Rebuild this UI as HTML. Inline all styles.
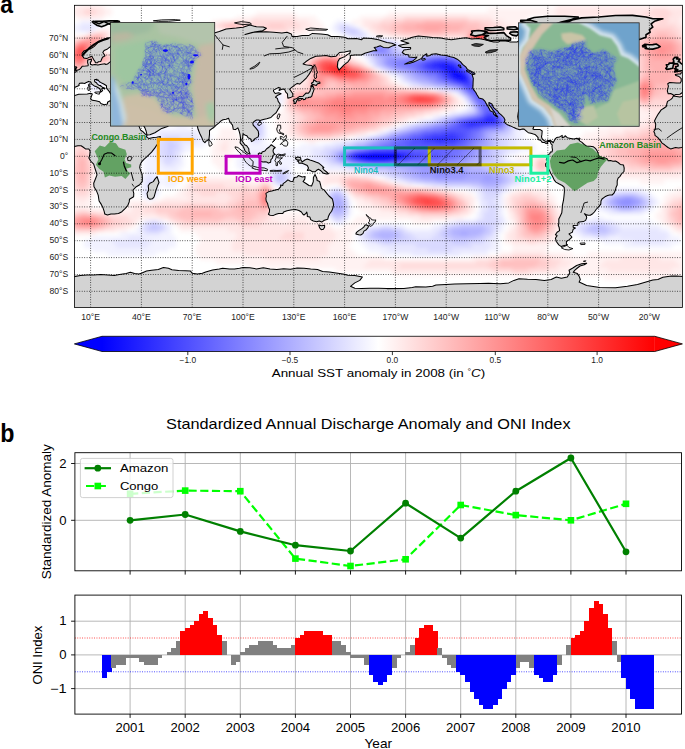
<!DOCTYPE html>
<html><head><meta charset="utf-8"><title>Figure</title>
<style>html,body{margin:0;padding:0;background:#fff;}svg{display:block;font-family:"Liberation Sans",sans-serif;}</style></head><body>
<svg width="685" height="749" viewBox="0 0 685 749">
<defs>
<clipPath id="mc"><rect x="74.4" y="5.3" width="608.0" height="302.3"/></clipPath>
<filter id="bl" x="-5%" y="-5%" width="110%" height="110%"><feGaussianBlur stdDeviation="6"/></filter>
<filter id="bl2" x="-5%" y="-5%" width="110%" height="110%"><feGaussianBlur stdDeviation="2.2"/></filter>
<linearGradient id="cb" x1="0" x2="1" y1="0" y2="0"><stop offset="0" stop-color="#0000ff"/><stop offset="0.5" stop-color="#ffffff"/><stop offset="1" stop-color="#ff0000"/></linearGradient>
<filter id="bl1" x="-5%" y="-5%" width="110%" height="110%"><feGaussianBlur stdDeviation="1"/></filter>
</defs>
<rect width="685" height="749" fill="#fff"/>
<g clip-path="url(#mc)">
<rect x="74.4" y="5.3" width="608.0" height="302.3" fill="#fff"/>
<g filter="url(#bl2)">
<path d="M360 152h36v4h-36zM356 156h40v4h-40z" fill="#0000ff"/>
<path d="M452 72h12v4h-12zM456 76h8v4h-8zM396 156h4v4h-4z" fill="#0d0dff"/>
<path d="M440 64h12v4h-12zM448 68h8v4h-8zM452 76h4v4h-4zM464 76h4v4h-4zM356 152h4v4h-4zM396 152h4v4h-4zM400 156h4v4h-4z" fill="#1919ff"/>
<path d="M432 64h8v4h-8zM452 64h4v4h-4zM444 68h4v4h-4zM456 68h4v4h-4zM448 72h4v4h-4zM460 80h8v4h-8zM488 116h4v4h-4zM484 120h12v4h-12zM400 152h4v4h-4zM352 156h4v4h-4z" fill="#2626ff"/>
<path d="M436 60h12v4h-12zM428 64h4v4h-4zM440 68h4v4h-4zM464 72h4v4h-4zM448 76h4v4h-4zM456 80h4v4h-4zM484 116h4v4h-4zM492 116h4v4h-4zM468 120h16v4h-16zM468 124h8v4h-8zM432 136h24v4h-24zM436 140h8v4h-8zM352 152h4v4h-4zM404 152h4v4h-4zM404 156h4v4h-4zM368 160h20v4h-20z" fill="#3333ff"/>
<path d="M432 60h4v4h-4zM448 60h4v4h-4zM424 64h4v4h-4zM456 64h4v4h-4zM432 68h8v4h-8zM460 68h4v4h-4zM444 72h4v4h-4zM468 80h4v4h-4zM464 120h4v4h-4zM496 120h4v4h-4zM464 124h4v4h-4zM476 124h8v4h-8zM444 132h12v4h-12zM424 136h8v4h-8zM456 136h4v4h-4zM424 140h12v4h-12zM444 140h12v4h-12zM408 152h4v4h-4zM348 156h4v4h-4zM408 156h4v4h-4zM364 160h4v4h-4zM388 160h4v4h-4z" fill="#4040ff"/>
<path d="M428 60h4v4h-4zM452 60h4v4h-4zM428 68h4v4h-4zM440 72h4v4h-4zM444 76h4v4h-4zM468 76h4v4h-4zM452 80h4v4h-4zM464 84h8v4h-8zM488 112h4v4h-4zM480 116h4v4h-4zM496 116h4v4h-4zM460 120h4v4h-4zM460 124h4v4h-4zM484 124h4v4h-4zM432 132h12v4h-12zM456 132h8v4h-8zM420 136h4v4h-4zM460 136h4v4h-4zM412 140h12v4h-12zM456 140h4v4h-4zM372 148h24v4h-24zM412 152h12v4h-12zM412 156h8v4h-8zM360 160h4v4h-4zM392 160h4v4h-4z" fill="#4d4dff"/>
<path d="M424 60h4v4h-4zM420 64h4v4h-4zM424 68h4v4h-4zM464 68h4v4h-4zM472 84h4v4h-4zM468 88h8v4h-8zM484 112h4v4h-4zM492 112h4v4h-4zM476 116h4v4h-4zM456 124h4v4h-4zM488 124h8v4h-8zM448 128h24v4h-24zM424 132h8v4h-8zM464 132h4v4h-4zM412 136h8v4h-8zM464 136h4v4h-4zM404 140h8v4h-8zM460 140h4v4h-4zM408 144h48v4h-48zM368 148h4v4h-4zM396 148h16v4h-16zM348 152h4v4h-4zM424 152h16v4h-16zM420 156h20v4h-20zM396 160h4v4h-4z" fill="#5959ff"/>
<path d="M440 56h4v4h-4zM420 60h4v4h-4zM456 60h4v4h-4zM416 64h4v4h-4zM460 64h4v4h-4zM420 68h4v4h-4zM436 72h4v4h-4zM468 72h4v4h-4zM440 76h4v4h-4zM448 80h4v4h-4zM472 80h4v4h-4zM460 84h4v4h-4zM476 88h4v4h-4zM472 92h8v4h-8zM476 96h8v4h-8zM480 100h4v4h-4zM484 104h4v4h-4zM484 108h8v4h-8zM472 116h4v4h-4zM456 120h4v4h-4zM500 120h4v4h-4zM452 124h4v4h-4zM496 124h4v4h-4zM440 128h8v4h-8zM472 128h8v4h-8zM420 132h4v4h-4zM468 132h4v4h-4zM408 136h4v4h-4zM468 136h4v4h-4zM396 140h8v4h-8zM464 140h4v4h-4zM392 144h16v4h-16zM456 144h8v4h-8zM364 148h4v4h-4zM412 148h36v4h-36zM440 152h12v4h-12zM344 156h4v4h-4zM440 156h8v4h-8zM356 160h4v4h-4zM400 160h8v4h-8z" fill="#6666ff"/>
<path d="M432 56h8v4h-8zM444 56h8v4h-8zM404 60h16v4h-16zM404 64h12v4h-12zM416 68h4v4h-4zM428 72h8v4h-8zM436 76h4v4h-4zM444 80h4v4h-4zM464 88h4v4h-4zM480 92h4v4h-4zM476 100h4v4h-4zM484 100h4v4h-4zM480 104h4v4h-4zM488 104h4v4h-4zM468 116h4v4h-4zM448 124h4v4h-4zM432 128h8v4h-8zM412 132h8v4h-8zM472 132h4v4h-4zM400 136h8v4h-8zM472 136h4v4h-4zM392 140h4v4h-4zM468 140h4v4h-4zM384 144h8v4h-8zM464 144h4v4h-4zM360 148h4v4h-4zM448 148h12v4h-12zM344 152h4v4h-4zM452 152h8v4h-8zM448 156h8v4h-8zM352 160h4v4h-4zM408 160h20v4h-20z" fill="#7373ff"/>
<path d="M376 48h8v4h-8zM428 56h4v4h-4zM452 56h4v4h-4zM396 60h8v4h-8zM460 60h4v4h-4zM396 64h8v4h-8zM412 68h4v4h-4zM468 68h4v4h-4zM424 72h4v4h-4zM472 76h4v4h-4zM440 80h4v4h-4zM456 84h4v4h-4zM476 84h4v4h-4zM468 92h4v4h-4zM472 96h4v4h-4zM484 96h4v4h-4zM480 108h4v4h-4zM492 108h4v4h-4zM480 112h4v4h-4zM496 112h4v4h-4zM464 116h4v4h-4zM500 116h4v4h-4zM452 120h4v4h-4zM444 124h4v4h-4zM500 124h4v4h-4zM424 128h8v4h-8zM480 128h4v4h-4zM408 132h4v4h-4zM476 132h4v4h-4zM396 136h4v4h-4zM476 136h4v4h-4zM388 140h4v4h-4zM472 140h4v4h-4zM380 144h4v4h-4zM468 144h4v4h-4zM356 148h4v4h-4zM460 148h8v4h-8zM460 152h4v4h-4zM456 156h8v4h-8zM428 160h16v4h-16z" fill="#8080ff"/>
<path d="M376 44h8v4h-8zM372 48h4v4h-4zM384 48h4v4h-4zM424 56h4v4h-4zM388 60h8v4h-8zM392 64h4v4h-4zM464 64h4v4h-4zM408 68h4v4h-4zM420 72h4v4h-4zM472 72h4v4h-4zM428 76h8v4h-8zM436 80h4v4h-4zM452 84h4v4h-4zM480 88h4v4h-4zM488 100h4v4h-4zM476 104h4v4h-4zM460 116h4v4h-4zM448 120h4v4h-4zM436 124h8v4h-8zM420 128h4v4h-4zM484 128h4v4h-4zM404 132h4v4h-4zM480 132h4v4h-4zM392 136h4v4h-4zM480 136h4v4h-4zM380 140h8v4h-8zM476 140h4v4h-4zM372 144h8v4h-8zM472 144h4v4h-4zM352 148h4v4h-4zM468 148h4v4h-4zM340 152h4v4h-4zM464 152h8v4h-8zM340 156h4v4h-4zM464 156h4v4h-4zM348 160h4v4h-4zM444 160h12v4h-12zM436 172h12v4h-12zM620 200h12v4h-12z" fill="#8c8cff"/>
<path d="M384 44h4v4h-4zM376 52h12v4h-12zM388 56h36v4h-36zM456 56h4v4h-4zM384 60h4v4h-4zM388 64h4v4h-4zM400 68h8v4h-8zM416 72h4v4h-4zM424 76h4v4h-4zM432 80h4v4h-4zM476 80h4v4h-4zM448 84h4v4h-4zM460 88h4v4h-4zM472 100h4v4h-4zM492 104h4v4h-4zM476 112h4v4h-4zM456 116h4v4h-4zM504 120h4v4h-4zM432 124h4v4h-4zM416 128h4v4h-4zM488 128h8v4h-8zM400 132h4v4h-4zM388 136h4v4h-4zM376 140h4v4h-4zM480 140h4v4h-4zM368 144h4v4h-4zM476 144h4v4h-4zM472 148h4v4h-4zM472 152h4v4h-4zM468 156h4v4h-4zM456 160h8v4h-8zM412 164h36v4h-36zM420 168h36v4h-36zM420 172h16v4h-16zM448 172h20v4h-20zM432 176h32v4h-32zM484 176h8v4h-8zM624 196h8v4h-8zM616 200h4v4h-4zM632 200h8v4h-8zM620 204h12v4h-12z" fill="#9999ff"/>
<path d="M372 44h4v4h-4zM368 48h4v4h-4zM388 48h4v4h-4zM388 52h4v4h-4zM384 56h4v4h-4zM460 56h4v4h-4zM464 60h4v4h-4zM384 64h4v4h-4zM468 64h4v4h-4zM396 68h4v4h-4zM472 68h4v4h-4zM412 72h4v4h-4zM416 76h8v4h-8zM476 76h4v4h-4zM428 80h4v4h-4zM444 84h4v4h-4zM464 92h4v4h-4zM484 92h4v4h-4zM468 96h4v4h-4zM476 108h4v4h-4zM496 108h4v4h-4zM500 112h4v4h-4zM504 116h4v4h-4zM444 120h4v4h-4zM428 124h4v4h-4zM504 124h4v4h-4zM412 128h4v4h-4zM496 128h8v4h-8zM396 132h4v4h-4zM484 132h4v4h-4zM384 136h4v4h-4zM484 136h4v4h-4zM372 140h4v4h-4zM484 140h4v4h-4zM364 144h4v4h-4zM480 144h8v4h-8zM348 148h4v4h-4zM476 148h8v4h-8zM336 152h4v4h-4zM476 152h4v4h-4zM336 156h4v4h-4zM472 156h8v4h-8zM344 160h4v4h-4zM464 160h4v4h-4zM372 164h40v4h-40zM448 164h12v4h-12zM408 168h12v4h-12zM456 168h12v4h-12zM412 172h8v4h-8zM468 172h24v4h-24zM420 176h12v4h-12zM464 176h20v4h-20zM492 176h8v4h-8zM480 180h20v4h-20zM616 196h8v4h-8zM632 196h4v4h-4zM336 200h4v4h-4zM612 200h4v4h-4zM336 204h4v4h-4zM616 204h4v4h-4zM632 204h4v4h-4zM460 232h8v4h-8z" fill="#a6a6ff"/>
<path d="M388 44h4v4h-4zM372 52h4v4h-4zM392 52h4v4h-4zM432 52h20v4h-20zM380 56h4v4h-4zM380 60h4v4h-4zM468 60h4v4h-4zM472 64h4v4h-4zM392 68h4v4h-4zM408 72h4v4h-4zM476 72h4v4h-4zM412 76h4v4h-4zM420 80h8v4h-8zM436 84h8v4h-8zM480 84h4v4h-4zM488 96h4v4h-4zM472 112h4v4h-4zM452 116h4v4h-4zM440 120h4v4h-4zM424 124h4v4h-4zM408 128h4v4h-4zM392 132h4v4h-4zM488 132h4v4h-4zM380 136h4v4h-4zM488 136h4v4h-4zM368 140h4v4h-4zM488 140h4v4h-4zM356 144h8v4h-8zM488 144h4v4h-4zM344 148h4v4h-4zM484 148h4v4h-4zM480 152h8v4h-8zM480 156h4v4h-4zM340 160h4v4h-4zM468 160h8v4h-8zM364 164h8v4h-8zM460 164h12v4h-12zM400 168h8v4h-8zM468 168h16v4h-16zM404 172h8v4h-8zM492 172h8v4h-8zM412 176h8v4h-8zM500 176h4v4h-4zM436 180h44v4h-44zM500 180h4v4h-4zM484 184h12v4h-12zM332 196h8v4h-8zM612 196h4v4h-4zM636 196h4v4h-4zM332 200h4v4h-4zM340 200h4v4h-4zM608 200h4v4h-4zM640 200h4v4h-4zM332 204h4v4h-4zM340 204h4v4h-4zM612 204h4v4h-4zM636 204h4v4h-4zM332 208h12v4h-12zM452 228h32v4h-32zM376 232h20v4h-20zM452 232h8v4h-8zM468 232h12v4h-12zM380 236h12v4h-12z" fill="#b2b2ff"/>
<path d="M368 44h4v4h-4zM392 44h4v4h-4zM392 48h4v4h-4zM368 52h4v4h-4zM396 52h8v4h-8zM424 52h8v4h-8zM452 52h8v4h-8zM376 56h4v4h-4zM464 56h4v4h-4zM376 60h4v4h-4zM380 64h4v4h-4zM388 68h4v4h-4zM476 68h4v4h-4zM404 72h4v4h-4zM408 76h4v4h-4zM416 80h4v4h-4zM480 80h4v4h-4zM432 84h4v4h-4zM456 88h4v4h-4zM484 88h4v4h-4zM492 100h4v4h-4zM472 104h4v4h-4zM468 112h4v4h-4zM448 116h4v4h-4zM436 120h4v4h-4zM508 120h4v4h-4zM416 124h8v4h-8zM508 124h4v4h-4zM404 128h4v4h-4zM504 128h4v4h-4zM388 132h4v4h-4zM492 132h8v4h-8zM376 136h4v4h-4zM492 136h4v4h-4zM364 140h4v4h-4zM492 140h4v4h-4zM352 144h4v4h-4zM492 144h4v4h-4zM340 148h4v4h-4zM488 148h4v4h-4zM332 152h4v4h-4zM488 152h4v4h-4zM332 156h4v4h-4zM484 156h8v4h-8zM336 160h4v4h-4zM476 160h8v4h-8zM356 164h8v4h-8zM472 164h12v4h-12zM388 168h12v4h-12zM484 168h12v4h-12zM396 172h8v4h-8zM500 172h4v4h-4zM276 176h8v4h-8zM404 176h8v4h-8zM504 176h4v4h-4zM424 180h12v4h-12zM504 180h4v4h-4zM480 184h4v4h-4zM496 184h4v4h-4zM332 192h8v4h-8zM340 196h4v4h-4zM640 196h4v4h-4zM644 200h4v4h-4zM608 204h4v4h-4zM640 204h4v4h-4zM620 208h12v4h-12zM332 212h12v4h-12zM152 224h4v4h-4zM460 224h24v4h-24zM592 224h12v4h-12zM380 228h12v4h-12zM448 228h4v4h-4zM484 228h4v4h-4zM588 228h20v4h-20zM372 232h4v4h-4zM396 232h4v4h-4zM444 232h8v4h-8zM480 232h4v4h-4zM372 236h8v4h-8zM392 236h8v4h-8zM452 236h24v4h-24z" fill="#bfbfff"/>
<path d="M344 28h12v4h-12zM352 32h4v4h-4zM376 40h12v4h-12zM364 48h4v4h-4zM396 48h4v4h-4zM404 52h20v4h-20zM460 52h4v4h-4zM372 56h4v4h-4zM468 56h4v4h-4zM472 60h4v4h-4zM376 64h4v4h-4zM476 64h4v4h-4zM480 68h4v4h-4zM400 72h4v4h-4zM480 72h4v4h-4zM404 76h4v4h-4zM480 76h4v4h-4zM412 80h4v4h-4zM424 84h8v4h-8zM452 88h4v4h-4zM460 92h4v4h-4zM488 92h4v4h-4zM468 100h4v4h-4zM496 104h4v4h-4zM500 108h4v4h-4zM464 112h4v4h-4zM504 112h4v4h-4zM444 116h4v4h-4zM508 116h4v4h-4zM432 120h4v4h-4zM252 124h8v4h-8zM412 124h4v4h-4zM252 128h8v4h-8zM400 128h4v4h-4zM508 128h4v4h-4zM252 132h8v4h-8zM500 132h8v4h-8zM372 136h4v4h-4zM496 136h4v4h-4zM168 140h4v4h-4zM356 140h8v4h-8zM496 140h4v4h-4zM168 144h8v4h-8zM344 144h8v4h-8zM496 144h4v4h-4zM168 148h4v4h-4zM332 148h8v4h-8zM492 148h8v4h-8zM168 152h4v4h-4zM328 152h4v4h-4zM492 152h8v4h-8zM328 156h4v4h-4zM492 156h4v4h-4zM332 160h4v4h-4zM484 160h12v4h-12zM348 164h8v4h-8zM484 164h12v4h-12zM376 168h12v4h-12zM496 168h4v4h-4zM276 172h8v4h-8zM388 172h8v4h-8zM504 172h4v4h-4zM284 176h4v4h-4zM400 176h4v4h-4zM508 176h4v4h-4zM276 180h8v4h-8zM416 180h8v4h-8zM508 180h4v4h-4zM472 184h8v4h-8zM500 184h4v4h-4zM484 188h16v4h-16zM340 192h4v4h-4zM620 192h16v4h-16zM328 196h4v4h-4zM608 196h4v4h-4zM328 200h4v4h-4zM344 200h4v4h-4zM604 200h4v4h-4zM328 204h4v4h-4zM344 204h4v4h-4zM644 204h4v4h-4zM328 208h4v4h-4zM344 208h4v4h-4zM616 208h4v4h-4zM632 208h8v4h-8zM336 216h4v4h-4zM148 224h4v4h-4zM156 224h8v4h-8zM452 224h8v4h-8zM484 224h8v4h-8zM588 224h4v4h-4zM604 224h4v4h-4zM148 228h12v4h-12zM372 228h8v4h-8zM392 228h8v4h-8zM444 228h4v4h-4zM488 228h4v4h-4zM584 228h4v4h-4zM608 228h4v4h-4zM368 232h4v4h-4zM400 232h4v4h-4zM440 232h4v4h-4zM484 232h8v4h-8zM592 232h16v4h-16zM368 236h4v4h-4zM400 236h8v4h-8zM444 236h8v4h-8zM476 236h8v4h-8zM384 240h8v4h-8zM452 240h16v4h-16z" fill="#ccccff"/>
<path d="M340 24h8v4h-8zM340 28h4v4h-4zM356 28h4v4h-4zM348 32h4v4h-4zM356 32h8v4h-8zM372 40h4v4h-4zM388 40h4v4h-4zM364 44h4v4h-4zM396 44h4v4h-4zM400 48h4v4h-4zM424 48h32v4h-32zM364 52h4v4h-4zM464 52h8v4h-8zM472 56h8v4h-8zM372 60h4v4h-4zM476 60h8v4h-8zM480 64h8v4h-8zM384 68h4v4h-4zM484 68h4v4h-4zM396 72h4v4h-4zM484 72h4v4h-4zM484 76h4v4h-4zM92 80h8v4h-8zM408 80h4v4h-4zM484 80h4v4h-4zM92 84h8v4h-8zM420 84h4v4h-4zM484 84h4v4h-4zM448 88h4v4h-4zM464 96h4v4h-4zM492 96h4v4h-4zM472 108h4v4h-4zM460 112h4v4h-4zM440 116h4v4h-4zM512 116h4v4h-4zM252 120h8v4h-8zM424 120h8v4h-8zM512 120h4v4h-4zM260 124h4v4h-4zM408 124h4v4h-4zM512 124h4v4h-4zM260 128h4v4h-4zM396 128h4v4h-4zM260 132h4v4h-4zM384 132h4v4h-4zM508 132h4v4h-4zM164 136h16v4h-16zM252 136h8v4h-8zM368 136h4v4h-4zM500 136h8v4h-8zM160 140h8v4h-8zM172 140h8v4h-8zM352 140h4v4h-4zM500 140h8v4h-8zM160 144h8v4h-8zM176 144h4v4h-4zM336 144h8v4h-8zM500 144h8v4h-8zM160 148h8v4h-8zM172 148h8v4h-8zM324 148h8v4h-8zM500 148h8v4h-8zM160 152h8v4h-8zM172 152h4v4h-4zM320 152h8v4h-8zM500 152h4v4h-4zM164 156h12v4h-12zM324 156h4v4h-4zM496 156h4v4h-4zM164 160h8v4h-8zM328 160h4v4h-4zM496 160h8v4h-8zM340 164h8v4h-8zM496 164h8v4h-8zM364 168h12v4h-12zM500 168h8v4h-8zM272 172h4v4h-4zM284 172h4v4h-4zM380 172h8v4h-8zM508 172h8v4h-8zM272 176h4v4h-4zM392 176h8v4h-8zM512 176h8v4h-8zM148 180h4v4h-4zM284 180h4v4h-4zM408 180h8v4h-8zM512 180h4v4h-4zM148 184h4v4h-4zM444 184h28v4h-28zM504 184h4v4h-4zM148 188h4v4h-4zM336 188h4v4h-4zM480 188h4v4h-4zM500 188h4v4h-4zM148 192h4v4h-4zM328 192h4v4h-4zM484 192h16v4h-16zM612 192h8v4h-8zM636 192h4v4h-4zM344 196h4v4h-4zM484 196h12v4h-12zM604 196h4v4h-4zM644 196h4v4h-4zM488 200h4v4h-4zM600 200h4v4h-4zM648 200h4v4h-4zM488 204h8v4h-8zM604 204h4v4h-4zM488 208h8v4h-8zM612 208h4v4h-4zM640 208h4v4h-4zM328 212h4v4h-4zM344 212h4v4h-4zM484 212h12v4h-12zM332 216h4v4h-4zM340 216h4v4h-4zM484 216h12v4h-12zM152 220h4v4h-4zM476 220h24v4h-24zM144 224h4v4h-4zM444 224h8v4h-8zM492 224h4v4h-4zM580 224h8v4h-8zM608 224h8v4h-8zM144 228h4v4h-4zM160 228h4v4h-4zM368 228h4v4h-4zM400 228h4v4h-4zM440 228h4v4h-4zM492 228h4v4h-4zM580 228h4v4h-4zM612 228h8v4h-8zM364 232h4v4h-4zM404 232h8v4h-8zM436 232h4v4h-4zM584 232h8v4h-8zM608 232h8v4h-8zM364 236h4v4h-4zM408 236h8v4h-8zM432 236h12v4h-12zM484 236h4v4h-4zM376 240h8v4h-8zM392 240h60v4h-60zM468 240h16v4h-16zM416 244h56v4h-56zM428 248h24v4h-24z" fill="#d9d9ff"/>
<path d="M80 24h20v4h-20zM336 24h4v4h-4zM348 24h4v4h-4zM80 28h12v4h-12zM336 28h4v4h-4zM344 32h4v4h-4zM364 32h4v4h-4zM356 36h8v4h-8zM368 40h4v4h-4zM392 40h4v4h-4zM400 44h4v4h-4zM360 48h4v4h-4zM404 48h20v4h-20zM456 48h12v4h-12zM472 52h8v4h-8zM368 56h4v4h-4zM480 56h8v4h-8zM368 60h4v4h-4zM484 60h8v4h-8zM372 64h4v4h-4zM488 64h8v4h-8zM380 68h4v4h-4zM488 68h8v4h-8zM392 72h4v4h-4zM488 72h8v4h-8zM400 76h4v4h-4zM488 76h8v4h-8zM404 80h4v4h-4zM488 80h4v4h-4zM412 84h8v4h-8zM488 84h4v4h-4zM440 88h8v4h-8zM488 88h4v4h-4zM276 96h4v4h-4zM496 100h4v4h-4zM468 104h4v4h-4zM500 104h4v4h-4zM468 108h4v4h-4zM504 108h4v4h-4zM452 112h8v4h-8zM508 112h8v4h-8zM436 116h4v4h-4zM516 116h8v4h-8zM260 120h4v4h-4zM420 120h4v4h-4zM516 120h8v4h-8zM248 124h4v4h-4zM404 124h4v4h-4zM516 124h4v4h-4zM248 128h4v4h-4zM392 128h4v4h-4zM512 128h4v4h-4zM160 132h36v4h-36zM248 132h4v4h-4zM380 132h4v4h-4zM512 132h4v4h-4zM156 136h8v4h-8zM180 136h20v4h-20zM260 136h4v4h-4zM364 136h4v4h-4zM508 136h8v4h-8zM152 140h8v4h-8zM180 140h16v4h-16zM252 140h8v4h-8zM344 140h8v4h-8zM508 140h8v4h-8zM152 144h8v4h-8zM180 144h4v4h-4zM324 144h12v4h-12zM508 144h8v4h-8zM152 148h8v4h-8zM180 148h4v4h-4zM312 148h12v4h-12zM508 148h12v4h-12zM156 152h4v4h-4zM176 152h4v4h-4zM248 152h20v4h-20zM312 152h8v4h-8zM504 152h4v4h-4zM156 156h8v4h-8zM176 156h4v4h-4zM244 156h28v4h-28zM312 156h12v4h-12zM500 156h4v4h-4zM160 160h4v4h-4zM172 160h8v4h-8zM244 160h28v4h-28zM316 160h12v4h-12zM504 160h8v4h-8zM164 164h12v4h-12zM248 164h20v4h-20zM328 164h12v4h-12zM504 164h8v4h-8zM272 168h16v4h-16zM348 168h16v4h-16zM508 168h12v4h-12zM148 172h4v4h-4zM288 172h4v4h-4zM372 172h8v4h-8zM516 172h8v4h-8zM144 176h12v4h-12zM288 176h4v4h-4zM388 176h4v4h-4zM520 176h8v4h-8zM144 180h4v4h-4zM152 180h4v4h-4zM272 180h4v4h-4zM404 180h4v4h-4zM516 180h8v4h-8zM144 184h4v4h-4zM152 184h4v4h-4zM280 184h4v4h-4zM432 184h12v4h-12zM508 184h4v4h-4zM144 188h4v4h-4zM152 188h4v4h-4zM332 188h4v4h-4zM476 188h4v4h-4zM504 188h4v4h-4zM144 192h4v4h-4zM152 192h4v4h-4zM480 192h4v4h-4zM608 192h4v4h-4zM640 192h8v4h-8zM148 196h4v4h-4zM480 196h4v4h-4zM496 196h4v4h-4zM600 196h4v4h-4zM648 196h4v4h-4zM324 200h4v4h-4zM480 200h8v4h-8zM492 200h8v4h-8zM652 200h4v4h-4zM324 204h4v4h-4zM480 204h8v4h-8zM496 204h4v4h-4zM600 204h4v4h-4zM648 204h4v4h-4zM480 208h8v4h-8zM496 208h4v4h-4zM604 208h8v4h-8zM644 208h4v4h-4zM480 212h4v4h-4zM496 212h4v4h-4zM344 216h4v4h-4zM480 216h4v4h-4zM496 216h8v4h-8zM144 220h8v4h-8zM156 220h4v4h-4zM336 220h8v4h-8zM456 220h20v4h-20zM500 220h4v4h-4zM584 220h28v4h-28zM140 224h4v4h-4zM164 224h4v4h-4zM380 224h12v4h-12zM440 224h4v4h-4zM496 224h4v4h-4zM576 224h4v4h-4zM616 224h4v4h-4zM140 228h4v4h-4zM164 228h4v4h-4zM364 228h4v4h-4zM404 228h4v4h-4zM432 228h8v4h-8zM496 228h4v4h-4zM576 228h4v4h-4zM620 228h40v4h-40zM144 232h16v4h-16zM360 232h4v4h-4zM412 232h24v4h-24zM492 232h4v4h-4zM580 232h4v4h-4zM616 232h52v4h-52zM128 236h16v4h-16zM360 236h4v4h-4zM416 236h16v4h-16zM488 236h8v4h-8zM596 236h12v4h-12zM620 236h48v4h-48zM112 240h40v4h-40zM368 240h8v4h-8zM484 240h8v4h-8zM632 240h32v4h-32zM116 244h32v4h-32zM380 244h36v4h-36zM472 244h20v4h-20zM388 248h40v4h-40zM452 248h36v4h-36zM412 252h48v4h-48z" fill="#e6e6ff"/>
<path d="M80 20h20v4h-20zM336 20h8v4h-8zM72 24h8v4h-8zM100 24h4v4h-4zM332 24h4v4h-4zM352 24h4v4h-4zM72 28h8v4h-8zM92 28h4v4h-4zM332 28h4v4h-4zM360 28h4v4h-4zM340 32h4v4h-4zM348 36h8v4h-8zM364 36h12v4h-12zM360 40h8v4h-8zM396 40h4v4h-4zM360 44h4v4h-4zM404 44h72v4h-72zM356 48h4v4h-4zM468 48h20v4h-20zM360 52h4v4h-4zM480 52h16v4h-16zM364 56h4v4h-4zM488 56h12v4h-12zM492 60h12v4h-12zM496 64h8v4h-8zM496 68h12v4h-12zM388 72h4v4h-4zM496 72h12v4h-12zM92 76h8v4h-8zM396 76h4v4h-4zM496 76h12v4h-12zM88 80h4v4h-4zM100 80h4v4h-4zM400 80h4v4h-4zM492 80h12v4h-12zM88 84h4v4h-4zM100 84h4v4h-4zM408 84h4v4h-4zM492 84h8v4h-8zM92 88h8v4h-8zM436 88h4v4h-4zM492 88h8v4h-8zM276 92h8v4h-8zM456 92h4v4h-4zM492 92h4v4h-4zM272 96h4v4h-4zM280 96h4v4h-4zM496 96h4v4h-4zM276 100h8v4h-8zM464 100h4v4h-4zM500 100h4v4h-4zM276 104h4v4h-4zM504 104h4v4h-4zM464 108h4v4h-4zM508 108h20v4h-20zM448 112h4v4h-4zM516 112h20v4h-20zM252 116h12v4h-12zM432 116h4v4h-4zM524 116h16v4h-16zM248 120h4v4h-4zM416 120h4v4h-4zM524 120h12v4h-12zM176 124h12v4h-12zM264 124h4v4h-4zM400 124h4v4h-4zM520 124h12v4h-12zM152 128h56v4h-56zM264 128h4v4h-4zM388 128h4v4h-4zM516 128h12v4h-12zM148 132h12v4h-12zM196 132h12v4h-12zM264 132h4v4h-4zM376 132h4v4h-4zM516 132h8v4h-8zM144 136h12v4h-12zM200 136h12v4h-12zM248 136h4v4h-4zM264 136h4v4h-4zM356 136h8v4h-8zM516 136h8v4h-8zM144 140h8v4h-8zM196 140h12v4h-12zM248 140h4v4h-4zM260 140h4v4h-4zM332 140h12v4h-12zM516 140h16v4h-16zM144 144h8v4h-8zM184 144h20v4h-20zM248 144h24v4h-24zM300 144h24v4h-24zM516 144h20v4h-20zM144 148h8v4h-8zM184 148h8v4h-8zM244 148h68v4h-68zM520 148h16v4h-16zM144 152h12v4h-12zM180 152h4v4h-4zM240 152h8v4h-8zM268 152h44v4h-44zM508 152h8v4h-8zM144 156h12v4h-12zM180 156h4v4h-4zM236 156h8v4h-8zM272 156h40v4h-40zM504 156h4v4h-4zM144 160h16v4h-16zM180 160h4v4h-4zM236 160h8v4h-8zM272 160h44v4h-44zM512 160h16v4h-16zM144 164h20v4h-20zM176 164h8v4h-8zM236 164h12v4h-12zM268 164h24v4h-24zM300 164h28v4h-28zM512 164h16v4h-16zM144 168h36v4h-36zM240 168h32v4h-32zM288 168h4v4h-4zM320 168h28v4h-28zM520 168h8v4h-8zM144 172h4v4h-4zM152 172h8v4h-8zM164 172h16v4h-16zM256 172h4v4h-4zM268 172h4v4h-4zM364 172h8v4h-8zM524 172h8v4h-8zM140 176h4v4h-4zM156 176h4v4h-4zM164 176h20v4h-20zM268 176h4v4h-4zM292 176h4v4h-4zM384 176h4v4h-4zM528 176h8v4h-8zM140 180h4v4h-4zM156 180h24v4h-24zM288 180h4v4h-4zM396 180h8v4h-8zM524 180h8v4h-8zM140 184h4v4h-4zM156 184h4v4h-4zM164 184h12v4h-12zM276 184h4v4h-4zM284 184h4v4h-4zM424 184h8v4h-8zM512 184h8v4h-8zM140 188h4v4h-4zM156 188h4v4h-4zM328 188h4v4h-4zM340 188h4v4h-4zM468 188h8v4h-8zM508 188h4v4h-4zM612 188h32v4h-32zM140 192h4v4h-4zM156 192h4v4h-4zM324 192h4v4h-4zM344 192h4v4h-4zM476 192h4v4h-4zM500 192h4v4h-4zM600 192h8v4h-8zM648 192h4v4h-4zM144 196h4v4h-4zM152 196h4v4h-4zM324 196h4v4h-4zM476 196h4v4h-4zM500 196h4v4h-4zM596 196h4v4h-4zM652 196h4v4h-4zM348 200h4v4h-4zM500 200h4v4h-4zM592 200h8v4h-8zM656 200h4v4h-4zM348 204h4v4h-4zM500 204h4v4h-4zM592 204h8v4h-8zM652 204h4v4h-4zM324 208h4v4h-4zM348 208h4v4h-4zM500 208h4v4h-4zM596 208h8v4h-8zM648 208h4v4h-4zM324 212h4v4h-4zM348 212h4v4h-4zM476 212h4v4h-4zM500 212h4v4h-4zM608 212h36v4h-36zM328 216h4v4h-4zM476 216h4v4h-4zM592 216h12v4h-12zM160 220h4v4h-4zM332 220h4v4h-4zM448 220h8v4h-8zM504 220h4v4h-4zM576 220h8v4h-8zM612 220h40v4h-40zM168 224h4v4h-4zM368 224h12v4h-12zM392 224h12v4h-12zM432 224h8v4h-8zM500 224h4v4h-4zM572 224h4v4h-4zM620 224h40v4h-40zM136 228h4v4h-4zM168 228h4v4h-4zM360 228h4v4h-4zM408 228h24v4h-24zM500 228h4v4h-4zM568 228h8v4h-8zM660 228h8v4h-8zM120 232h24v4h-24zM160 232h12v4h-12zM356 232h4v4h-4zM496 232h4v4h-4zM572 232h8v4h-8zM668 232h4v4h-4zM92 236h36v4h-36zM144 236h32v4h-32zM356 236h4v4h-4zM496 236h4v4h-4zM580 236h16v4h-16zM608 236h12v4h-12zM668 236h12v4h-12zM84 240h28v4h-28zM152 240h24v4h-24zM360 240h8v4h-8zM492 240h8v4h-8zM604 240h28v4h-28zM664 240h16v4h-16zM84 244h32v4h-32zM148 244h28v4h-28zM364 244h16v4h-16zM492 244h8v4h-8zM624 244h48v4h-48zM92 248h76v4h-76zM368 248h20v4h-20zM488 248h12v4h-12zM108 252h48v4h-48zM380 252h32v4h-32zM460 252h28v4h-28z" fill="#f2f2ff"/>
<path d="M660 0h4v4h-4zM76 4h28v4h-28zM556 4h132v4h-132zM68 8h8v4h-8zM104 8h8v4h-8zM488 8h68v4h-68zM684 8h4v4h-4zM68 12h8v4h-8zM104 12h8v4h-8zM256 12h40v4h-40zM388 12h168v4h-168zM76 16h28v4h-28zM236 16h16v4h-16zM296 16h20v4h-20zM360 16h24v4h-24zM492 16h36v4h-36zM552 16h88v4h-88zM680 16h8v4h-8zM212 20h8v4h-8zM308 20h12v4h-12zM352 20h12v4h-12zM504 20h20v4h-20zM632 20h12v4h-12zM680 20h8v4h-8zM208 24h4v4h-4zM312 24h12v4h-12zM360 24h4v4h-4zM512 24h16v4h-16zM632 24h8v4h-8zM684 24h4v4h-4zM100 28h12v4h-12zM212 28h12v4h-12zM304 28h20v4h-20zM508 28h20v4h-20zM632 28h8v4h-8zM684 28h4v4h-4zM108 32h4v4h-4zM244 32h64v4h-64zM372 32h4v4h-4zM500 32h20v4h-20zM628 32h8v4h-8zM72 36h4v4h-4zM108 36h4v4h-4zM392 36h12v4h-12zM496 36h8v4h-8zM628 36h8v4h-8zM68 40h4v4h-4zM468 40h4v4h-4zM488 40h4v4h-4zM624 40h8v4h-8zM104 44h4v4h-4zM624 44h8v4h-8zM96 48h8v4h-8zM624 48h8v4h-8zM108 52h8v4h-8zM312 52h8v4h-8zM340 52h12v4h-12zM624 52h8v4h-8zM304 56h4v4h-4zM352 56h4v4h-4zM624 56h8v4h-8zM112 60h4v4h-4zM300 60h4v4h-4zM360 60h4v4h-4zM624 60h8v4h-8zM88 64h4v4h-4zM296 64h8v4h-8zM624 64h8v4h-8zM68 68h4v4h-4zM292 68h12v4h-12zM624 68h8v4h-8zM72 72h16v4h-16zM288 72h16v4h-16zM384 72h4v4h-4zM624 72h8v4h-8zM284 76h20v4h-20zM388 76h4v4h-4zM624 76h8v4h-8zM280 80h20v4h-20zM392 80h4v4h-4zM628 80h4v4h-4zM284 84h8v4h-8zM400 84h4v4h-4zM628 84h4v4h-4zM284 88h4v4h-4zM428 88h4v4h-4zM628 88h4v4h-4zM284 92h4v4h-4zM628 92h4v4h-4zM284 96h4v4h-4zM456 96h4v4h-4zM628 96h4v4h-4zM684 96h4v4h-4zM268 100h4v4h-4zM460 100h4v4h-4zM632 100h4v4h-4zM684 100h4v4h-4zM268 104h4v4h-4zM456 104h8v4h-8zM632 104h8v4h-8zM680 104h8v4h-8zM268 108h4v4h-4zM448 108h8v4h-8zM636 108h8v4h-8zM676 108h12v4h-12zM272 112h16v4h-16zM432 112h8v4h-8zM636 112h16v4h-16zM676 112h12v4h-12zM276 116h12v4h-12zM416 116h8v4h-8zM636 116h12v4h-12zM684 116h4v4h-4zM276 120h12v4h-12zM404 120h4v4h-4zM628 120h16v4h-16zM276 124h12v4h-12zM392 124h4v4h-4zM608 124h28v4h-28zM76 128h12v4h-12zM220 128h16v4h-16zM276 128h12v4h-12zM380 128h4v4h-4zM596 128h28v4h-28zM76 132h12v4h-12zM220 132h16v4h-16zM280 132h8v4h-8zM364 132h4v4h-4zM584 132h24v4h-24zM72 136h8v4h-8zM84 136h8v4h-8zM216 136h24v4h-24zM288 136h8v4h-8zM340 136h8v4h-8zM580 136h20v4h-20zM72 140h4v4h-4zM88 140h4v4h-4zM216 140h8v4h-8zM228 140h12v4h-12zM308 140h8v4h-8zM576 140h16v4h-16zM68 144h4v4h-4zM92 144h4v4h-4zM212 144h8v4h-8zM228 144h12v4h-12zM572 144h16v4h-16zM68 148h4v4h-4zM92 148h4v4h-4zM212 148h8v4h-8zM228 148h8v4h-8zM572 148h16v4h-16zM68 152h4v4h-4zM92 152h4v4h-4zM212 152h20v4h-20zM540 152h4v4h-4zM572 152h16v4h-16zM68 156h4v4h-4zM92 156h4v4h-4zM212 156h20v4h-20zM516 156h20v4h-20zM548 156h4v4h-4zM572 156h16v4h-16zM68 160h4v4h-4zM92 160h4v4h-4zM212 160h16v4h-16zM532 160h4v4h-4zM576 160h16v4h-16zM68 164h4v4h-4zM92 164h4v4h-4zM216 164h12v4h-12zM580 164h20v4h-20zM220 168h8v4h-8zM532 168h4v4h-4zM548 168h4v4h-4zM584 168h24v4h-24zM68 172h4v4h-4zM92 172h4v4h-4zM324 172h32v4h-32zM536 172h4v4h-4zM544 172h4v4h-4zM596 172h28v4h-28zM680 172h8v4h-8zM68 176h4v4h-4zM92 176h4v4h-4zM192 176h48v4h-48zM316 176h8v4h-8zM372 176h4v4h-4zM608 176h80v4h-80zM68 180h4v4h-4zM92 180h4v4h-4zM188 180h4v4h-4zM236 180h24v4h-24zM268 180h4v4h-4zM316 180h8v4h-8zM388 180h4v4h-4zM640 180h24v4h-24zM68 184h4v4h-4zM92 184h4v4h-4zM184 184h4v4h-4zM320 184h8v4h-8zM404 184h8v4h-8zM68 188h4v4h-4zM92 188h4v4h-4zM180 188h8v4h-8zM272 188h4v4h-4zM344 188h4v4h-4zM444 188h8v4h-8zM516 188h12v4h-12zM532 188h16v4h-16zM676 188h12v4h-12zM68 192h4v4h-4zM92 192h4v4h-4zM176 192h8v4h-8zM348 192h4v4h-4zM464 192h8v4h-8zM508 192h4v4h-4zM544 192h8v4h-8zM668 192h16v4h-16zM72 196h4v4h-4zM88 196h4v4h-4zM164 196h24v4h-24zM352 196h4v4h-4zM472 196h4v4h-4zM504 196h4v4h-4zM548 196h8v4h-8zM664 196h8v4h-8zM72 200h8v4h-8zM84 200h8v4h-8zM128 200h20v4h-20zM152 200h8v4h-8zM356 200h8v4h-8zM472 200h4v4h-4zM504 200h4v4h-4zM552 200h4v4h-4zM664 200h4v4h-4zM72 204h20v4h-20zM124 204h8v4h-8zM356 204h16v4h-16zM472 204h4v4h-4zM504 204h4v4h-4zM556 204h4v4h-4zM660 204h4v4h-4zM68 208h8v4h-8zM88 208h44v4h-44zM272 208h4v4h-4zM360 208h20v4h-20zM472 208h4v4h-4zM556 208h8v4h-8zM660 208h4v4h-4zM272 212h40v4h-40zM368 212h28v4h-28zM468 212h4v4h-4zM508 212h4v4h-4zM560 212h4v4h-4zM656 212h8v4h-8zM140 216h20v4h-20zM272 216h52v4h-52zM356 216h64v4h-64zM448 216h16v4h-16zM508 216h4v4h-4zM560 216h4v4h-4zM656 216h8v4h-8zM136 220h4v4h-4zM168 220h4v4h-4zM280 220h8v4h-8zM308 220h20v4h-20zM352 220h16v4h-16zM412 220h20v4h-20zM512 220h4v4h-4zM560 220h4v4h-4zM660 220h4v4h-4zM132 224h4v4h-4zM176 224h4v4h-4zM324 224h8v4h-8zM344 224h16v4h-16zM508 224h8v4h-8zM560 224h4v4h-4zM668 224h4v4h-4zM116 228h12v4h-12zM180 228h48v4h-48zM332 228h24v4h-24zM508 228h4v4h-4zM556 228h4v4h-4zM672 228h4v4h-4zM72 232h24v4h-24zM196 232h40v4h-40zM336 232h16v4h-16zM504 232h4v4h-4zM556 232h4v4h-4zM680 232h8v4h-8zM200 236h36v4h-36zM336 236h16v4h-16zM504 236h4v4h-4zM552 236h8v4h-8zM200 240h32v4h-32zM332 240h20v4h-20zM504 240h8v4h-8zM548 240h8v4h-8zM196 244h36v4h-36zM328 244h20v4h-20zM512 244h36v4h-36zM196 248h36v4h-36zM328 248h24v4h-24zM512 248h36v4h-36zM196 252h48v4h-48zM328 252h28v4h-28zM500 252h12v4h-12zM544 252h28v4h-28zM588 252h100v4h-100zM200 256h64v4h-64zM320 256h64v4h-64zM472 256h16v4h-16zM564 256h56v4h-56zM660 256h28v4h-28zM216 260h152v4h-152zM572 260h32v4h-32zM676 260h12v4h-12zM248 264h116v4h-116zM568 264h32v4h-32zM680 264h8v4h-8zM336 268h56v4h-56zM560 268h48v4h-48zM672 268h16v4h-16zM392 272h120v4h-120zM532 272h156v4h-156zM604 276h72v4h-72z" fill="#fff2f2"/>
<path d="M76 8h8v4h-8zM96 8h8v4h-8zM556 8h96v4h-96zM668 8h16v4h-16zM76 12h8v4h-8zM96 12h8v4h-8zM556 12h88v4h-88zM672 12h16v4h-16zM252 16h44v4h-44zM384 16h20v4h-20zM468 16h24v4h-24zM640 16h16v4h-16zM668 16h12v4h-12zM220 20h12v4h-12zM236 20h16v4h-16zM296 20h12v4h-12zM364 20h16v4h-16zM492 20h12v4h-12zM644 20h12v4h-12zM668 20h12v4h-12zM212 24h4v4h-4zM300 24h12v4h-12zM364 24h8v4h-8zM500 24h12v4h-12zM640 24h8v4h-8zM676 24h8v4h-8zM224 28h36v4h-36zM288 28h16v4h-16zM368 28h8v4h-8zM496 28h12v4h-12zM640 28h4v4h-4zM680 28h4v4h-4zM88 32h4v4h-4zM376 32h12v4h-12zM492 32h8v4h-8zM636 32h8v4h-8zM680 32h8v4h-8zM76 36h4v4h-4zM404 36h60v4h-60zM636 36h4v4h-4zM684 36h4v4h-4zM104 40h4v4h-4zM632 40h4v4h-4zM68 44h4v4h-4zM100 44h4v4h-4zM632 44h4v4h-4zM632 48h4v4h-4zM92 52h4v4h-4zM320 52h20v4h-20zM632 52h4v4h-4zM112 56h4v4h-4zM308 56h4v4h-4zM348 56h4v4h-4zM632 56h4v4h-4zM108 60h4v4h-4zM304 60h4v4h-4zM356 60h4v4h-4zM632 60h4v4h-4zM68 64h4v4h-4zM364 64h4v4h-4zM632 64h4v4h-4zM84 68h4v4h-4zM304 68h4v4h-4zM372 68h4v4h-4zM632 68h4v4h-4zM304 72h4v4h-4zM380 72h4v4h-4zM632 72h4v4h-4zM304 76h4v4h-4zM632 76h4v4h-4zM300 80h8v4h-8zM388 80h4v4h-4zM632 80h4v4h-4zM292 84h12v4h-12zM396 84h4v4h-4zM632 84h4v4h-4zM684 84h4v4h-4zM288 88h8v4h-8zM420 88h8v4h-8zM632 88h4v4h-4zM684 88h4v4h-4zM448 92h4v4h-4zM632 92h4v4h-4zM680 92h8v4h-8zM632 96h4v4h-4zM680 96h4v4h-4zM284 100h4v4h-4zM456 100h4v4h-4zM676 100h8v4h-8zM284 104h4v4h-4zM452 104h4v4h-4zM668 104h12v4h-12zM284 108h4v4h-4zM440 108h8v4h-8zM644 108h32v4h-32zM288 112h4v4h-4zM424 112h8v4h-8zM652 112h24v4h-24zM288 116h8v4h-8zM408 116h8v4h-8zM648 116h16v4h-16zM668 116h16v4h-16zM288 120h8v4h-8zM396 120h8v4h-8zM644 120h8v4h-8zM684 120h4v4h-4zM288 124h4v4h-4zM388 124h4v4h-4zM636 124h12v4h-12zM288 128h4v4h-4zM376 128h4v4h-4zM624 128h16v4h-16zM288 132h8v4h-8zM356 132h8v4h-8zM608 132h16v4h-16zM80 136h4v4h-4zM296 136h8v4h-8zM332 136h8v4h-8zM600 136h12v4h-12zM76 140h12v4h-12zM224 140h4v4h-4zM592 140h12v4h-12zM72 144h4v4h-4zM88 144h4v4h-4zM220 144h8v4h-8zM588 144h12v4h-12zM72 148h4v4h-4zM88 148h4v4h-4zM220 148h8v4h-8zM588 148h8v4h-8zM588 152h8v4h-8zM536 156h4v4h-4zM544 156h4v4h-4zM588 156h12v4h-12zM548 160h4v4h-4zM592 160h12v4h-12zM532 164h4v4h-4zM548 164h4v4h-4zM600 164h12v4h-12zM68 168h4v4h-4zM92 168h4v4h-4zM608 168h20v4h-20zM684 168h4v4h-4zM540 172h4v4h-4zM624 172h56v4h-56zM324 176h16v4h-16zM368 176h4v4h-4zM192 180h44v4h-44zM260 180h8v4h-8zM324 180h16v4h-16zM384 180h4v4h-4zM188 184h8v4h-8zM224 184h16v4h-16zM248 184h12v4h-12zM340 184h4v4h-4zM400 184h4v4h-4zM72 188h4v4h-4zM88 188h4v4h-4zM188 188h4v4h-4zM436 188h8v4h-8zM528 188h4v4h-4zM72 192h4v4h-4zM88 192h4v4h-4zM184 192h16v4h-16zM216 192h12v4h-12zM272 192h4v4h-4zM456 192h8v4h-8zM512 192h8v4h-8zM532 192h12v4h-12zM684 192h4v4h-4zM76 196h12v4h-12zM188 196h44v4h-44zM272 196h4v4h-4zM356 196h8v4h-8zM464 196h8v4h-8zM508 196h4v4h-4zM540 196h8v4h-8zM672 196h8v4h-8zM80 200h4v4h-4zM160 200h68v4h-68zM272 200h4v4h-4zM364 200h8v4h-8zM468 200h4v4h-4zM508 200h4v4h-4zM548 200h4v4h-4zM668 200h4v4h-4zM132 204h20v4h-20zM272 204h4v4h-4zM372 204h8v4h-8zM468 204h4v4h-4zM508 204h4v4h-4zM552 204h4v4h-4zM664 204h4v4h-4zM76 208h12v4h-12zM132 208h12v4h-12zM380 208h12v4h-12zM468 208h4v4h-4zM508 208h4v4h-4zM664 208h4v4h-4zM68 212h4v4h-4zM104 212h52v4h-52zM268 212h4v4h-4zM396 212h12v4h-12zM460 212h8v4h-8zM512 212h4v4h-4zM556 212h4v4h-4zM664 212h4v4h-4zM128 216h12v4h-12zM160 216h8v4h-8zM268 216h4v4h-4zM420 216h28v4h-28zM512 216h4v4h-4zM556 216h4v4h-4zM664 216h4v4h-4zM132 220h4v4h-4zM172 220h4v4h-4zM264 220h16v4h-16zM288 220h20v4h-20zM556 220h4v4h-4zM664 220h4v4h-4zM124 224h8v4h-8zM180 224h60v4h-60zM260 224h64v4h-64zM556 224h4v4h-4zM672 224h4v4h-4zM68 228h4v4h-4zM104 228h12v4h-12zM228 228h104v4h-104zM512 228h4v4h-4zM676 228h12v4h-12zM236 232h48v4h-48zM304 232h32v4h-32zM508 232h8v4h-8zM552 232h4v4h-4zM236 236h44v4h-44zM304 236h32v4h-32zM508 236h8v4h-8zM548 236h4v4h-4zM232 240h100v4h-100zM512 240h16v4h-16zM536 240h12v4h-12zM232 244h96v4h-96zM232 248h96v4h-96zM244 252h84v4h-84zM512 252h32v4h-32zM264 256h56v4h-56zM488 256h12v4h-12zM552 256h12v4h-12zM620 256h40v4h-40zM368 260h108v4h-108zM560 260h12v4h-12zM604 260h72v4h-72zM364 264h36v4h-36zM556 264h12v4h-12zM600 264h80v4h-80zM392 268h100v4h-100zM548 268h12v4h-12zM608 268h64v4h-64zM512 272h20v4h-20z" fill="#ffe6e6"/>
<path d="M84 8h12v4h-12zM652 8h16v4h-16zM84 12h12v4h-12zM644 12h28v4h-28zM404 16h64v4h-64zM656 16h12v4h-12zM232 20h4v4h-4zM252 20h44v4h-44zM380 20h12v4h-12zM480 20h12v4h-12zM656 20h12v4h-12zM216 24h4v4h-4zM248 24h20v4h-20zM284 24h16v4h-16zM372 24h8v4h-8zM488 24h12v4h-12zM648 24h28v4h-28zM260 28h28v4h-28zM376 28h8v4h-8zM488 28h8v4h-8zM644 28h8v4h-8zM672 28h8v4h-8zM92 32h4v4h-4zM104 32h4v4h-4zM388 32h12v4h-12zM644 32h4v4h-4zM676 32h4v4h-4zM80 36h4v4h-4zM104 36h4v4h-4zM640 36h4v4h-4zM680 36h4v4h-4zM72 40h4v4h-4zM472 40h4v4h-4zM484 40h4v4h-4zM636 40h4v4h-4zM684 40h4v4h-4zM636 44h4v4h-4zM684 44h4v4h-4zM92 48h4v4h-4zM96 52h12v4h-12zM344 56h4v4h-4zM636 56h4v4h-4zM684 56h4v4h-4zM88 60h8v4h-8zM352 60h4v4h-4zM636 60h4v4h-4zM684 60h4v4h-4zM304 64h4v4h-4zM636 64h4v4h-4zM684 64h4v4h-4zM72 68h4v4h-4zM80 68h4v4h-4zM636 68h4v4h-4zM684 68h4v4h-4zM308 72h4v4h-4zM636 72h4v4h-4zM684 72h4v4h-4zM384 76h4v4h-4zM636 76h4v4h-4zM684 76h4v4h-4zM384 80h4v4h-4zM680 80h8v4h-8zM304 84h4v4h-4zM388 84h8v4h-8zM680 84h4v4h-4zM296 88h12v4h-12zM408 88h12v4h-12zM680 88h4v4h-4zM288 92h4v4h-4zM444 92h4v4h-4zM676 92h4v4h-4zM452 96h4v4h-4zM672 96h8v4h-8zM452 100h4v4h-4zM636 100h4v4h-4zM652 100h24v4h-24zM448 104h4v4h-4zM640 104h28v4h-28zM288 108h4v4h-4zM432 108h8v4h-8zM292 112h8v4h-8zM416 112h8v4h-8zM296 116h8v4h-8zM400 116h8v4h-8zM664 116h4v4h-4zM296 120h4v4h-4zM392 120h4v4h-4zM652 120h32v4h-32zM292 124h4v4h-4zM380 124h8v4h-8zM648 124h8v4h-8zM680 124h8v4h-8zM292 128h4v4h-4zM368 128h8v4h-8zM640 128h8v4h-8zM296 132h4v4h-4zM348 132h8v4h-8zM624 132h16v4h-16zM304 136h28v4h-28zM612 136h16v4h-16zM604 140h12v4h-12zM76 144h12v4h-12zM600 144h8v4h-8zM76 148h4v4h-4zM84 148h4v4h-4zM596 148h12v4h-12zM72 152h4v4h-4zM88 152h4v4h-4zM596 152h12v4h-12zM72 156h4v4h-4zM88 156h4v4h-4zM540 156h4v4h-4zM600 156h8v4h-8zM72 160h4v4h-4zM88 160h4v4h-4zM604 160h12v4h-12zM612 164h16v4h-16zM536 168h4v4h-4zM544 168h4v4h-4zM628 168h20v4h-20zM672 168h12v4h-12zM72 176h4v4h-4zM88 176h4v4h-4zM340 176h8v4h-8zM360 176h8v4h-8zM72 180h4v4h-4zM88 180h4v4h-4zM340 180h4v4h-4zM380 180h4v4h-4zM72 184h4v4h-4zM88 184h4v4h-4zM196 184h28v4h-28zM240 184h8v4h-8zM268 184h4v4h-4zM396 184h4v4h-4zM76 188h4v4h-4zM84 188h4v4h-4zM192 188h52v4h-52zM248 188h8v4h-8zM428 188h8v4h-8zM76 192h12v4h-12zM200 192h16v4h-16zM228 192h12v4h-12zM352 192h4v4h-4zM452 192h4v4h-4zM520 192h12v4h-12zM232 196h8v4h-8zM364 196h8v4h-8zM460 196h4v4h-4zM512 196h8v4h-8zM536 196h4v4h-4zM680 196h8v4h-8zM228 200h8v4h-8zM372 200h8v4h-8zM464 200h4v4h-4zM512 200h4v4h-4zM544 200h4v4h-4zM672 200h8v4h-8zM152 204h32v4h-32zM216 204h12v4h-12zM380 204h8v4h-8zM512 204h4v4h-4zM548 204h4v4h-4zM668 204h4v4h-4zM144 208h12v4h-12zM268 208h4v4h-4zM392 208h8v4h-8zM464 208h4v4h-4zM512 208h4v4h-4zM552 208h4v4h-4zM668 208h4v4h-4zM72 212h4v4h-4zM96 212h8v4h-8zM156 212h12v4h-12zM408 212h12v4h-12zM452 212h8v4h-8zM552 212h4v4h-4zM112 216h16v4h-16zM168 216h4v4h-4zM260 216h8v4h-8zM516 216h4v4h-4zM668 216h4v4h-4zM120 220h12v4h-12zM176 220h8v4h-8zM220 220h20v4h-20zM252 220h12v4h-12zM516 220h4v4h-4zM668 220h4v4h-4zM112 224h12v4h-12zM240 224h20v4h-20zM516 224h4v4h-4zM552 224h4v4h-4zM676 224h4v4h-4zM72 228h4v4h-4zM96 228h8v4h-8zM516 228h4v4h-4zM552 228h4v4h-4zM284 232h20v4h-20zM516 232h4v4h-4zM548 232h4v4h-4zM280 236h24v4h-24zM516 236h8v4h-8zM544 236h4v4h-4zM528 240h8v4h-8zM500 256h12v4h-12zM540 256h12v4h-12zM476 260h16v4h-16zM548 260h12v4h-12zM400 264h88v4h-88zM548 264h8v4h-8zM492 268h20v4h-20zM528 268h20v4h-20z" fill="#ffd9d9"/>
<path d="M392 20h12v4h-12zM468 20h12v4h-12zM220 24h4v4h-4zM244 24h4v4h-4zM268 24h16v4h-16zM380 24h12v4h-12zM480 24h8v4h-8zM384 28h8v4h-8zM476 28h12v4h-12zM652 28h20v4h-20zM96 32h8v4h-8zM400 32h20v4h-20zM444 32h24v4h-24zM648 32h8v4h-8zM668 32h8v4h-8zM464 36h4v4h-4zM492 36h4v4h-4zM644 36h4v4h-4zM676 36h4v4h-4zM100 40h4v4h-4zM640 40h4v4h-4zM680 40h4v4h-4zM96 44h4v4h-4zM68 48h4v4h-4zM636 48h4v4h-4zM684 48h4v4h-4zM88 52h4v4h-4zM636 52h4v4h-4zM684 52h4v4h-4zM312 56h4v4h-4zM340 56h4v4h-4zM640 56h4v4h-4zM680 56h4v4h-4zM68 60h4v4h-4zM96 60h4v4h-4zM104 60h4v4h-4zM308 60h4v4h-4zM348 60h4v4h-4zM640 60h4v4h-4zM680 60h4v4h-4zM84 64h4v4h-4zM360 64h4v4h-4zM640 64h4v4h-4zM680 64h4v4h-4zM76 68h4v4h-4zM640 68h4v4h-4zM680 68h4v4h-4zM376 72h4v4h-4zM640 72h4v4h-4zM680 72h4v4h-4zM308 76h4v4h-4zM380 76h4v4h-4zM680 76h4v4h-4zM308 80h4v4h-4zM380 80h4v4h-4zM636 80h4v4h-4zM676 80h4v4h-4zM308 84h4v4h-4zM328 84h8v4h-8zM380 84h8v4h-8zM676 84h4v4h-4zM308 88h8v4h-8zM396 88h12v4h-12zM672 88h8v4h-8zM292 92h4v4h-4zM660 92h16v4h-16zM288 96h4v4h-4zM652 96h20v4h-20zM648 100h4v4h-4zM288 104h4v4h-4zM444 104h4v4h-4zM292 108h4v4h-4zM424 108h8v4h-8zM300 112h4v4h-4zM404 112h12v4h-12zM304 116h4v4h-4zM392 116h8v4h-8zM300 120h4v4h-4zM384 120h8v4h-8zM296 124h4v4h-4zM376 124h4v4h-4zM656 124h24v4h-24zM296 128h4v4h-4zM360 128h8v4h-8zM648 128h8v4h-8zM676 128h12v4h-12zM300 132h4v4h-4zM340 132h8v4h-8zM640 132h8v4h-8zM684 132h4v4h-4zM628 136h12v4h-12zM684 136h4v4h-4zM616 140h12v4h-12zM684 140h4v4h-4zM608 144h12v4h-12zM80 148h4v4h-4zM608 148h8v4h-8zM76 152h4v4h-4zM84 152h4v4h-4zM608 152h8v4h-8zM608 156h12v4h-12zM536 160h4v4h-4zM544 160h4v4h-4zM616 160h12v4h-12zM72 164h4v4h-4zM88 164h4v4h-4zM536 164h4v4h-4zM544 164h4v4h-4zM628 164h12v4h-12zM680 164h8v4h-8zM72 168h4v4h-4zM88 168h4v4h-4zM540 168h4v4h-4zM648 168h24v4h-24zM72 172h4v4h-4zM88 172h4v4h-4zM348 176h12v4h-12zM376 180h4v4h-4zM76 184h4v4h-4zM84 184h4v4h-4zM260 184h4v4h-4zM344 184h4v4h-4zM392 184h4v4h-4zM80 188h4v4h-4zM244 188h4v4h-4zM256 188h4v4h-4zM348 188h4v4h-4zM420 188h8v4h-8zM240 192h16v4h-16zM356 192h8v4h-8zM448 192h4v4h-4zM240 196h16v4h-16zM372 196h8v4h-8zM456 196h4v4h-4zM520 196h16v4h-16zM236 200h8v4h-8zM380 200h8v4h-8zM516 200h8v4h-8zM536 200h8v4h-8zM680 200h8v4h-8zM184 204h32v4h-32zM228 204h8v4h-8zM388 204h8v4h-8zM464 204h4v4h-4zM516 204h4v4h-4zM544 204h4v4h-4zM672 204h8v4h-8zM156 208h24v4h-24zM220 208h12v4h-12zM400 208h8v4h-8zM460 208h4v4h-4zM516 208h4v4h-4zM548 208h4v4h-4zM672 208h4v4h-4zM76 212h4v4h-4zM88 212h8v4h-8zM168 212h8v4h-8zM256 212h12v4h-12zM420 212h32v4h-32zM516 212h4v4h-4zM668 212h4v4h-4zM68 216h4v4h-4zM108 216h4v4h-4zM172 216h8v4h-8zM224 216h12v4h-12zM252 216h8v4h-8zM552 216h4v4h-4zM672 216h4v4h-4zM112 220h8v4h-8zM184 220h36v4h-36zM240 220h12v4h-12zM552 220h4v4h-4zM672 220h4v4h-4zM68 224h4v4h-4zM108 224h4v4h-4zM520 224h4v4h-4zM680 224h8v4h-8zM76 228h20v4h-20zM520 228h4v4h-4zM548 228h4v4h-4zM520 232h4v4h-4zM544 232h4v4h-4zM524 236h20v4h-20zM512 256h28v4h-28zM492 260h8v4h-8zM540 260h8v4h-8zM488 264h12v4h-12zM536 264h12v4h-12zM512 268h16v4h-16z" fill="#ffcccc"/>
<path d="M404 20h20v4h-20zM444 20h24v4h-24zM224 24h4v4h-4zM236 24h8v4h-8zM392 24h8v4h-8zM464 24h16v4h-16zM392 28h12v4h-12zM460 28h16v4h-16zM420 32h24v4h-24zM488 32h4v4h-4zM656 32h12v4h-12zM84 36h4v4h-4zM100 36h4v4h-4zM648 36h8v4h-8zM668 36h8v4h-8zM476 40h8v4h-8zM644 40h4v4h-4zM676 40h4v4h-4zM640 44h4v4h-4zM680 44h4v4h-4zM640 48h4v4h-4zM680 48h4v4h-4zM68 52h4v4h-4zM640 52h4v4h-4zM680 52h4v4h-4zM68 56h4v4h-4zM88 56h8v4h-8zM108 56h4v4h-4zM316 56h4v4h-4zM644 56h4v4h-4zM676 56h4v4h-4zM100 60h4v4h-4zM644 60h4v4h-4zM676 60h4v4h-4zM72 64h4v4h-4zM644 64h4v4h-4zM676 64h4v4h-4zM308 68h4v4h-4zM368 68h4v4h-4zM644 68h8v4h-8zM672 68h8v4h-8zM312 72h4v4h-4zM644 72h4v4h-4zM672 72h8v4h-8zM376 76h4v4h-4zM640 76h4v4h-4zM672 76h8v4h-8zM328 80h8v4h-8zM372 80h8v4h-8zM668 80h8v4h-8zM324 84h4v4h-4zM336 84h16v4h-16zM368 84h12v4h-12zM656 84h20v4h-20zM316 88h28v4h-28zM388 88h8v4h-8zM656 88h16v4h-16zM296 92h4v4h-4zM308 92h16v4h-16zM440 92h4v4h-4zM652 92h8v4h-8zM448 96h4v4h-4zM636 96h4v4h-4zM288 100h4v4h-4zM448 100h4v4h-4zM640 100h4v4h-4zM440 104h4v4h-4zM296 108h4v4h-4zM412 108h12v4h-12zM304 112h8v4h-8zM392 112h12v4h-12zM308 116h8v4h-8zM380 116h12v4h-12zM304 120h8v4h-8zM376 120h8v4h-8zM300 124h4v4h-4zM368 124h8v4h-8zM300 128h4v4h-4zM352 128h8v4h-8zM656 128h20v4h-20zM304 132h4v4h-4zM332 132h8v4h-8zM648 132h12v4h-12zM672 132h12v4h-12zM640 136h12v4h-12zM676 136h8v4h-8zM628 140h16v4h-16zM676 140h8v4h-8zM620 144h16v4h-16zM680 144h8v4h-8zM616 148h12v4h-12zM684 148h4v4h-4zM80 152h4v4h-4zM616 152h12v4h-12zM76 156h12v4h-12zM620 156h12v4h-12zM76 160h4v4h-4zM84 160h4v4h-4zM540 160h4v4h-4zM628 160h8v4h-8zM684 160h4v4h-4zM76 164h4v4h-4zM84 164h4v4h-4zM540 164h4v4h-4zM640 164h12v4h-12zM672 164h8v4h-8zM76 168h4v4h-4zM84 168h4v4h-4zM76 172h4v4h-4zM84 172h4v4h-4zM76 176h4v4h-4zM84 176h4v4h-4zM76 180h12v4h-12zM344 180h4v4h-4zM372 180h4v4h-4zM80 184h4v4h-4zM264 184h4v4h-4zM388 184h4v4h-4zM268 188h4v4h-4zM352 188h4v4h-4zM404 188h16v4h-16zM256 192h4v4h-4zM364 192h4v4h-4zM444 192h4v4h-4zM256 196h4v4h-4zM380 196h8v4h-8zM244 200h16v4h-16zM388 200h4v4h-4zM460 200h4v4h-4zM524 200h12v4h-12zM236 204h24v4h-24zM268 204h4v4h-4zM396 204h4v4h-4zM460 204h4v4h-4zM520 204h4v4h-4zM540 204h4v4h-4zM680 204h8v4h-8zM180 208h40v4h-40zM232 208h8v4h-8zM248 208h20v4h-20zM408 208h4v4h-4zM456 208h4v4h-4zM520 208h4v4h-4zM676 208h4v4h-4zM80 212h8v4h-8zM176 212h16v4h-16zM212 212h44v4h-44zM520 212h4v4h-4zM548 212h4v4h-4zM672 212h8v4h-8zM104 216h4v4h-4zM180 216h44v4h-44zM236 216h16v4h-16zM520 216h4v4h-4zM676 216h4v4h-4zM68 220h4v4h-4zM108 220h4v4h-4zM520 220h4v4h-4zM676 220h12v4h-12zM104 224h4v4h-4zM548 224h4v4h-4zM524 228h4v4h-4zM524 232h8v4h-8zM540 232h4v4h-4zM500 260h40v4h-40zM500 264h36v4h-36z" fill="#ffbfbf"/>
<path d="M424 20h20v4h-20zM228 24h8v4h-8zM400 24h16v4h-16zM448 24h16v4h-16zM404 28h20v4h-20zM440 28h20v4h-20zM468 32h4v4h-4zM88 36h4v4h-4zM656 36h12v4h-12zM76 40h4v4h-4zM648 40h4v4h-4zM672 40h4v4h-4zM72 44h4v4h-4zM92 44h4v4h-4zM644 44h4v4h-4zM676 44h4v4h-4zM88 48h4v4h-4zM644 48h4v4h-4zM676 48h4v4h-4zM644 52h4v4h-4zM676 52h4v4h-4zM336 56h4v4h-4zM648 56h4v4h-4zM672 56h4v4h-4zM84 60h4v4h-4zM648 60h28v4h-28zM80 64h4v4h-4zM308 64h4v4h-4zM356 64h4v4h-4zM648 64h28v4h-28zM652 68h20v4h-20zM372 72h4v4h-4zM648 72h24v4h-24zM312 76h4v4h-4zM372 76h4v4h-4zM644 76h28v4h-28zM324 80h4v4h-4zM336 80h4v4h-4zM368 80h4v4h-4zM652 80h16v4h-16zM312 84h4v4h-4zM352 84h16v4h-16zM636 84h4v4h-4zM652 84h4v4h-4zM344 88h44v4h-44zM636 88h4v4h-4zM652 88h4v4h-4zM300 92h8v4h-8zM324 92h12v4h-12zM636 92h4v4h-4zM292 96h4v4h-4zM648 96h4v4h-4zM644 100h4v4h-4zM292 104h4v4h-4zM300 108h12v4h-12zM396 108h16v4h-16zM312 112h8v4h-8zM380 112h12v4h-12zM316 116h8v4h-8zM372 116h8v4h-8zM312 120h4v4h-4zM368 120h8v4h-8zM304 124h4v4h-4zM356 124h12v4h-12zM304 128h4v4h-4zM340 128h12v4h-12zM308 132h24v4h-24zM660 132h12v4h-12zM652 136h24v4h-24zM644 140h32v4h-32zM636 144h20v4h-20zM668 144h12v4h-12zM628 148h16v4h-16zM676 148h8v4h-8zM628 152h12v4h-12zM684 152h4v4h-4zM632 156h8v4h-8zM684 156h4v4h-4zM80 160h4v4h-4zM636 160h8v4h-8zM680 160h4v4h-4zM80 164h4v4h-4zM652 164h20v4h-20zM80 168h4v4h-4zM80 172h4v4h-4zM80 176h4v4h-4zM348 180h24v4h-24zM348 184h4v4h-4zM380 184h8v4h-8zM260 188h4v4h-4zM356 188h4v4h-4zM392 188h12v4h-12zM368 192h12v4h-12zM440 192h4v4h-4zM388 196h4v4h-4zM452 196h4v4h-4zM268 200h4v4h-4zM392 200h4v4h-4zM456 200h4v4h-4zM400 204h4v4h-4zM456 204h4v4h-4zM524 204h8v4h-8zM536 204h4v4h-4zM240 208h8v4h-8zM412 208h4v4h-4zM452 208h4v4h-4zM544 208h4v4h-4zM680 208h8v4h-8zM192 212h20v4h-20zM680 212h8v4h-8zM72 216h4v4h-4zM100 216h4v4h-4zM548 216h4v4h-4zM680 216h8v4h-8zM104 220h4v4h-4zM548 220h4v4h-4zM72 224h4v4h-4zM100 224h4v4h-4zM524 224h4v4h-4zM544 228h4v4h-4zM532 232h8v4h-8z" fill="#ffb2b2"/>
<path d="M416 24h32v4h-32zM424 28h16v4h-16zM92 36h8v4h-8zM96 40h4v4h-4zM652 40h20v4h-20zM648 44h4v4h-4zM672 44h4v4h-4zM648 48h4v4h-4zM672 48h4v4h-4zM648 52h8v4h-8zM668 52h8v4h-8zM96 56h4v4h-4zM104 56h4v4h-4zM320 56h4v4h-4zM332 56h4v4h-4zM652 56h20v4h-20zM312 60h4v4h-4zM344 60h4v4h-4zM76 64h4v4h-4zM352 64h4v4h-4zM312 68h4v4h-4zM364 68h4v4h-4zM324 76h8v4h-8zM368 76h4v4h-4zM340 80h8v4h-8zM356 80h12v4h-12zM640 80h4v4h-4zM648 80h4v4h-4zM320 84h4v4h-4zM336 92h16v4h-16zM384 92h16v4h-16zM436 92h4v4h-4zM296 96h4v4h-4zM308 96h20v4h-20zM444 96h4v4h-4zM292 100h4v4h-4zM444 100h4v4h-4zM296 104h4v4h-4zM436 104h4v4h-4zM312 108h8v4h-8zM380 108h16v4h-16zM320 112h4v4h-4zM368 112h12v4h-12zM324 116h12v4h-12zM356 116h16v4h-16zM316 120h52v4h-52zM308 124h8v4h-8zM336 124h20v4h-20zM308 128h4v4h-4zM332 128h8v4h-8zM656 144h12v4h-12zM644 148h32v4h-32zM640 152h8v4h-8zM676 152h8v4h-8zM640 156h8v4h-8zM676 156h8v4h-8zM644 160h12v4h-12zM668 160h12v4h-12zM352 184h12v4h-12zM372 184h8v4h-8zM360 188h8v4h-8zM384 188h8v4h-8zM268 192h4v4h-4zM380 192h16v4h-16zM436 192h4v4h-4zM268 196h4v4h-4zM392 196h4v4h-4zM448 196h4v4h-4zM396 200h4v4h-4zM260 204h4v4h-4zM404 204h4v4h-4zM532 204h4v4h-4zM416 208h4v4h-4zM448 208h4v4h-4zM524 208h4v4h-4zM540 208h4v4h-4zM524 212h4v4h-4zM544 212h4v4h-4zM76 216h4v4h-4zM96 216h4v4h-4zM524 216h4v4h-4zM72 220h4v4h-4zM100 220h4v4h-4zM524 220h4v4h-4zM76 224h4v4h-4zM96 224h4v4h-4zM544 224h4v4h-4zM528 228h4v4h-4zM540 228h4v4h-4z" fill="#ffa6a6"/>
<path d="M80 40h16v4h-16zM88 44h4v4h-4zM652 44h20v4h-20zM652 48h8v4h-8zM664 48h8v4h-8zM656 52h12v4h-12zM84 56h4v4h-4zM100 56h4v4h-4zM324 56h8v4h-8zM72 60h4v4h-4zM316 72h4v4h-4zM368 72h4v4h-4zM316 76h8v4h-8zM332 76h4v4h-4zM312 80h4v4h-4zM348 80h8v4h-8zM644 80h4v4h-4zM316 84h4v4h-4zM648 84h4v4h-4zM648 88h4v4h-4zM352 92h32v4h-32zM400 92h8v4h-8zM432 92h4v4h-4zM648 92h4v4h-4zM300 96h8v4h-8zM328 96h8v4h-8zM384 96h4v4h-4zM640 96h8v4h-8zM296 100h4v4h-4zM308 100h16v4h-16zM300 104h24v4h-24zM384 104h24v4h-24zM432 104h4v4h-4zM320 108h8v4h-8zM368 108h12v4h-12zM324 112h16v4h-16zM352 112h16v4h-16zM336 116h20v4h-20zM316 124h20v4h-20zM312 128h20v4h-20zM648 152h28v4h-28zM648 156h28v4h-28zM656 160h12v4h-12zM364 184h8v4h-8zM264 188h4v4h-4zM368 188h16v4h-16zM260 192h4v4h-4zM396 192h12v4h-12zM432 192h4v4h-4zM396 196h4v4h-4zM260 200h4v4h-4zM400 200h4v4h-4zM452 200h4v4h-4zM264 204h4v4h-4zM452 204h4v4h-4zM420 208h8v4h-8zM440 208h8v4h-8zM528 208h12v4h-12zM80 216h16v4h-16zM544 216h4v4h-4zM76 220h4v4h-4zM96 220h4v4h-4zM528 220h4v4h-4zM544 220h4v4h-4zM80 224h16v4h-16zM528 224h4v4h-4zM540 224h4v4h-4zM532 228h8v4h-8z" fill="#ff9999"/>
<path d="M484 32h4v4h-4zM72 48h4v4h-4zM660 48h4v4h-4zM84 52h4v4h-4zM340 60h4v4h-4zM312 64h4v4h-4zM348 64h4v4h-4zM360 68h4v4h-4zM364 72h4v4h-4zM364 76h4v4h-4zM316 80h8v4h-8zM640 84h4v4h-4zM408 92h4v4h-4zM428 92h4v4h-4zM640 92h4v4h-4zM336 96h48v4h-48zM388 96h12v4h-12zM440 96h4v4h-4zM300 100h8v4h-8zM324 100h8v4h-8zM372 100h28v4h-28zM440 100h4v4h-4zM324 104h8v4h-8zM368 104h16v4h-16zM408 104h24v4h-24zM328 108h12v4h-12zM352 108h16v4h-16zM340 112h12v4h-12zM264 192h4v4h-4zM408 192h8v4h-8zM424 192h8v4h-8zM260 196h4v4h-4zM400 196h4v4h-4zM444 196h4v4h-4zM408 204h4v4h-4zM428 208h12v4h-12zM528 212h16v4h-16zM528 216h4v4h-4zM540 216h4v4h-4zM80 220h4v4h-4zM92 220h4v4h-4zM532 220h12v4h-12zM532 224h8v4h-8z" fill="#ff8c8c"/>
<path d="M472 32h4v4h-4zM76 44h4v4h-4zM72 52h4v4h-4zM72 56h4v4h-4zM76 60h8v4h-8zM316 60h4v4h-4zM316 68h4v4h-4zM320 72h4v4h-4zM336 76h4v4h-4zM360 76h4v4h-4zM644 84h4v4h-4zM640 88h8v4h-8zM412 92h16v4h-16zM644 92h4v4h-4zM400 96h4v4h-4zM332 100h40v4h-40zM400 100h4v4h-4zM332 104h36v4h-36zM340 108h12v4h-12zM416 192h8v4h-8zM264 196h4v4h-4zM404 196h4v4h-4zM440 196h4v4h-4zM264 200h4v4h-4zM404 200h4v4h-4zM448 200h4v4h-4zM412 204h4v4h-4zM448 204h4v4h-4zM532 216h8v4h-8zM84 220h8v4h-8z" fill="#ff8080"/>
<path d="M468 36h4v4h-4zM488 36h4v4h-4zM84 44h4v4h-4zM84 48h4v4h-4zM336 60h4v4h-4zM316 64h4v4h-4zM356 68h4v4h-4zM324 72h4v4h-4zM360 72h4v4h-4zM340 76h8v4h-8zM356 76h4v4h-4zM404 96h4v4h-4zM436 96h4v4h-4zM404 100h4v4h-4zM436 100h4v4h-4zM408 196h4v4h-4zM408 200h4v4h-4zM444 200h4v4h-4zM416 204h4v4h-4zM444 204h4v4h-4z" fill="#ff7373"/>
<path d="M80 44h4v4h-4zM76 56h8v4h-8zM320 60h4v4h-4zM332 60h4v4h-4zM344 64h4v4h-4zM352 68h4v4h-4zM328 72h4v4h-4zM348 76h8v4h-8zM408 100h4v4h-4zM432 100h4v4h-4zM412 196h4v4h-4zM436 196h4v4h-4zM420 204h4v4h-4zM440 204h4v4h-4z" fill="#ff6666"/>
<path d="M476 32h8v4h-8zM76 48h4v4h-4zM76 52h8v4h-8zM324 60h8v4h-8zM320 64h4v4h-4zM320 68h4v4h-4zM348 68h4v4h-4zM356 72h4v4h-4zM408 96h4v4h-4zM432 96h4v4h-4zM412 100h4v4h-4zM416 196h4v4h-4zM428 196h8v4h-8zM412 200h4v4h-4zM440 200h4v4h-4zM424 204h16v4h-16z" fill="#ff5959"/>
<path d="M80 48h4v4h-4zM324 64h4v4h-4zM340 64h4v4h-4zM332 72h4v4h-4zM348 72h8v4h-8zM412 96h4v4h-4zM424 96h8v4h-8zM416 100h16v4h-16zM420 196h8v4h-8zM416 200h8v4h-8zM432 200h8v4h-8z" fill="#ff4d4d"/>
<path d="M328 64h12v4h-12zM324 68h4v4h-4zM344 68h4v4h-4zM336 72h12v4h-12zM416 96h8v4h-8zM424 200h8v4h-8z" fill="#ff4040"/>
<path d="M328 68h4v4h-4z" fill="#ff3333"/>
<path d="M332 68h12v4h-12z" fill="#ff2626"/>
<path d="M472 36h4v4h-4zM484 36h4v4h-4z" fill="#ff1919"/>
<path d="M476 36h8v4h-8z" fill="#ff0000"/>
</g>
<path d="M128.4 103.6 L126.2 103.1 L122.8 104 L119.4 103.3 L116 103 L112.6 101.3 L110.1 100.8 L107.5 102.3 L107.5 104.1 L104.1 104.8 L100.8 103.5 L99.6 101.8 L95.7 100.8 L92.3 100.3 L90.6 98.9 L91.4 96.4 L92.3 94 L90.6 93.3 L87.2 94 L78.7 94.2 L73.7 95.9 L70.3 97.1 L63.7 95.9 L62.7 98.1 L61 99.6 L57.9 101.4 L57.2 104 L56.7 106.5 L54.2 108.2 L51.7 109.9 L48.6 114.1 L46.2 118.3 L44.9 121 L46.1 124.2 L45.7 129.3 L44.2 131.5 L45.2 133.5 L45.4 135.4 L48.3 137.7 L49.1 138.6 L51.1 141.1 L52.5 143.1 L55 144.8 L58.4 147.5 L61 148.9 L66.1 147.5 L68.9 147.9 L72 147.5 L75.4 146.3 L77.9 145.7 L81.1 145.7 L83 147 L85.5 148.9 L88.9 149 L90.1 151.2 L89.8 154.6 L88.9 158 L90.6 161 L93.7 164.1 L94.5 166.8 L96 171.5 L97 174.9 L95.7 178.2 L93.7 183.3 L94 186.7 L96.5 190.9 L98.2 195.1 L99.1 201 L101.3 204.4 L103 207.8 L104.1 211.2 L104.8 214 L107.5 215 L110.9 214 L114.3 213.9 L118.5 213.5 L121.9 211.7 L125.3 208.3 L127.9 205.3 L129.2 201.9 L129.5 199.3 L133.6 196.8 L133.8 193.4 L132.9 190.1 L136.3 186.7 L139.7 184.7 L142.2 181.6 L142.4 178.2 L142.1 174 L140.6 170.6 L139.7 167.3 L140.2 164.7 L141.4 162.2 L143.9 159.3 L147.3 156.3 L151.6 152.1 L154.9 147.9 L158.3 142.8 L160 138.7 L160.4 136.4 L156.6 137.2 L153.3 137.4 L149 138.6 L146.5 136.9 L147 135.2 L145.6 134.4 L143.1 131.8 L140.6 130.1 L138.9 125.9 L136.8 124.2 L136.3 120.9 L133.8 115.8 L131.9 110.7 L130.4 109 L128.7 105.7 L130.4 108.7 L131.6 109.5 L132.8 106.5 L132.9 109 L135.5 112.4 L137.2 115.8 L139.7 120 L142.2 123.4 L144.8 127.6 L146.1 131 L147 134.9 L149.9 134.7 L154.9 132.7 L161.7 128.4 L166.8 126.8 L171 124.2 L172.7 121.7 L174.9 118.3 L172.7 116.5 L169.3 114.9 L169 112.1 L166.8 113.3 L165.1 115.5 L161.4 115.8 L160.9 113.3 L159.7 112.7 L158.7 111.6 L156.6 109.4 L154.9 106.5 L156.3 105.2 L158.3 105.7 L160 109 L163.4 111.2 L166.8 111.1 L169.3 110.6 L171 112.9 L175.3 113.6 L178.7 113.9 L182.9 113.8 L186.3 113.6 L188 115.8 L189.7 117 L190.5 118.7 L192.2 120.9 L194.7 121.2 L196.4 120 L196.9 124.2 L198.1 129.3 L199.8 133.5 L201.5 136.9 L203.2 141.1 L204.9 142.6 L206.1 141.1 L207.8 140.6 L209 138.9 L209.5 134.4 L209.5 130.5 L211.7 128.8 L213.4 127.8 L215.9 125.4 L219.3 122.7 L221 120.9 L223 119.7 L226.1 119.2 L228.6 118.3 L229.5 120.9 L230.3 122.5 L232.5 125.1 L233.3 129.3 L235.4 129.6 L237.9 127.9 L239.1 131 L240 134.4 L240.6 138.6 L240.1 142.8 L242.2 145.3 L243.5 147 L245.2 151.2 L247.2 152.9 L248.9 153.9 L250.1 153.9 L248.9 151.2 L248.8 148.7 L246.7 145.8 L244.7 144.7 L243.5 142.8 L241.8 140.6 L242.7 137.7 L243 133.8 L244.7 134.9 L246.9 135.7 L248.1 137.7 L250.6 138.9 L251.5 141.6 L254 140.3 L254.9 138.6 L258.2 136.9 L258.7 134.4 L258.2 131 L255.7 127.9 L253.2 125.1 L252.8 122.9 L254.5 121.2 L256.5 120 L259.1 120 L259.9 121.7 L260.8 120.3 L263.3 119.5 L266.7 118.7 L270.9 117.5 L273.5 114.9 L276 112.9 L277.7 109.9 L279.9 106.5 L280.1 104 L278.2 101.4 L277.4 98.4 L275.5 97.2 L277.7 95.2 L281.1 93.8 L278.6 92.8 L275.2 93.5 L273.5 91.3 L273.5 90.1 L276 88.9 L278.6 87.4 L280.3 87.9 L279.1 90.5 L281.9 89.3 L284.5 89.1 L285.8 92.2 L287.5 93.8 L287.7 97.2 L287.9 98.2 L290.4 97.6 L292.8 96.4 L292.8 93.8 L290.9 91 L289.6 89.1 L293.3 86.2 L295 84.9 L297.2 83.4 L299.7 84.1 L303.1 81.2 L306.5 77.8 L309 74.4 L311.6 70.2 L312.9 66.8 L311.6 65.5 L307.3 65.1 L305.7 64.8 L303.1 64 L305.7 61.8 L310.7 58.4 L315.8 56.2 L320.9 55.9 L326 55.5 L331.1 56.7 L336.1 56.2 L339.5 52.5 L344.6 52 L350.5 50.8 L349.7 53.3 L344.6 56.7 L339.5 58.7 L337.8 61.8 L337.3 66.8 L339 70.2 L342.1 66.8 L344.6 64.3 L348 61.8 L350.2 58.7 L350.5 55.4 L354.8 55 L361.5 55 L364.9 53.3 L369.2 52 L373.4 50.8 L376.8 50.8 L374.2 47.4 L376.8 46.9 L380.2 45.7 L383.5 47.4 L388.6 47.8 L392 46.1 L395.9 44.9 L392 43.2 L386.9 42.4 L378.5 39.8 L371.7 38.5 L363.2 38.1 L361.5 39.8 L356.5 38.6 L348 38.8 L344.6 37.3 L337.8 36.5 L331.1 36.5 L327.7 34.8 L320.9 33.9 L312.4 33.4 L309 35.4 L302.3 35.4 L297.2 36.5 L292.1 36.5 L291.3 33.9 L287 32.2 L281.9 33.1 L273.5 32.2 L265.9 31.7 L253.8 32.2 L245 34.6 L252 32.4 L262.6 30.7 L266.4 28.3 L263.3 27 L256.5 26.8 L249.8 25.1 L243 27.2 L236.2 28 L226.1 28.9 L219.3 31.4 L214.2 33.1 L210.8 32.2 L209.1 34.8 L205.7 34.3 L200.7 33.4 L197.3 35.6 L192.2 34.8 L188.8 39.8 L175.3 39.8 L166.8 40.7 L149.9 41.5 L141.4 43.2 L132.9 39 L126.2 37.6 L117.2 36.3 L105.8 38.6 L100.8 40.7 L97.4 43.2 L94 46.6 L91.4 48.3 L88.1 49.6 L83.8 51.1 L82.1 53.3 L82.5 55.9 L83.8 57.9 L86.4 58.4 L88.1 57.9 L91.1 56.4 L92.3 56.7 L92.8 57.9 L94 60.1 L95.2 61.8 L95.3 62.8 L97.7 62.8 L98.2 61.8 L100.8 61.4 L101.6 59.2 L102.5 57.2 L105 55.9 L104.1 54.2 L102.8 52.5 L104.1 50.5 L107.5 48.9 L110.1 46.9 L111.3 45.6 L116 45.7 L116 53.3 L112.6 55 L112.6 60.1 L109.2 62.6 L107.5 64.1 L105.8 64.5 L105 63.8 L101.6 64.3 L97.9 65.1 L94.8 64.6 L92.3 65.1 L90.6 64.3 L90.3 62.6 L91.4 60.9 L91.4 59.1 L87.7 60.1 L87.6 62.6 L88.2 64.6 L88.1 65.7 L85.5 66 L82.1 66.3 L81.3 67.7 L79.6 69.4 L77.9 70 L76.5 70.5 L76.2 71.7 L74 72.7 L71.6 72.7 L71 74.1 L68.6 73.9 L65.7 74.6 L66.4 75.6 L69.4 76.5 L71.6 78.7 L71.6 81.2 L70.6 83 L66.9 82.9 L63.5 82.7 L60.1 82.5 L58.1 83.7 L58.8 86.2 L57.8 90.8 L58.6 93.8 L61.1 93.5 L63 94.5 L64.5 95.4 L66.2 94.4 L70.3 94.2 L72.5 92.8 L73.7 91 L73.2 89.6 L75 87.3 L79.1 85.6 L78.9 84.6 L79.6 83.2 L82.1 83 L84.7 83.5 L86.4 82.4 L88.6 81.4 L90.9 82.2 L91.4 83.9 L94.3 85.9 L96.5 86.8 L99.9 88.8 L100.8 91.3 L100.3 92.2 L101.6 91.6 L102.6 90.5 L101.8 89.3 L102.5 87.9 L104.8 88.9 L105 88.3 L102.5 87.1 L100.8 86.2 L100.8 85.6 L99.1 85.4 L97.4 84.1 L96.5 82.7 L94.7 81.7 L94.5 79.8 L96.9 79.2 L96.7 80.3 L98.2 80 L99.4 81.7 L101.6 82.9 L103.3 83.7 L105 84.7 L106.5 85.7 L106.5 87.9 L107.5 89.3 L109.2 91.3 L110.1 93 L111.4 94.7 L114.3 92.2 L117.7 88.8 L119.4 93.8 L124.5 94.7 L129.5 95.2 L134.6 94.7 L133.8 99.8 L132.1 103.1Z M738 103.6 L735.8 103.1 L732.4 104 L729 103.3 L725.6 103 L722.2 101.3 L719.7 100.8 L717.1 102.3 L717.1 104.1 L713.7 104.8 L710.4 103.5 L709.2 101.8 L705.3 100.8 L701.9 100.3 L700.2 98.9 L701 96.4 L701.9 94 L700.2 93.3 L696.8 94 L688.3 94.2 L683.3 95.9 L679.9 97.1 L673.3 95.9 L672.3 98.1 L670.6 99.6 L667.5 101.4 L666.8 104 L666.3 106.5 L663.8 108.2 L661.2 109.9 L658.2 114.1 L655.8 118.3 L654.5 121 L655.7 124.2 L655.3 129.3 L653.8 131.5 L654.8 133.5 L655 135.4 L657.9 137.7 L658.7 138.6 L660.7 141.1 L662.1 143.1 L664.6 144.8 L668 147.5 L670.6 148.9 L675.6 147.5 L678.5 147.9 L681.6 147.5 L685 146.3 L687.5 145.7 L690.7 145.7 L692.6 147 L695.1 148.9 L698.5 149 L699.7 151.2 L699.3 154.6 L698.5 158 L700.2 161 L703.2 164.1 L704.1 166.8 L705.6 171.5 L706.6 174.9 L705.3 178.2 L703.2 183.3 L703.6 186.7 L706.1 190.9 L707.8 195.1 L708.7 201 L710.9 204.4 L712.6 207.8 L713.7 211.2 L714.4 214 L717.1 215 L720.5 214 L723.9 213.9 L728.1 213.5 L731.5 211.7 L734.9 208.3 L737.4 205.3 L738.8 201.9 L739.1 199.3 L743.2 196.8 L743.4 193.4 L742.5 190.1 L745.9 186.7 L749.3 184.7 L751.8 181.6 L752 178.2 L751.7 174 L750.1 170.6 L749.3 167.3 L749.8 164.7 L751 162.2 L753.5 159.3 L756.9 156.3 L761.1 152.1 L764.5 147.9 L767.9 142.8 L769.6 138.7 L770 136.4 L766.2 137.2 L762.8 137.4 L758.6 138.6 L756.1 136.9 L756.6 135.2 L755.2 134.4 L752.7 131.8 L750.1 130.1 L748.5 125.9 L746.4 124.2 L745.9 120.9 L743.4 115.8 L741.5 110.7 L740 109 L738.3 105.7 L740 108.7 L741.2 109.5 L742.4 106.5 L742.5 109 L745.1 112.4 L746.8 115.8 L749.3 120 L751.8 123.4 L754.4 127.6 L755.7 131 L756.6 134.9 L759.5 134.7 L764.5 132.7 L771.3 128.4 L776.4 126.8 L780.6 124.2 L782.3 121.7 L784.5 118.3 L782.3 116.5 L778.9 114.9 L778.6 112.1 L776.4 113.3 L774.7 115.5 L771 115.8 L770.5 113.3 L769.3 112.7 L768.3 111.6 L766.2 109.4 L764.5 106.5 L765.9 105.2 L767.9 105.7 L769.6 109 L773 111.2 L776.4 111.1 L778.9 110.6 L780.6 112.9 L784.9 113.6 L788.2 113.9 L792.5 113.8 L795.9 113.6 L797.6 115.8 L799.2 117 L800.1 118.7 L801.8 120.9 L804.3 121.2 L806 120 L806.5 124.2 L807.7 129.3 L809.4 133.5 L811.1 136.9 L812.8 141.1 L814.5 142.6 L815.7 141.1 L817.4 140.6 L818.6 138.9 L819.1 134.4 L819.1 130.5 L821.3 128.8 L823 127.8 L825.5 125.4 L828.9 122.7 L830.6 120.9 L832.6 119.7 L835.7 119.2 L838.2 118.3 L839 120.9 L839.9 122.5 L842.1 125.1 L842.9 129.3 L845 129.6 L847.5 127.9 L848.7 131 L849.5 134.4 L850.2 138.6 L849.7 142.8 L851.7 145.3 L853.1 147 L854.8 151.2 L856.8 152.9 L858.5 153.9 L859.7 153.9 L858.5 151.2 L858.3 148.7 L856.3 145.8 L854.3 144.7 L853.1 142.8 L851.4 140.6 L852.2 137.7 L852.6 133.8 L854.3 134.9 L856.5 135.7 L857.7 137.7 L860.2 138.9 L861.1 141.6 L863.6 140.3 L864.4 138.6 L867.8 136.9 L868.3 134.4 L867.8 131 L865.3 127.9 L862.7 125.1 L862.4 122.9 L864.1 121.2 L866.1 120 L868.7 120 L869.5 121.7 L870.4 120.3 L872.9 119.5 L876.3 118.7 L880.5 117.5 L883.1 114.9 L885.6 112.9 L887.3 109.9 L889.5 106.5 L889.7 104 L887.8 101.4 L887 98.4 L885.1 97.2 L887.3 95.2 L890.7 93.8 L888.1 92.8 L884.8 93.5 L883.1 91.3 L883.1 90.1 L885.6 88.9 L888.1 87.4 L889.8 87.9 L888.7 90.5 L891.5 89.3 L894.1 89.1 L895.4 92.2 L897.1 93.8 L897.3 97.2 L897.5 98.2 L900 97.6 L902.4 96.4 L902.4 93.8 L900.5 91 L899.2 89.1 L902.9 86.2 L904.6 84.9 L906.8 83.4 L909.3 84.1 L912.7 81.2 L916.1 77.8 L918.6 74.4 L921.2 70.2 L922.5 66.8 L921.2 65.5 L916.9 65.1 L915.2 64.8 L912.7 64 L915.2 61.8 L920.3 58.4 L925.4 56.2 L930.5 55.9 L935.6 55.5 L940.6 56.7 L945.7 56.2 L949.1 52.5 L954.2 52 L960.1 50.8 L959.3 53.3 L954.2 56.7 L949.1 58.7 L947.4 61.8 L946.9 66.8 L948.6 70.2 L951.6 66.8 L954.2 64.3 L957.6 61.8 L959.8 58.7 L960.1 55.4 L964.3 55 L971.1 55 L974.5 53.3 L978.7 52 L983 50.8 L986.4 50.8 L983.8 47.4 L986.4 46.9 L989.7 45.7 L993.1 47.4 L998.2 47.8 L1001.6 46.1 L1005.5 44.9 L1001.6 43.2 L996.5 42.4 L988.1 39.8 L981.3 38.5 L972.8 38.1 L971.1 39.8 L966 38.6 L957.6 38.8 L954.2 37.3 L947.4 36.5 L940.6 36.5 L937.3 34.8 L930.5 33.9 L922 33.4 L918.6 35.4 L911.9 35.4 L906.8 36.5 L901.7 36.5 L900.8 33.9 L896.6 32.2 L891.5 33.1 L883.1 32.2 L875.4 31.7 L863.4 32.2 L854.6 34.6 L861.6 32.4 L872.2 30.7 L876 28.3 L872.9 27 L866.1 26.8 L859.4 25.1 L852.6 27.2 L845.8 28 L835.7 28.9 L828.9 31.4 L823.8 33.1 L820.4 32.2 L818.7 34.8 L815.3 34.3 L810.3 33.4 L806.9 35.6 L801.8 34.8 L798.4 39.8 L784.9 39.8 L776.4 40.7 L759.5 41.5 L751 43.2 L742.5 39 L735.8 37.6 L726.8 36.3 L715.4 38.6 L710.4 40.7 L707 43.2 L703.6 46.6 L701 48.3 L697.7 49.6 L693.4 51.1 L691.7 53.3 L692.1 55.9 L693.4 57.9 L696 58.4 L697.7 57.9 L700.7 56.4 L701.9 56.7 L702.4 57.9 L703.6 60.1 L704.8 61.8 L704.9 62.8 L707.3 62.8 L707.8 61.8 L710.4 61.4 L711.2 59.2 L712 57.2 L714.6 55.9 L713.7 54.2 L712.4 52.5 L713.7 50.5 L717.1 48.9 L719.7 46.9 L720.8 45.6 L725.6 45.7 L725.6 53.3 L722.2 55 L722.2 60.1 L718.8 62.6 L717.1 64.1 L715.4 64.5 L714.6 63.8 L711.2 64.3 L707.5 65.1 L704.4 64.6 L701.9 65.1 L700.2 64.3 L699.9 62.6 L701 60.9 L701 59.1 L697.3 60.1 L697.1 62.6 L697.8 64.6 L697.7 65.7 L695.1 66 L691.7 66.3 L690.9 67.7 L689.2 69.4 L687.5 70 L686.1 70.5 L685.8 71.7 L683.6 72.7 L681.2 72.7 L680.5 74.1 L678.2 73.9 L675.3 74.6 L676 75.6 L679 76.5 L681.2 78.7 L681.2 81.2 L680.2 83 L676.5 82.9 L673.1 82.7 L669.7 82.5 L667.7 83.7 L668.4 86.2 L667.3 90.8 L668.2 93.8 L670.7 93.5 L672.6 94.5 L674.1 95.4 L675.8 94.4 L679.9 94.2 L682.1 92.8 L683.3 91 L682.8 89.6 L684.6 87.3 L688.7 85.6 L688.5 84.6 L689.2 83.2 L691.7 83 L694.3 83.5 L696 82.4 L698.2 81.4 L700.5 82.2 L701 83.9 L703.9 85.9 L706.1 86.8 L709.5 88.8 L710.4 91.3 L709.8 92.2 L711.2 91.6 L712.2 90.5 L711.4 89.3 L712 87.9 L714.4 88.9 L714.6 88.3 L712 87.1 L710.4 86.2 L710.4 85.6 L708.7 85.4 L707 84.1 L706.1 82.7 L704.3 81.7 L704.1 79.8 L706.5 79.2 L706.3 80.3 L707.8 80 L709 81.7 L711.2 82.9 L712.9 83.7 L714.6 84.7 L716.1 85.7 L716.1 87.9 L717.1 89.3 L718.8 91.3 L719.7 93 L721 94.7 L723.9 92.2 L727.3 88.8 L729 93.8 L734.1 94.7 L739.1 95.2 L744.2 94.7 L743.4 99.8 L741.7 103.1Z M157.1 176.6 L159 182.5 L157.5 185.8 L155.8 190.9 L154.1 196.8 L152.4 198.8 L149.9 199.3 L147.8 197.7 L147 193.4 L148.7 190.1 L148.2 185.8 L149.9 183.3 L153.3 181.6 L154.9 179.1Z M265.9 193.4 L266.7 192.9 L269.2 191.4 L271.8 191.1 L275.2 190.1 L278.6 189.2 L280.8 186.7 L280.6 185 L282.8 185.5 L283.1 183.6 L285.3 182.1 L287.9 179.9 L290.4 181.3 L293 181.5 L293.5 179.1 L294.6 177.4 L297.2 176.9 L298.4 175.5 L302.3 176.9 L305.1 176.6 L304.8 179.1 L303.1 181.6 L305.7 183.3 L309 185.5 L311.6 186 L313.3 181.6 L313.4 177.4 L315 174.5 L316.7 177.9 L317.2 180.6 L319.7 181.6 L320.6 185 L321.4 188.4 L324.3 190.1 L326.8 193.4 L329 196 L332.4 199 L333.1 201.9 L333.6 204.9 L332.7 208.6 L331.6 211.2 L329.7 213.7 L328.5 216.2 L327.7 219.3 L324.3 220.3 L321.7 222.1 L319.2 221 L316.7 221.8 L313.3 221 L310.7 219.6 L309.9 217.1 L307.3 216.6 L307.3 214.5 L306.8 212 L305.7 213.7 L304 215 L303.1 214.5 L301.4 212 L298.9 210.5 L295.5 209.5 L292.1 209.8 L287 210.8 L283.6 212 L282.8 213.5 L278.6 213.4 L276 214.2 L273.5 215.4 L270.1 215.2 L268.4 214.2 L269.4 212 L269.6 209.5 L268.4 206.9 L267.6 203.6 L266.2 201 L265.9 198.5 L266.4 196Z M318.7 225 L321.7 225.7 L324.6 225.3 L324.6 227.2 L323.4 229.2 L321.2 229.7 L319.7 228Z M366.1 224.8 L368.6 226 L368 227.7 L366.3 229.7 L363.9 231.1 L362.9 233.6 L360.7 235 L358.7 234.8 L355.9 233.9 L356.5 232.3 L358.7 230.6 L361.5 228.9 L363.7 227.2 L364.9 225.2Z M295.5 157.7 L298 157 L300.6 157.8 L300.9 160.2 L302.3 161.9 L304.8 160 L307.3 159 L309.9 160 L312.4 160.7 L315.8 162 L318.4 162.9 L320.6 164.7 L322.6 166.4 L323.9 167.6 L322.6 167.9 L323.9 169.8 L326 171.5 L328.5 173.7 L326.8 173.9 L323.4 173.2 L320.9 170.8 L318.4 169.3 L316.7 170.3 L315 171.8 L312.4 171.7 L309.9 170.1 L307.3 170.5 L308.5 168.1 L307.3 165.6 L304 164.1 L301.4 163.1 L298.9 163.2 L298.5 161.4 L297.2 161 L299.7 160 L297.2 159.7 L295.5 158.7Z M258.2 153.8 L259.4 152.9 L261.6 153.6 L262.1 151.9 L265 150.9 L266.7 148.7 L269.2 147 L271.3 144.7 L272.6 145.7 L273.5 146.5 L275.2 147.5 L273.5 149 L273 150.9 L273.5 152.9 L275.2 154.6 L273.5 154.9 L272.6 156.3 L272.6 158 L270.9 159.7 L270.6 162.2 L268.4 163.1 L266.7 162 L265 161.7 L263 162 L260.4 161.2 L259.9 158.8 L258.6 157.1 L258.6 155.5Z M295.3 99.1 L297.2 98.1 L299.7 96.4 L303.1 96.2 L305.1 94 L306.2 93 L308.2 93.3 L309.9 91.3 L310.7 88.8 L311.2 86.8 L313.1 86.4 L314.1 89.1 L313.3 91.6 L312.4 93.8 L311.9 95.9 L310.7 97.2 L309 97.2 L308.2 97.7 L305.7 97.9 L305.3 99.2 L303.5 99.8 L302.6 98.4 L300.2 98.4 L297.7 99.1 L297 100.3 L295.5 103.5 L294.1 103.5 L294.1 101.4 L293.3 100.6 L294.1 99.6Z M310.7 86.2 L312.4 84.6 L311.4 83.2 L313.3 82 L313.8 79.7 L316.7 81.7 L319.7 82 L320 83.2 L317.5 83.7 L316.3 85.4 L313.3 84.6 L312.1 85.9Z M398.6 45.6 L405.6 44 L408.9 43.2 L405.6 42.2 L400.8 40.8 L407.3 39 L412.3 37.3 L418.3 35.9 L425.9 36.8 L432.6 37.6 L441.1 38 L444.5 38.8 L451.3 39.8 L456.4 39 L463.1 38 L466.5 37.8 L471.6 39 L478.4 38.5 L485.1 39.8 L488.5 40.7 L493.6 41.9 L498.7 41.9 L500.4 40.7 L505.5 41 L510.5 41.9 L517.3 41.9 L519 40.7 L520.7 38.1 L522.4 35.1 L525.8 35.6 L527.5 38.1 L529.2 39.8 L531.7 40.2 L534.2 41.5 L535.9 42.7 L538.5 40.7 L539.3 38.6 L544.4 38.6 L545.6 40.7 L544.4 42.4 L541.9 44.4 L537.6 44.4 L536.8 45.7 L535.1 47.4 L530.9 48.6 L526.6 50.8 L524.1 53.3 L522.9 57 L525.8 59.2 L526.6 60.1 L530.9 60.1 L535.9 61.8 L539.3 63 L543.9 63.3 L544.1 66.8 L545.8 68.5 L546.9 69.7 L548.6 69.9 L549.8 67.7 L549.5 64.3 L552.9 61.8 L553.4 59.2 L550.3 57 L552 55 L551.2 51.1 L556.3 51.3 L561.3 52.5 L564.7 53.3 L565.6 56.7 L569 57.9 L572.3 55.4 L574 54.5 L578.3 58.7 L579.1 60.9 L581.7 63 L585.9 64.3 L588.4 66.8 L588.8 68.9 L585.9 69.7 L581.7 71.6 L576.6 71.4 L570.7 71.6 L568.1 73.6 L564.7 77 L567.3 74.4 L574 73.9 L573.2 75.6 L573.7 78.1 L575.7 78.7 L580 79.8 L575.7 81 L572 82.9 L571.2 81.5 L574 79.8 L569.8 80.3 L567.3 81.5 L564.4 82.7 L563.5 84.6 L564.7 85.7 L562.2 86.4 L558.8 87.3 L558 87.9 L557.6 89.6 L556.3 91.1 L554.9 93 L554.6 94 L555.2 96.4 L553.2 97.9 L551.2 99.1 L548.6 100.6 L546.1 102.3 L545.4 104.8 L546.9 108.7 L547.8 111.6 L547.3 113.8 L545.8 113.6 L544.4 111.2 L543.1 109.4 L543.2 107.3 L541 105.7 L538.5 106 L535.9 105 L532.6 105.2 L532 107 L529.2 106.8 L524.9 106.2 L522.4 107 L519 109.4 L518.3 112.4 L517.7 116.6 L518.2 120 L520.2 123.4 L522.4 124.9 L524.1 125.6 L527.5 124.7 L529.2 123.9 L530 121.2 L531.7 120.3 L535.4 120 L536.3 121.7 L534.8 124.2 L533.9 126.3 L532.9 129 L534.2 129.6 L537.6 129.5 L540.2 129.6 L542.2 131 L541.9 134.4 L541.5 136.9 L542.2 138.9 L544.4 140.8 L546.1 141.4 L548.1 140.4 L550.3 140.4 L552.4 141.8 L553.2 142.8 L555.4 138.6 L556.6 137.6 L559.6 136.9 L562.2 135.4 L562.2 137.7 L564.7 136.7 L565.1 135.7 L567.3 137.7 L570.7 138.4 L574 139.1 L576.9 138.2 L578.6 139.4 L580 141.1 L581.7 142.1 L584.2 144.5 L586.7 146.2 L590.1 146.3 L593.5 146.8 L595.7 148.7 L596.9 150.4 L598.1 153.3 L598.6 155.5 L597.7 156.3 L600.3 156.6 L601.5 157.7 L603.7 157.5 L607.1 158.8 L608.2 160.7 L610.4 160.4 L613 161.2 L615.5 161 L618.1 162.5 L620.3 164.4 L623.5 165.1 L624.2 168.1 L624 171.5 L621.5 174 L619.8 176.6 L618.1 178.2 L617.2 180.8 L617.2 185 L616 187.5 L615.5 190.1 L613.8 193.4 L612.1 195 L609.6 195.1 L607.6 195.6 L604.9 196.8 L602 199 L601 201 L600.8 204.1 L598.6 206.9 L596.1 209.5 L594.4 212 L592.7 213.7 L590.3 215.2 L588.1 215.2 L585.9 214.5 L584.4 213.7 L586.4 216.2 L586.7 217.9 L585.6 220.4 L583.4 221.6 L579.1 222 L577.9 223 L577.8 225.2 L573.2 225.5 L573.2 227.2 L575.4 228 L573.2 229.2 L572.3 232.3 L569 233.9 L571.5 236.5 L571.8 237.3 L569 239.9 L566.4 241.5 L566.4 244.1 L567.4 244.8 L563.2 245.8 L561.3 246.6 L558.8 244.9 L556.3 241.5 L555.4 238.2 L557.1 235.6 L555.4 234.8 L557.1 232.3 L559.6 230.6 L559.1 227.2 L558.3 225.5 L558.8 223 L558.8 219.1 L560.2 216.2 L561.8 212.8 L562.2 208.6 L562.4 205.3 L563.5 200.2 L564 196 L564.4 191.7 L564.2 187.4 L562.2 185.5 L558.8 183.8 L555.9 182.1 L554.1 179.9 L552.7 176.7 L550.7 173.2 L549.1 169.8 L547.8 167.6 L545.8 166.4 L545.6 163.9 L547.3 162 L548.1 160.5 L546.3 160 L546.6 158 L547.6 156.3 L547.8 154.9 L549.8 153.8 L550.3 152.1 L552 151.9 L552.5 149.9 L552 147 L552.2 144.8 L551.3 144.1 L550.5 142.8 L550.8 142.1 L548.6 141.3 L547.1 142.3 L547.8 143.8 L546.1 143.5 L544.7 142.6 L542.9 142.5 L541.7 142 L541.5 141.1 L539.8 140.1 L538 139.4 L538.1 137.7 L536.3 135.7 L534.9 134.4 L533.4 134 L530.9 133.2 L528.3 132.7 L527 131.7 L524.1 129.1 L522.4 129.1 L519.9 129.8 L516.5 128.8 L513.9 127.6 L510.5 125.9 L508 125.1 L505.5 123.4 L504.4 121.7 L505 120 L503.8 117.5 L501.2 114.9 L498.7 112.9 L497.8 111.2 L496.1 109.9 L493.6 107.7 L491.9 104 L488.9 102.6 L489 104.8 L491.1 107.3 L492.8 109.9 L494.8 112.4 L496.1 114.9 L497.8 117.1 L496.5 116.6 L493.6 114.1 L493.1 112.1 L490.2 110.7 L489.4 109 L487.7 106 L485.6 102.6 L484.8 101.1 L482.6 98.9 L479 98.1 L476.8 94.5 L475.8 92.5 L473.6 89.6 L472.8 88.1 L473 85.4 L473.1 82 L473.3 78.3 L472.1 74.6 L475 73.9 L474.6 73.1 L471.6 71.4 L467.4 69.4 L465.7 66.8 L462.6 64.3 L460.6 61.8 L457.2 59.2 L453.8 57.6 L450.4 56.7 L446.2 55.4 L441.1 55 L436 53.7 L431.8 54.2 L430.1 55.4 L426.7 56.2 L426.7 53.7 L423.3 55.9 L421.6 58.4 L417.4 60.4 L413.2 62.3 L408.9 63.5 L404.7 64.1 L408.9 62.1 L412.3 61.3 L415.7 58.7 L416.9 57 L414 57.4 L408.9 57 L408.9 55 L404.7 54.2 L402.2 52.5 L403.9 50 L407.3 49.6 L410.6 49.1 L410.6 47.4 L407.3 47.4 L402.2 47.4Z M539.5 119.3 L542.7 117.5 L546.9 117.3 L552.9 119.7 L557.6 122.2 L552 122.7 L551.2 121.4 L547.8 119.5 L544.4 118.5 L541 119.5Z M557.3 125.2 L559.6 122.7 L564.7 122.9 L567.4 124.7 L564.7 125.4 L562.2 126.4 L559.6 125.6Z M535.9 46.1 L541 45.2 L546.1 47.9 L546.9 49.1 L541 49.6 L535.9 48.9 L538.5 47.4Z M582.8 75.6 L585.9 70.7 L588.9 69.4 L588.4 71.9 L592.7 73.1 L593.9 76 L592.3 77.5 L589.3 77 L587.6 76Z M70.3 276.7 L73.7 276.7 L80.4 275.5 L87.2 275 L94 275 L100.8 274.6 L107.5 275 L114.3 275.5 L119.4 274.6 L126.2 273.6 L130.4 272.3 L134.6 273.6 L138.9 274.1 L141.4 273.3 L146.5 271.1 L151.6 270.2 L158.3 269.4 L163.4 267.5 L168.5 268.2 L171.9 269.7 L178.7 270.4 L185.4 270.7 L190.5 271.1 L192.2 273.3 L197.3 274.1 L202.4 273.3 L205.7 271.9 L212.5 269.9 L219.3 269.1 L222.7 268.2 L229.5 268.9 L234.5 269.1 L239.6 268.2 L243 267.4 L249.8 267.7 L256.5 268.9 L263.3 267.7 L270.1 269.1 L276.9 269.4 L283.6 268.7 L290.4 269.2 L297.2 268 L304 268.2 L310.7 269.1 L317.5 269.4 L322.6 271.4 L329.4 272.1 L336.1 273.1 L342.9 274 L348 275.3 L354.8 275.6 L362.4 277 L359.8 280.4 L354.8 282.9 L350.5 286.3 L354.8 288.3 L361.5 288.6 L370 288.3 L378.5 288.3 L386.9 288.6 L403.9 288.5 L412.3 287.6 L415.7 286.8 L425.9 287.1 L432.6 286.3 L436 285.1 L446.2 284.6 L454.7 284.1 L466.5 283.7 L480.1 283.4 L488.5 283.2 L493.6 283.4 L500.4 283.7 L508.8 282.9 L513.9 280.4 L519 278.7 L527.5 279.2 L535.9 279.5 L544.4 280.4 L551.2 279.4 L556.3 277 L561.3 278.3 L567.3 277 L569.8 272.8 L569 270.2 L573.2 267.7 L576.6 265.5 L581.7 263.8 L586.7 263.2 L584.2 264.8 L580 266 L577.4 268 L574.9 270.2 L573.2 272.3 L577.4 273.6 L579.1 276.1 L580.3 279.5 L579.1 282.1 L586.7 285.4 L599.8 287.6 L615.5 287.8 L627.4 286.3 L637.5 284.6 L647.7 281.5 L652.8 280 L657.9 279.4 L662.9 277.3 L666.3 276.7 L671.4 276.1 L676.5 276.1 L686.6 276.7 L686.6 309.9 L70.3 309.9Z" fill="#d3d3d3" stroke="#000" stroke-width="1.05" stroke-linejoin="round"/>
<path d="M160.9 35.3 L163.4 33.1 L166.8 30.5 L171.9 28.3 L178.7 27.2 L185.4 26.3 L189.7 26.7 L185.4 28.3 L177 29.7 L171.9 31.4 L168.5 33.9 L170.2 36.5 L165.1 37Z M92.3 21.8 L95.7 21.3 L102.5 21.3 L109.2 20.9 L117.7 20.9 L119.4 21.6 L109.2 23.5 L105 25.5 L101.6 26.8 L97.4 25.5 L94 23.3Z M64.9 71.9 L67.7 71.4 L72 70.7 L75.9 70 L75.4 69 L76.5 67.3 L74.2 66.8 L73.8 65.8 L72.8 64.3 L71.1 63.1 L69.9 61.8 L68.6 61.8 L70.3 59.1 L66.9 58.9 L68.3 57.4 L65.2 57.4 L63.5 59.2 L64.4 61.3 L63.5 62.3 L65.2 63.5 L65.5 64 L67.7 63.6 L68.6 65.1 L68.3 66.3 L66.1 66.5 L66.6 68 L64.9 68.7 L65.5 69.2 L68.3 69.5 L67.7 69.9 L66.1 70.2Z M674.5 71.9 L677.3 71.4 L681.6 70.7 L685.5 70 L685 69 L686.1 67.3 L683.8 66.8 L683.4 65.8 L682.4 64.3 L680.7 63.1 L679.5 61.8 L678.2 61.8 L679.9 59.1 L676.5 58.9 L677.8 57.4 L674.8 57.4 L673.1 59.2 L673.9 61.3 L673.1 62.3 L674.8 63.5 L675.1 64 L677.3 63.6 L678.2 65.1 L677.8 66.3 L675.6 66.5 L676.1 68 L674.5 68.7 L675.1 69.2 L677.8 69.5 L677.3 69.9 L675.6 70.2Z M672.8 68.2 L673.1 66 L673.8 64.1 L672.3 63.1 L669.2 63.1 L668.7 64.5 L666.3 64.8 L667.2 66.5 L665.8 68.5 L666.8 69.4 L669.7 68.9Z M645.2 44.2 L649.4 44.7 L652.8 44.6 L656.2 44 L658.5 45.4 L660.2 46.6 L657.9 47.8 L652.8 49.1 L648.5 48.9 L645.2 48.4 L646.3 47.3 L642.6 46.7 L646 45.9 L642.6 45.6 L644.3 44.6Z M559.6 24.3 L568.1 22.1 L573.2 19.6 L581.7 17.9 L598.6 17 L615.5 15.5 L632.5 15.4 L646 17 L652.8 18.7 L662.9 18.7 L654.5 21.3 L651.1 23.8 L652.8 27.2 L649.4 29.7 L650.2 32.2 L646 34.8 L646 37.3 L640.9 39 L632.5 41.2 L624 44.9 L618.9 45.7 L615.5 47.4 L612.1 50.8 L610.4 54.7 L607.1 55 L602 53.3 L598.6 50 L595.2 45.7 L592.7 43.2 L593.5 39.8 L596.9 38.1 L591.8 36.8 L590.1 33.9 L586.7 30.5 L581.7 28 L573.2 27.7 L566.4 27.2 L563 25.8Z M530.9 27.2 L539.3 27.5 L547.8 27.7 L551.2 25.5 L556.3 23.8 L561.3 22.1 L571.5 19.6 L578.3 17 L564.7 16.2 L547.8 16.2 L534.2 17.5 L527.5 19.6 L534.2 21.3 L537.6 23.8 L532.6 25.5Z M530.9 32.2 L539.3 31.7 L547.8 31.9 L552.9 33.6 L559.6 35.6 L568.1 38.1 L569.8 40.7 L578.3 43.7 L575.7 46.6 L573.2 50 L569.8 50 L567.3 51.1 L561.3 49.1 L556.3 47.4 L551.2 47.4 L558 45.7 L558.8 43.2 L559.6 40.7 L552.9 38.5 L547.8 38.6 L541 38.1 L534.2 36.5 L531.7 34.8Z M485.1 32.7 L490.2 33.4 L497 33.1 L503.8 32.6 L506.3 35.6 L510.5 38.1 L510.5 40.2 L503.8 40.2 L497 40.3 L491.1 40.7 L486 39.5 L484.3 37.3 L488.5 35.6 L482.6 34.8Z M471.6 31.1 L478.4 30.5 L484.3 31.1 L487.7 32.2 L481.8 34.8 L475 36.1 L470.7 34.8 L472.4 32.6Z M485.1 27.7 L493.6 27.5 L500.4 27 L503.8 28.3 L503.8 29.7 L497 30.2 L490.2 30.5 L485.1 29.4Z M520.7 26.5 L530.9 27.2 L541 28.5 L547.8 29.2 L546.9 30.4 L537.6 30.5 L527.5 30.2 L521.5 28.9Z M510.5 32.1 L517.3 31.7 L519 33.9 L516.5 35.9 L512.2 35.1 L509.7 33.4Z M521.5 31.4 L527.5 31.4 L530 33.1 L525.8 34.8 L521.5 33.9Z M520.7 20.4 L530.9 20.4 L536.8 22.1 L534.2 23.8 L525.8 22.9 L520.7 21.8Z M507.2 27.2 L515.6 26.8 L518.2 28.9 L513.9 29.7 L507.2 28.9Z" fill="#d3d3d3" stroke="#000" stroke-width="1.6" stroke-linejoin="round"/>
<path d="M209.1 139.9 L211.2 142 L212.2 144.5 L210.8 146 L209.3 146.2 L208.8 143.6Z M366.1 214.5 L367.5 215.7 L369.5 217.6 L370.8 218.2 L371.7 219.8 L374.2 220.1 L375.8 219.9 L375.1 222.1 L373.4 223 L373 224.7 L370.5 226.5 L369.5 226 L370.3 224.2 L368.3 223 L369.5 221.3 L369.5 219.3 L368.3 217.6 L366.6 215.7Z M235 146.8 L237.9 147.5 L240 149.2 L243 151.6 L244.7 152.9 L248.1 155.3 L249.4 157.7 L250.6 159.3 L253.2 161.4 L252.8 166.1 L250.6 166.1 L248.1 164.4 L246.4 162.7 L244.7 160.5 L243.5 158 L241.3 155.5 L240.5 153.3 L238.8 152.1 L237.1 150.1 L235.4 148.2Z M251.8 167.8 L254 166.4 L257.4 167.4 L260.8 167.8 L264.2 167.9 L267.6 169.3 L267.2 170.8 L263.3 170.3 L259.9 170 L256.5 169.5 L254 168.8Z M276.5 154.9 L278.2 154.1 L281.9 154.8 L285.3 153.8 L284.5 155.6 L281.9 155.6 L278.6 155.6 L277.2 157.7 L279.4 158 L282.5 157.8 L280.3 159.3 L279.4 161 L281.1 162.2 L281.6 163.9 L280.3 164.4 L279.1 162.2 L278.4 161 L277.5 163.1 L277.5 165.6 L276 165.6 L276 162.2 L274.8 160.9 L276 158 L276.5 156.3Z M282.8 173.7 L285.3 171.8 L288.7 170.5 L287.9 171.5 L285.3 173 L283.6 173.7Z M270.1 170.5 L273.5 170.3 L276.9 170.5 L281.6 170.3 L281.6 171.2 L276.9 171.3 L273.5 171.3 L270.1 171.3Z M280.3 144.5 L282.8 141.8 L286.2 139.9 L287.9 142.8 L287.4 145.5 L286.2 146.2 L283.6 145.7 L281.9 143.6Z M277.7 125.1 L280.6 125.2 L280.8 128.4 L279.4 130.1 L280.3 132.7 L283.6 133.5 L283.6 135 L281.1 133.5 L278.6 133.2 L277.4 131.5 L276.7 129 L277.5 126.8Z M280.3 136.4 L282.5 136.9 L283.6 137.7 L286.2 135.2 L286.5 137.7 L285.3 139.4 L283.3 140.3 L281.9 139.4 L281.1 138.2 L280.3 138.6Z M272.3 142.1 L274.3 140.3 L276 137.7 L275.7 138.9 L274 141.1 L272.6 142.3Z M278.6 113.8 L280.1 114.4 L279.2 117.5 L278.2 119.2 L277.2 117.8 L277.4 115.8Z M257.7 123.7 L259.1 122.5 L261.3 122.5 L261.6 123.7 L259.9 125.4 L257.9 125.1Z M297.9 99.2 L300.6 98.4 L301.8 99.2 L300.9 100.1 L298.9 100.9 L298 100.6Z M314.1 64.6 L315.8 66.8 L316.3 69.4 L317.5 73.1 L316.2 73.6 L316.7 77 L316.3 78.1 L315 78.7 L314.1 76.1 L314.5 73.6 L314.1 70.2 L313.8 66.8Z M234.5 22.9 L241.3 21.6 L249.8 22.6 L251.5 24.1 L243 24.6 L237.9 23.8Z M153.3 20.8 L161.7 19.9 L175.3 19.6 L180.3 20.2 L168.5 21.3 L158.3 21.4Z M305.7 29.2 L310.7 28 L319.2 28.7 L327.7 29.4 L326 30.2 L315.8 30 L309 30.4Z M376.3 36.3 L378.5 35.6 L382.7 35.9 L381 36.8 L377.6 36.8Z M87.7 87.1 L89.8 86.8 L90.1 90 L88.1 90.5Z M88.4 84.4 L89.8 83.7 L89.8 86.2 L88.6 86.1Z M94.8 92.2 L99.9 91.8 L99.4 94.2 L97.4 93.8 L94.8 92.8Z M567.1 245.3 L563.9 246.6 L561.3 247.8 L564.7 249.5 L569 250 L572.9 248.6 L569 247.5 L567.8 246.1Z M580 243.2 L585 242.9 L585 244.4 L580.8 244.6Z M466 70.5 L469.9 71.4 L473.3 73.6 L474.1 74.6 L471.6 74.1 L468.2 72.2Z M458 65 L460.3 65.1 L461.1 68 L459.2 66.8Z M421.6 59.1 L425 58.4 L425.4 59.6 L422.5 60.4Z M550.7 125.2 L554.1 125.6 L552.9 126.3 L550.8 125.9Z M569.5 125.1 L572 125.2 L571.8 125.9 L569.5 125.9Z M578.6 138.2 L580 138.1 L580 139.3 L578.6 139.3Z M583.4 261.3 L585.9 260.8 L585.4 261.3Z" fill="#d3d3d3" fill-opacity="0.25" stroke="#000" stroke-width="0.9" stroke-linejoin="round"/>
<path d="M348.8 54.2 L345.4 56.7 L340.9 59.2 L339.2 61.8 L338.7 66 L339.5 68.5 L341.7 66 L344.1 63.5 L347.1 60.9 L349 58.4 L349.3 55.4Z" fill="#fbeaea" stroke="none"/>
<path d="M95.9 164.7 L98.4 159.3 L94.7 151.3 L99.8 145.4 L104.9 146.9 L110.0 141.8 L115.9 143.2 L118.8 147.6 L125.4 149.8 L126.8 154.2 L124.6 159.3 L126.1 163.0 L131.2 164.4 L131.2 167.3 L126.1 168.8 L128.3 171.7 L130.5 173.2 L125.4 179.0 L121.7 176.1 L115.1 176.8 L109.3 175.4 L104.9 177.6 L103.5 171.7 L99.1 168.8Z" fill="#2e8b2e" fill-opacity="0.68" stroke="none"/>
<path d="M551.6 155.7 L556.9 150.4 L564.8 149.5 L570.0 144.3 L577.9 142.5 L584.1 145.1 L592.8 148.7 L597.2 153.0 L600.7 156.2 L607.7 159.2 L604.2 162.7 L600.7 167.0 L598.1 172.3 L597.2 177.6 L593.7 181.1 L587.6 182.8 L582.3 186.3 L577.0 189.8 L574.4 191.2 L570.0 187.2 L564.8 182.8 L557.8 179.3 L553.4 174.1 L550.8 167.0 L549.9 160.9Z" fill="#2e8b2e" fill-opacity="0.68" stroke="none"/>
<path d="M99.5 163.7 L102.0 159.3 L104.2 154.2 L107.8 152.7 L111.5 153.0 L115.1 155.7" fill="none" stroke="#000" stroke-width="1.1" stroke-linejoin="round" stroke-linecap="round"/>
<path d="M127.6 157.8 L129.7 156.4 L132.2 157.4 L130.5 160.8 L127.8 160.5 L127.6 157.8" fill="none" stroke="#000" stroke-width="0.9" stroke-linejoin="round" stroke-linecap="round"/>
<path d="M123.5 162.2 L124.3 165.9 L126.4 171.0" fill="none" stroke="#000" stroke-width="1.3" stroke-linejoin="round" stroke-linecap="round"/>
<path d="M131.2 172.4 L132.2 176.1 L133.4 180.5" fill="none" stroke="#000" stroke-width="1.0" stroke-linejoin="round" stroke-linecap="round"/>
<path d="M132.2 184.1 L133.7 186.3" fill="none" stroke="#000" stroke-width="0.8" stroke-linejoin="round" stroke-linecap="round"/>
<path d="M559.5 162.3 L563.9 163.2 L568.3 160.9 L572.7 160.0 L577.0 162.7 L581.4 161.4 L585.8 160.0 L590.2 160.9 L594.6 159.2 L598.9 157.9 L604.2 159.2" fill="none" stroke="#000" stroke-width="1.2" stroke-linejoin="round" stroke-linecap="round"/>
<path d="M570.9 156.9 L576.2 157.4 L578.8 160.0 L580.9 161.4" fill="none" stroke="#000" stroke-width="0.9" stroke-linejoin="round" stroke-linecap="round"/>
<path d="M587.6 202.1 L584.1 203.0 L582.3 209.1 L580.9 212.6" fill="none" stroke="#000" stroke-width="0.9" stroke-linejoin="round" stroke-linecap="round"/>
<path d="M264.3 55.9 L269.6 53.8 L280.1 53.4 L288.8 52.0 L295.0 49.9 L292.3 47.7 L283.6 46.4 L282.2 42.4 L287.1 36.3" fill="none" stroke="#000" stroke-width="0.9" stroke-linejoin="round" stroke-linecap="round"/>
<path d="M295.0 49.9 L297.6 52.0 L302.9 53.8" fill="none" stroke="#000" stroke-width="0.9" stroke-linejoin="round" stroke-linecap="round"/>
<path d="M275.7 48.9 L281.8 48.2 L288.8 47.7" fill="none" stroke="#000" stroke-width="0.9" stroke-linejoin="round" stroke-linecap="round"/>
<path d="M215.3 35.4 L218.8 39.8 L223.1 45.0 L222.3 49.4" fill="none" stroke="#000" stroke-width="0.9" stroke-linejoin="round" stroke-linecap="round"/>
<path d="M223.1 45.0 L229.3 46.8" fill="none" stroke="#000" stroke-width="0.9" stroke-linejoin="round" stroke-linecap="round"/>
<path d="M294.1 77.4 L302.9 73.1 L310.7 68.7 L315.1 65.2" fill="none" stroke="#000" stroke-width="0.9" stroke-linejoin="round" stroke-linecap="round"/>
<path d="M82.5 55.5 L84 53.5 L87 50.5 L90 47.5 L94 44.5 L98 42 L103 40 L108 38.5" fill="none" stroke="#000" stroke-width="2.0" stroke-linejoin="round" stroke-linecap="round"/>
<path d="M93 21.2 L99 23.8 L104 21.6 L110 24.2 L115 22 L119 21.6" fill="none" stroke="#000" stroke-width="1.5" stroke-linejoin="round" stroke-linecap="round"/>
<path d="M667.1 138.0 L671.8 134.5 L677.0 131.0 L683.1 127.2" fill="none" stroke="#000" stroke-width="0.9" stroke-linejoin="round" stroke-linecap="round"/>
<path d="M654.1 129.3 L658.8 128.8 L661.4 131.0" fill="none" stroke="#000" stroke-width="0.9" stroke-linejoin="round" stroke-linecap="round"/>
<path d="M249.9 68.7 L254.7 66.1 L259.1 62.6 L259.9 62.2 L258.2 65.2 L253.8 68.3 L249.9 69.2Z" fill="#999" stroke="#000" stroke-width="0.8"/>
<path d="M471.5 44.8 L475.5 43.5 L483.4 44.4 L479.4 46.5 L474.2 46.1Z" fill="#444" stroke="#000" stroke-width="0.8"/>
<path d="M485.3 52.0 L489.9 50.1 L497.8 49.4 L496.5 51.0 L490.6 52.7 L486.0 53.1Z" fill="#444" stroke="#000" stroke-width="0.8"/>
<circle cx="99.5" cy="163.7" r="1.5" fill="#000"/>
<path d="M90.6 5.3 V307.6 M141.4 5.3 V307.6 M192.2 5.3 V307.6 M243 5.3 V307.6 M293.8 5.3 V307.6 M344.6 5.3 V307.6 M395.4 5.3 V307.6 M446.2 5.3 V307.6 M497 5.3 V307.6 M547.8 5.3 V307.6 M598.6 5.3 V307.6 M649.4 5.3 V307.6 M74.4 291.3 H682.4 M74.4 274.5 H682.4 M74.4 257.6 H682.4 M74.4 240.7 H682.4 M74.4 223.8 H682.4 M74.4 206.9 H682.4 M74.4 190.1 H682.4 M74.4 173.2 H682.4 M74.4 156.3 H682.4 M74.4 139.4 H682.4 M74.4 122.5 H682.4 M74.4 105.7 H682.4 M74.4 88.8 H682.4 M74.4 71.9 H682.4 M74.4 55 H682.4 M74.4 38.1 H682.4" fill="none" stroke="#000" stroke-width="0.8" stroke-dasharray="0.9 1.55" stroke-opacity="0.9"/>
</g>
<rect x="158.3" y="139.4" width="33.9" height="33.8" fill="none" stroke="#ffa500" stroke-width="3.0" />
<rect x="226.1" y="156.3" width="33.9" height="16.9" fill="none" stroke="#bf00bf" stroke-width="3.0" />
<rect x="344.6" y="147.9" width="84.7" height="16.9" fill="none" stroke="#1cbfbf" stroke-width="3.0" />
<rect x="429.3" y="147.9" width="101.6" height="16.9" fill="none" stroke="#c4bc00" stroke-width="3.0" />
<rect x="530.9" y="156.3" width="16.9" height="16.9" fill="none" stroke="#1cf0a0" stroke-width="3.0" />
<clipPath id="hc"><rect x="395.4" y="147.9" width="84.7" height="16.9"/></clipPath>
<path d="M356.4 167.1 L381.4 142.1 M376.1 167.1 L401.1 142.1 M395.8 167.1 L420.8 142.1 M415.5 167.1 L440.5 142.1 M435.2 167.1 L460.2 142.1 M454.9 167.1 L479.9 142.1 M474.6 167.1 L499.6 142.1" stroke="#000" stroke-width="0.8" stroke-opacity="0.55" fill="none" clip-path="url(#hc)"/>
<rect x="395.4" y="147.9" width="84.7" height="16.9" fill="none" stroke="#000" stroke-width="3.0" stroke-opacity="0.5"/>
<rect x="74.4" y="5.3" width="608.0" height="302.3" fill="none" stroke="#000" stroke-width="0.8"/>
<clipPath id="ci"><rect x="110.5" y="22.4" width="104.19999999999999" height="103.69999999999999"/></clipPath>
<g clip-path="url(#ci)">
<rect x="110.5" y="22.4" width="104.19999999999999" height="103.69999999999999" fill="#a9c3a2"/>
<g filter="url(#bl2)">
<path d="M110 22 L155.4 22 L148.6 32.1 L130.2 35.5 L110 43.9Z" fill="#9dbb9f"/>
<path d="M155.4 22 L215.8 22 L215.8 42.2 L199 43.9 L177.2 37.1 L160.4 33.8Z" fill="#b3c4ac"/>
<path d="M111.7 33.8 L126.8 32.1 L135.2 35.5 L125.1 40.5 L111.7 42.2Z" fill="#b9b7a0"/>
<path d="M115.1 47.2 L145.3 40.5 L175.5 42.2 L192.3 50.6 L188.9 84.1 L172.1 90.9 L147 90.9 L125.1 84.1 L115.1 72.4Z" fill="#9ec6a0"/>
<path d="M199 45.5 L215.8 42.2 L215.8 127.8 L199 127.8 L195.6 111 L192.3 87.5 L195.6 67.4Z" fill="#c6b9a6"/>
<path d="M123.5 95.9 L147 92.5 L160.4 104.3 L172.1 116 L199 117.7 L215.8 111 L215.8 127.8 L120.1 127.8Z" fill="#cbbfa6"/>
<path d="M128.5 104.3 L155.4 111 L175.5 127.8 L121.8 127.8Z" fill="#cdbfa8"/>
<path d="M205.7 104.3 L212.4 100.9 L215.8 111 L212.4 124.4 L207.4 117.7Z" fill="#a6c9a6"/>
<path d="M110 75.8 L113.4 77.4 L117.6 89.2 L121.8 104.3 L124.3 117.7 L121.8 127.8 L110 127.8Z" fill="#8fb6dc"/>
<path d="M114.2 79.1 L119.3 90.9 L123.5 106 L126 117.7 L123.8 127 L121.8 117.7 L119.3 104.3 L115.4 90.9Z" fill="#c9dfe6"/>
</g>
<path d="M145.3 42.2 L154.5 40.2 L163.8 44.7 L173.8 42.2 L183.9 44.7 L190.6 43.9 L196.5 48.1 L203.2 55.3 L196.5 59 L193.6 64.8 L190.9 74.1 L192.6 82.5 L188.9 87.5 L192.3 95.9 L194.3 104.3 L192.6 120.7 L183.9 116 L177.2 112.7 L170.5 114 L162.1 113 L158.7 104.3 L155.4 95.9 L150.3 97.9 L141.1 96.2 L138.6 89.5 L126.8 89.5 L119.8 87.5 L120.9 84.1 L131.9 81.6 L136.1 72.4 L141.1 65.7 L144.4 55.6Z" fill="#3040ff" fill-opacity="0.10" filter="url(#bl1)"/>
<path d="M188.8 50.1l.1 1.9 .5 1.9 .6 1.8 1 1.6 1 1.6 .9 1.7 -.4 1.8 -1.1 1.6 -1.7 1 -.6 1.8 -.3 1.8 1.1 1.6 1.5 1.2M179.2 85.6l-.7-1.7 -1.2-1.5 -1.7-.8 -1.9-.2 -1.3-1.4 -1.8-.6 -1.7-.9 -1.4-1.3 -1.9 .2 -1.9 .2 -1.5-1.2 -1.7 .9M180.6 63.4l1.8-.6 1.6-1.1 1.5-1.2 .4-1.8 1.8-.6 .1-1.9M126.2 85.1l1.5-1.1 1.2-1.6M161.2 104.4l1 1.6 1.3 1.4 1.5 1.2 1.6 1 1.8 .5 1.7-.8M143.5 71.3l0-1.9 -.5-1.9 -1.2-1.4M181.4 72.2l1.9 0 1.8 .6 1.3-1.4 .8-1.7 1.5-1.2 -.2-1.9 -.4-1.8 .7-1.8 -.7-1.8 1-1.6 1.4-1.3 1.2-1.4M139.2 79.2l-1.6-.9 -1.4-1.3 -1.8-.2M146.4 50.3l.3-1.9 -1-1.6M166.4 72.2l-1.7 .7 -1.7 .9 -1.5 1.2 -1.8 .5 -1.9 .3 -1.9-.2 -1.6-1 -1.7-1 -1.6-1 -1.4-1.2 -1.2-1.5 -1.3-1.4M148.8 69.5l1.2 1.5 .2 1.8 .2 1.9 .6 1.8 .6 1.8 -.1 1.9 -.7 1.8 -.6 1.8 -1.8 .5 -1.9 .4 -1.9 .1 -1.6-1M132 83.9l1.9 0 1.8-.5 1.7 .8 .4 1.9 -.7 1.8 1.3 1.3 1.6 1.1 1.8 .7 1.4 1.2 1.9 .1 1.9-.2 1.6-1.1 .7-1.7M185.5 101.3l0 1.9 1.3 1.3 1.3 1.5 0 1.9 .2 1.9 .1 1.9 -.8 1.7 -.9 1.6M141.4 96l1.9 .1 1.3-1.4 -.1-1.9 1.7-.8 1.9-.4 1.9-.2 1.5-1 1.7-.9 -.9-1.7 -.6-1.8 -.7-1.8 -.7-1.7M173.4 107.4l1.2 1.6 1.9 0 1.8-.5 1.8-.5 1.9-.3 1.5-1.1 1.9-.2 .1-1.9 -.8-1.8 -.1-1.9 1.3-1.4M187.1 51.9l.3-1.8 -.2-1.9 -.9-1.7 -1.3-1.3M174 82.6l1.9-.1 1.9-.2 1.9 0 1.9-.1 1.9 .1 1.4 1.2 1.4 1.3 1.9 .4 1.4-1.3 .9-1.6 1.9-.4M187.8 81.8l1.4-1.3 1.6-1M162.4 110.5l1.7-.8 1.8-.7 1.8-.2 1.8 .8 1.8 .6 1.7-.6 1.5-1.2 1.9-.1 1.1-1.6 .5-1.8 1.4-1.3 1.8-.6 1.8-.6 1.9 .3M184.2 81.1l-1.8 .6 -1.9 .1 -1.4 1.2 -1.4 1.3 -1.1 1.6 -.1 1.9M164.3 78.7l.1-1.9 -.1-1.9 1.6-1 1-1.6 1.3-1.4 1-1.6 .1-1.9 .3-1.8 -.3-1.9 .3-1.9 -.3-1.9 -1.2-1.5 -1-1.6 -.1-1.9 1-1.6 1.8-.6M150.3 60.6l.9 1.7 -1.5 1.2 -.7 1.7 -1.3 1.4 -1.9-.4 -1.8-.3 -1.7-.8M162.8 67.5l-.2 1.9 -.7 1.7 -.1 1.9 -1.1 1.6 -.8 1.8 .2 1.8 1 1.7 1.1 1.5 .6 1.8 .7 1.8M196.4 58.6l1.3-1.4 1.6-1.1 1.6-1M178.2 47.4l1.3 1.4 -.6 1.8 -.6 1.8 -.8 1.7 -1.4 1.4 -1.6 1 -1.2 1.4 -.8 1.7 -.9 1.7 -1.2 1.5 -1.2-1.5 -.9-1.7 -1.9 .1 -1.6-1 -1.7-.9 -1.8-.6M172.2 83l1.1 1.5 1.1 1.5 1.2 1.5 1.1 1.6 1.1 1.6 .9 1.6 1 1.6 1.8 .6 1.7 1 .8 1.7 .4 1.8 .6 1.8M188.1 75l-1.7-.8 -1.8-.6 -1.7-.8 -1.3-1.4 -.8-1.8 1.2-1.5 1.2-1.5 .6-1.8 1.8 .7 1.9 .4 1.8 .5M172 111.1l-1.7 .9 -1.8-.7 -1.1-1.6 -.1-1.9 -1.2-1.4M146.8 42.9l1.8-.6 1.7-.7 1.8-.6M161.7 56.4l-1.7-.9 -.5-1.8 .5-1.8 1.3-1.4 1.8-.5M152.6 64.3l-1.8-.4 -1.9 .2 -1.9 .2 -1.1 1.5 -.8 1.7 1.2 1.5M152.3 66.4l1.8-.4 1.7 .8 .8 1.8 -.6 1.7 -.5 1.9 .8 1.7 1.8 .7M182.6 86l1.3-1.4 1.7-.9 .8-1.7 1.7-.8 1.1-1.6M177.6 58.7l1.5-1.2 -.4-1.9 -1.1-1.5 -.4-1.9 -.2-1.9 -.2-1.9 -.8-1.7M141.8 77l1.8 .7 1.6 1 1.7 .7 1.7-.9 1.5-1.1 -.1-1.9 .2-1.9 .7-1.8 0-1.9 0-1.9 -.7-1.8 -1.3-1.4 -1.7-.6M173.4 46.4l1.7 .8 1.9-.5 1.7-.8 1.4-1.2M137.9 79.6l-.3-1.8 -1.4-1.4 -1.1-1.5M198.7 57.1l-.5-1.8 -.6-1.8 -1.2-1.5 -1.7-.7 -1.1-1.6 -1.5-1.1 -1.8-.7M157.4 64.5l1.2 1.5 1.4 1.2 1.2 1.5 1.5 1.2 .9 1.6 1.3 1.4 .6 1.8 0 1.9 .2 1.9 -1.4 1.3M182.8 109l-.5 1.8 -.9 1.7 -.1 1.9M141.9 81.3l1 1.7 .8 1.7 1.6 1.1 .1 1.9 -.2 1.8 1.4 1.4 .2 1.8 .9 1.7 1.1 1.6M154.1 89.7l.1 1.9 1.8 .5 1.8 .8 1.9 .1 1.9 0 1.7-.8 1.9-.4 1.8-.4 1.5 1.2M174.2 72.9l1.1 1.6 1.3 1.3 1.1 1.6 .7 1.8 0 1.9 -1.7 .8 -1.3 1.4 -1.3 1.4 -1.4-1.3 -1.8 .6 -1.6 1.1 -1.7 .9M148.3 47.5l-.1 1.9 .5 1.8 -1.4 1.3 -1.6 1.1 -.5 1.8M182.5 80.3l-1.1-1.5 -.4-1.9 -1.5-1.1 -1.9 .3 -1.9 .1 -1.7-.6 -1.8-.7 -1.2-1.5 -1.8 .7 -1.8-.2M160.6 46.1l1.7 .8 1.5-1.2 1.5-1.2M145.1 50.5l.7 1.7 1.8 .7 1.5 1.2 .9 1.6 .5 1.9 -.2 1.9 0 1.8 .2 1.9 -1.5 1.3 -1.9 0 -1.9 0 -1.7-.8M140 82.6l-.8-1.7 -1.2-1.6 -1.2-1.4 -1-1.6M154.8 60.9l-.9-1.7 -.9-1.6 -.7-1.8 -1.1-1.5 -.3-1.9 -.6-1.8 -1.1-1.5 -.7-1.8 -1.8-.6M188.2 58.8l.3 1.8 -.7 1.8 -1.5 1.2 0 1.9 1.3 1.3 1.8-.7 1.8-.5 1.8 .8M175.2 70.7l1.7 .8 1.9 .4 1.8 .6 1.7 .9 1.5 1.1 1.8-.8 1.8 .3 1.5-1.2 .9-1.7 -.3-1.8M136.1 83.8l-1.8-.6 -1.7 .9 -1.7-.8M187.5 101.9l1.8 .7 1.5-1.1 1.8-.7M146.2 62.4l1.4 1.2 1.8 .6 1.8 .8 1.7 .7 1.8 .8 .9 1.6 -1.4 1.3 -.8 1.8 -.2 1.8 -.8 1.8 .4 1.9 -.2 1.9 -.8 1.7 -.4 1.8M186.7 99.7l.2-1.9 -.5-1.9 -.8-1.7 0-1.9 .2-1.9 -.3-1.9 .2-1.8M179 76.2l1.8 .7 1.4-1.3 1.7-.8 1.7-.8 1.8 .5 1.8 .8 1.6-.9M143.1 61.7l.8 1.8 .5 1.8 -.2 1.9 -.2 1.9 -.8 1.7 -1.5 1.1 -.9 1.7 -.4 1.8 -1.3 1.4M188.1 107.9l1.9-.5 1.6-.9 1.9 .3M188.8 55.8l1.3 1.5 1.7 .7 1.8 .7 .5 1.9 0 1.9M169.5 90.1l.6 1.8 .2 1.9 0 1.9 0 1.9 .3 1.9 1.8 .4 1.6 1.1 1.8-.5 1.4-1.3 1.7-.9M171.6 46.4l1.9 .1 1.9-.1 1.7 .7 1.5 1.2 1.9 0 1.8-.5 1.9 0 1.9 .3 1.9 0 1.6-.9 1.5-1.2 1.9-.3M167 68.9l-1.2 1.5 -.5 1.8 1.4 1.3 .1 1.9 .7 1.8 .4 1.8 .1 1.9 -.2 1.9 .7 1.8 1.1 1.6M184.3 50.6l1.7-.8 .4-1.8 1.4-1.3 1.8-.6 1.4-1.3M160 44.5l1.9 .5 1.4 1.3 1.8 .5 1.4-1.3M171.6 89.7l1.7 .7 1.7 1 1.1 1.5 1.8 .7 1.4 1.3 1.6 1 1.4 1.3 1.4 1.3 -.1 1.9 -.4 1.9 -.2 1.8 1.3 1.4M129.6 88.5l-1.9 0 -1.9-.1M145.5 60.3l-.6 1.8 -.9 1.6 -1.8 .6M160.6 59.1l1.1-1.5 -.5-1.9 -.8-1.7 -.5-1.8 -1.1-1.6 -.5-1.8 0-1.9 -1.1-1.6 -1.3-1.4 -1.4-1.2 0-1.9M177.6 49l1.5 1.1 0 1.9 -.4 1.8 1 1.6 1.2 1.5 1.6 1 1.2 1.5 1.8 .5 1.8 .5 1.4 1.3 1.9-.3 1.1-1.6M157.9 60.6l1.8-.2 1.9 .6 1.8-.3 1.9-.4 1.9 .3 1.8 .4 1.2 1.5 -.8 1.7 .1 1.9 1.8 .8 1.1 1.5 -.3 1.9M163.3 95.7l1.3-1.4 1.9 0 1.9-.1 1.3-1.3 1.9-.4 1.8-.7 .5 1.8 1.2 1.4 1.6 1.1M183.6 75.8l0 1.9 .3 1.9 1 1.5 1.2 1.6 -.8 1.7 -.4 1.8 -1.8 .6 -1.3 1.4 -1.1 1.6 .5 1.8 .3 1.9 -.5 1.8 .3 1.9 1 1.6 1.1 1.5 1 1.7M160.5 89.5l1.3 1.4 1.4 1.4 .6 1.7 .1 1.9 -.2 1.9M168.9 56.6l-.1-1.9 -.1-1.9 .1-1.9 .7-1.8 -.9-1.6 -1.2-1.5 -1.1-1.6M188.3 112.1l-.7-1.8 -1.9 0 -1.7-.9 -1.7-.8 -1.9 0 -1.9-.3 -1.9-.1 -1.6 .9 -1.6 1.1 -1.6 1 -1.7 .8 -1.8 .7 -1.7 .8M170.5 81l-1.7-.9 -1.4-1.2 -.9-1.7 -.9-1.6 -.6-1.8 .7-1.8 -.4-1.8 -.5-1.9 -.5-1.8 .4-1.9 -1-1.6 -1.9-.3 -1.8-.6 -1.9 .1M182.3 96.2l1.3-1.5 1.8-.2 1.9 .3 1.9-.4 1-1.6M194.4 47l-1.5 1.2 -1.4 1.3 -1.9 .6 -1.7 .6 .2 1.9 .2 1.9 1.1 1.6M172.4 96l-1.9 0 -1.9-.4 -1.8 .3 -.8 1.7 .8 1.8 .1 1.9 1 1.6 1.2 1.5 .9 1.6 -.4 1.9 -1.8 .5 -1.8-.5 -1.8-.7M148.5 51.6l1.9 .5 1.3 1.4 .3 1.8 0 1.9 -.2 1.9M183.3 56.2l1.9-.2 1.9-.5 1.6 1 1.7-.6 1.9-.2 1.9-.3 1.9-.2 1.9 .3 .7 1.8M187.5 91.3l.1-1.9 -.7-1.8 .4-1.8 1.6-1.1 1.2-1.5 .6-1.8 .2-1.9M170 78.5l-1.4 1.4 -1.4 1.1 -.1 1.9 -.7 1.8 .1 1.9 -1.1 1.5 -.4 1.9 -.3 1.9 -.6 1.8 -.2 1.9 -.5 1.8 .1 1.9 -.6 1.8 -.7 1.8 -.8 1.7 1.7 .9M160.8 104.4l1.9 0 1.4-1.3 .2-1.9 0-1.9 1-1.6 1.9-.3 1.9 .5 1.9 .1 1.4 1.3 -.5 1.8 -.7 1.8 .5 1.8M155 92.2l-1.2 1.5 -1.8-.5 -1.8 .5 -1.9 .5 -1.9-.1 -1.8 .4 -1.2 1.5M182.7 100.8l-1.8-.6 -1.9 0 -1.7-.8 -1.9 .1 -1.7 .9 -1.5 1.1 -.2 1.9 -.6 1.8 -.5 1.8 -1.2 1.5M147.6 92l-.3-1.9 .5-1.9 -.1-1.9 -1.6-.9 -1.5-1.2 -1.1-1.6 -1-1.5 -.2-1.9 -.8-1.7 -.9-1.7 -1.2-1.5 -.6-1.8 1-1.7M181 75.2l.8 1.7 .2 1.9 .6 1.8 -.2 1.9 .5 1.8 -1.4 1.3 -1.4 1.2 -1 1.7 -1.2 1.5 -1.7 .8 -1.7 .9 -1.9 .1 -1.9 0 -1.9 0 -1.9 .2M178.3 87.5l-1.7-1 -1.8 .4 -1.8-.8 -1.9 .3 -1.6 .9 -1.5 1.2 -1.6 1 -1.8 .6M155.9 61.1l-.6-1.8 .5-1.9 .4-1.8 -.2-1.9 .5-1.8 -.5-1.9 1.4-1.3 1.5-1.1 .3-1.8 .1-1.9M189.2 113.3l1.9-.3 1.6-.8M136.9 78.5l1.7-.8 1.6-1 1.9-.3 1.8-.6 1.6-1 1-1.6 1.1-1.6 .5-1.8 1.4-1.3 1.3-1.4M153.1 41.2l-.9 1.7 .2 1.9 .7 1.8 .8 1.7 1.2 1.5 .2 1.9 -1.8 .5 -1.5 1.3 -1.4-1.2 -1.6-1.2 -1.8-.6M186.4 55.7l-1.1-1.5 -.7-1.8 1.6-1 1-1.6 1.7-.8 1.9 .1 1.2-1.5 .4-1.9M165.5 50.3l1.1-1.6 .4-1.9 0-1.9M160 105.1l.6-1.8 1.3-1.4 .4-1.8 .5-1.9 -.4-1.8 -1.4-1.3 -1.9 .2 -1.3-1.4 -1-1.6 -1.3-1.4M188.8 113.2l-.5-1.9 -.7-1.7 -1.7-.9 -1.9-.2 -1.8-.3 -1.8-.6 -1.9-.3M168 109l-.6 1.8 -.2 1.9M170.5 103.1l-.5-1.8 -1.8-.6 -1.6-1 -.4-1.8 -1.7-.9 -1.8-.5 -1.4 1.3 -1.8 .6 -1.4 1.2M160.9 44.9l-1.8 .6 -1.4 1.3 -1.8 .6 -1.8-.5 -1.8-.5 -1.9 .1 -1.8 .8M161.3 64.1l-1.6-1 -1.5 1.2 -1.9-.1 -1.5-1.2 -.9-1.7 -1-1.5 -1.2-1.5 -1.9-.5 -1.8 .6 -1.9-.3 -1.9 .1M171.9 67.5l.4-1.9 1.6-1.1 -.3-1.8 -1-1.7 -1.2-1.4 -.4-1.9 -.3-1.9 0-1.9 -.2-1.9 .7-1.7M161 67.1l1.8-.6 1.9 0 1.8-.5 1.8-.5 1.9 .1 1.3 1.4 -.6 1.8 -1.9 .4 -.3-1.9 1.3-1.3 .4-1.9 1.1-1.5 .1-1.9M153 48.9l1.5 1.2 1.9 .1 1.7-.8 1.9-.2 .4-1.9 -.6-1.8 -1.4-1.3 -1.8-.3 -1.7 .9 -.8 1.7 0 1.9 -.3 1.9M179 109.7l1.2 1.5 .2 1.9 1.5 1.1 1.8-.7 1.8 .6M174.8 52.7l.8-1.7 1.7-.9 1.9 0 1.9 .2 1.8 .7 1.7 .8 1.7 .8 1.8 .6 1.9 .1 1.8 .6 1.9 .5 1.7 .8 1.8 .5M184.4 97.7l1.2-1.5 .4-1.9 -.7-1.7 -1.1-1.6 -1.7-.8 -1.6 1.1 -1.7 .8 -1.6 1 -1.8 .7 -1.8 .5 -1.8-.5 -1.9 .4 -1.5 1.2 -1 1.6 -.5 1.8 -1.5 1.1M170.6 65.7l.9-1.7 1.3-1.4 1.9-.3 1.6 1.1 1.8 .1 1.5 1.2 1.8 .6 1.9-.3 1.3-1.4 1.8-.4 1.5 1.2 1.8 .7 1.9-.1 1.8-.5M178.4 106.8l-1.6 1 -1.7 .9 -1.5 1.1 -1.9 0 -1.3-1.4 -1.7 .8 -.6 1.8 -.7 1.8M139.3 76.5l-.8-1.7 .3-1.9 -1.3-1.4M189.3 105.6l1.9 .1 .6 1.8 .2 1.9 1.3 1.4M164.4 83.7l-1.4 1.2 -1.7 .9 -1.8-.8 -1.3-1.3 -1.6-1.1 -1.9 0 -1.6 1 -1.2 1.5 -1.2 1.4 -1.3 1.5 -1.9-.2M185.8 77.2l1.6 1.1 1.8 .4 1.3-1.4 .4-1.9M159.5 87.7l1.4 1.2 0 1.9 -1 1.7 -.7 1.7 -1.7 .9 -.8 1.7M191.3 60l1.5-1.2 1.6-.9 .8-1.7 -.5-1.8 .3-1.9 1.3-1.4 .7-1.7M160.3 85.9l1.8 .8 .9 1.7 .8 1.7 1.8 .3 1.6 1 1.7 .8 1.3 1.4 1.2 1.5 1 1.6M178.7 47.4l-.9 1.7 .6 1.7 1.9 .3 1.9-.2 1.6-1 1.1-1.5 1.4-1.4 1.2 1.5M141.1 68.5l1.1-1.5 1.2-1.5 1-1.6 1.2-1.5 -.2-1.8M176.2 64.2l-1-1.5 -.6-1.8 -.6-1.8 -.1-1.9 -.7-1.8 -.6-1.8 -.6-1.8 0-1.9 -.1-1.9 -.3-1.9 -.3-1.8M192.1 111.8l-1 1.6 -.3 1.9 -.2 1.9 -.4 1.9M146.7 59l.3 1.9 -.1 1.9 -.7 1.7 -1.8 .8 -1.9 .1M192.4 61.6l-1.5 1.2 -1.9-.1 -1.9-.3 -1.8 .2 -1.3-1.4 -1.3-1.4 -.9-1.6M157.8 79l-.9 1.7 -1.4 1.2 -1.3 1.4 -.7 1.8 .1 1.9 .1 1.9 0 1.9 -.6 1.8 1.3 1.4 -1 1.6 -1.8-.3 -1.9-.4 -1.6-.9M180.4 63.8l1.9 .3 1.6-.9 1.9-.5 1.2-1.4 1.3-1.5M138 86.2l1.7 .9 1.7 .7 1.4 1.3 .3 1.9 -.8 1.8 1.1 1.5 1.3 1.4M175.7 90.8l1.8 .5 1.8 .7 1.6 .9 1.7 .9 1.9-.1 1.9-.3 1.8-.5 1.9-.2M190 109.8l-1.3 1.4 -1.8 .6 -1.8-.4 -1.3-1.4 -1.3-1.4M178.4 86.5l1.8-.4 1.4-1.3 1.2-1.4 .9-1.7 .7-1.8 .4-1.8 -1.4-1.4 -.9-1.7 -1.4-1.2 -1.5-1.1M161.1 81.5l-1.7-.8 -1.4-1.3 -.3-1.9 .5-1.9 .9-1.6 1.5-1.2 -.7-1.8 -1.5-1.2 .7-1.8 1-1.6 1-1.7 .1-1.9 .9-1.6M158.5 59.4l-1 1.6 -1.8 .8 -.9 1.6 -1.3 1.4 -1.5 1.2 -.4 1.9 -.4 1.8 -.4 1.9 -.8 1.7 -.4 1.8M169.1 109.6l.9 1.6 1.6 1 1.5 1.2M172.8 96.1l-1.6-1.1 -1.9 0 -1.9 .1 -1.3-1.4 -1.7-.9 -1.8-.5 -1.6-1.1 -1.8-.6 -1.3-1.4 .5-1.8 .2-1.9 1.6-1.1 .8-1.7 1.1-1.6M155 91.1l-1 1.6 -1.3 1.4 -1.8 .7 -1.9 .2 -1.5-1.1 -1.4-1.3 -.5-1.9 -1.8 .4 -1.1-1.5 -1.4-1.4 -1.2-1.4 1.2-1.4 1-1.6M171.8 90.8l.1-1.9 -.5-1.9 -1.3-1.3 -1.5-1.1 -.9-1.7M145.3 92.3l1.5 1.1 -.5 1.9 .2 1.9M156.5 81.4l1.2-1.4 .6-1.8 .3-1.9 0-1.9 -1.4-1.3 -1.6-1 -.8-1.7 -.9-1.7 -1.5-1.1 -1.9-.3 -1.6-1M145.1 78.7l.8-1.7 1.5-1.3 .5-1.8 .5-1.9 .4-1.8M139.7 85l-1.9 .2 -1.9-.3 -1.9 .1 -1.9 0 -1.9-.1 -1.5 1.1 -1.2 1.5 -.4 1.8M162.9 107.4l1.6 1 1.8 .7 1.8-.4 .4-1.8 -.8-1.7 -.2-1.9M170.7 62.5l.9-1.7 -.7-1.7 -.7-1.8 -1.6-1.1 -1.4-1.3 -1.9 .2M190.7 62.7l-1.8-.6 -1.4-1.3 -1.9 .2 -1.9-.2 -1.9 0 -1.7-.9M166.1 71.1l-1.4 1.3 -.6 1.8 .1 1.9 -.2 1.9 0 1.9 -.5 1.9 .6 1.7 1.2 1.5 -.6 1.8 -1.6 1 -1 1.6 -1.9 .2 -1.5-1.2 -1.7 1 -1.7 .7 -1.9-.3M123.7 85.7l-1.9-.2 -1.5 1.1M162.9 95.4l-1.4 1.2 -1.9-.2 -1.8-.6 -1.9-.4 -1.8-.5 -1.6-1.1 -1.3-1.3 -1.9-.4 -1.6-1.1 -1.8 .3M154.9 72.5l-1.5-1.1 -1.8-.6 -1.2-1.4 -1.1-1.6 -1.5-1.2 -1.9-.1 -.2-1.9 .3-1.9 -.8-1.7 .9-1.7 1.8-.6 1.4-1.3 -.2-1.9 1.7-.9M154.9 52.8l-.4 1.8 -.8 1.7 -1.9-.1 -1.9 .3 -1.9 0 -1.9 .5 -1.7 .7 -.9 1.7 -.3 1.9 -.1 1.9 1.4 1.3 1.3 1.4 1.3 1.3M179.1 84.7l1.8-.2 1.5-1.3 1.1-1.5 .7-1.8 -.7-1.8 -.6-1.7 -.8-1.8 .6-1.7 -1.9-.2 -1.8 .5 -1.3 1.4M183.1 48.8l1.8 .7 1.1 1.5 1.3 1.4 1.9 .3 1.8 .6 1.6 1.1 1.9-.4M176.9 86.8l1.4 1.2 1.1 1.6 1.1 1.5 .7 1.8 -.4 1.9 .4 1.8 1 1.6 .1 1.9M151.9 44.6l1.5-1.2 1.3-1.4 1.7-.9M168.7 54.1l1.9-.3 1.7 .9 .8 1.7 1.1 1.5 .4 1.9 .7 1.8 1.6 1 .8 1.7 .7 1.7 -.1 1.9 -1 1.6 -.2 1.9M185.9 59.8l1 1.6 .9 1.7 .1 1.9 .8 1.7 1.3 1.4 .8 1.7 .1 1.9M166 71.4l-1.9 .3 -1.9 .1 -1.8 .6 -1.4 1.3 -1.8 .5 -1.7-.9 -1.3-1.3 -1-1.7 -.6-1.8 -1.1-1.5M186.9 53l0 1.9 -.8 1.7 -.1 1.9 .4 1.9 1 1.6 .9 1.7 0 1.9 1.1 1.5 -1.8 .7 -.9 1.7 0 1.9 .6 1.8 -.7 1.8 -.5 1.8 .4 1.8 -.3 1.9M176.3 47.5l1.3-1.4 .3-1.9M145.7 71.6l1.9-.1 1.9 0 1.8-.7 1.9 .1 .8 1.7 -1.2 1.5 -1.7 .7M186.9 101.3l1 1.6 .2 1.9 -.8 1.7 -1.7 .9 -1.6 1 -1.9 .1 -1.4-1.3 -1.8-.4 -1-1.7 -1.8-.6 -1.5-1.1 -1.1-1.5 .3-1.9 .7-1.8 .1-1.9 -.7-1.7M154.2 93.3l.4-1.9 .5-1.8 .8-1.7 .6-1.8 .3-1.9 1.1-1.6 .6-1.8 .2-1.9M176.3 72.8l-1.3-1.4 -.5-1.8 -.8-1.8 -.6-1.8 -1-1.6 .2-1.9 1-1.5 1.9-.1 1.3-1.4 .7-1.8 .7-1.8M176.9 68.3l1.5 1.1 1.7 1 1.4 1.2 .7 1.8 1.6 1 1.1 1.6 .9 1.6 -.5 1.9 -1.5 1.2 -1.8 .7 -1.3-1.4 -1.3-1.4 -1.6-1 -1.8-.7 -1.9 .2M182.1 106.9l1.1 1.6 -.9 1.7 -.1 1.9 -.4 1.8 1.1 1.6M189.8 90.6l-1.9 .3 -1.5 1.2 .7 1.7 .8 1.7 -.3 1.9 -1.4 1.2 -1.9-.2 -1.8-.6 -1.7-.9 -1.9-.1 -.5 1.8 .3 1.9 1.1 1.5 1.7 .9 1.7 .8M149.6 73.3l.2 1.9 -.8 1.7 -1.6 1 -.8 1.7 -.9 1.7 -.9 1.6 -.8 1.8 -.6 1.8 0 1.9M173.2 96.4l.6 1.8 -.5 1.9 .4 1.8 -1.1 1.5 .5 1.9 1 1.6 .2 1.9 -1 1.6 -.1 1.9M183.7 107.1l.4 1.9 .3 1.9 -1.5 1.1 -1.8 .5 -1.8 .7M167.3 63.5l.9-1.7 1.1-1.5 1.1-1.6 .7-1.7 .1-1.9M166.8 48.9l0 1.9 1.6 1.1 1.5 1.2 1.7 .8 1.1 1.5 .6 1.9 0 1.9 1.2 1.4 1.9 .5 1.9 .1 1.4-1.3M145.7 89.9l-1.7 .9 -1 1.6 -.3 1.9 -1.1 1.5M167.1 90.8l1.7-.7 1.7-.9 1.7-.8 1.8-.6 1.9 .5 1.9 .1 -.4-1.8 -1.3-1.4 -1.8-.6 -1.6-1 -1.3-1.4 -.4-1.9 .8-1.7 -1.4-1.3 0-1.9 .8-1.7M138 70.2l1.8-.6 1.8 .5 1.7-.8 1.2-1.5 1.5-1.2 1-1.6 0-1.9 -.8-1.7 -.5-1.8 -1.5-1.1M188.7 113l-.8 1.7 -.9 1.7M158.9 83.9l-1.7 1 -1.5-1.2 -1.7-.8 -.3-1.9 -1.8-.6 -.9-1.6 -1.2-1.5 -1.1-1.5 -1.4-1.3 -1.7-.8 -1.9 .4M144.6 86.2l1.7-.9 1.4-1.2 1.8-.5 1.4-1.3 .2-1.9 -1.3-1.5 -1-1.6 .7-1.8 .4-1.8 -.1-1.9 -1.2-1.5 -1.6-1M139.8 75.7l-1 1.6 -1.9 0 -1.8 .4M191.7 60.6l1.9 .3 1.6-1M164.9 96.3l1-1.7 -.9-1.6 -1.5-1.2 -1.8-.5 -1.6 1.2 -1.8 .4 -1.8-.5 -1.4 1.3 -1.3 1.4 -1.9 .2 -1.7 .7 -1.9-.6 -1.8-.2 -1.5 1.2M135.8 78.4l1.3 1.4 1.3 1.4 1.5 1.1 1.5 1.2 .7 1.8 -.7 1.8 -.9 1.7 -1 1.6M178.8 74.5l1.8-.6 1.8-.7 1.8 .6 1.2 1.5 1.6 1 1 1.6 .1 1.9 1.4 1.2 1.5 1.2M162.6 82.4l-1.9 .4 -1.9-.1 -1.6-1 -1-1.6 -.9-1.7 -1.3-1.4 0-1.9 -.7-1.7 -.7-1.8 -.1-1.9 -1.6-1 -1.2-1.5M168.3 49.3l1.6 .9 1.5 1.3 .2 1.9 -1.5 1.1 -1.9 .2 -1.5 1.2M183.3 61.8l-1.6 1 -1.9 .5 -.3 1.8 -.4 1.9 -.4 1.8M176.5 71.8l-1.9 .5 -1.6 1 -.9 1.6 -1.2 1.5 -1.7-.9 -1.9 .1 -1.9 .1M163.8 65.2l.8 1.8 .7 1.8 1.2 1.4 .5 1.8 1.3 1.4 1.6 1.1 1.6 .9 1.6 1.1 1.9 .3 1.9-.2 1.6 1 1.6 1 1.3 1.4 1.4 1.3M168.5 51.4l.5-1.9 .8-1.7 .6-1.8 .8-1.7 1.7-1M185.8 104.1l.4 1.8 .7 1.8 1.4 1.3 1.2 1.4 1.9-.1 1.3-1.4 1.2-1.5M149 84.5l-1.3 1.4 .1 1.9 -1.2 1.5 -.1 1.9 1.8 .8M153.6 72.1l.2-1.9 -.3-1.9 -.6-1.8 -.7-1.8 -1.4-1.3 -1.9-.1 -1.8 .6M168.6 64.7l-.1 1.9 -1.4 1.3 .4 1.9 -.6 1.8 -1.4 1.2 -1.7 .8 -1.9 .2 -1.8 .7 -1.8 .6 -1.8 .5 -1.9 0 -1.8-.7M178.5 57.8l-1.8 .5 -1.6 1 -1.3 1.4 -1.3 1.4 -1.3 1.3 -1.6 1.1 -1.6 .9 -1.8 .7M167.8 98.1l.9-1.7 .5-1.8 -1-1.6 -1.9-.2 -1.9-.3 -1.5-1.2 -1.5-1.1 -1.8 .2 -1.3 1.4M146.2 92.9l-1.3 1.3 -.3 1.9M147.2 47.7l1.9-.1 1.9-.5 1.6-1 1.8-.3 1.6-1.2 1.9 .2 1.8 .5M139 90l.3-1.9 .4-1.8 -1.2-1.4 -1.7-1 -.3-1.9 .8-1.7 .6-1.8 .5-1.8 1.4-1.2 1.8-.8 1.6-.9 1.9 .1M174.5 102.5l-1.3 1.4 -1.5 1.3 -1.8-.4 -1.8-.6 -1.8-.8 -1.6-.9 -1.5-1.2 -1.9 .1 -1.9 0 -1.7-.9 .2-1.9 -.1-1.8 .2-1.9 1-1.7 1.8-.4M196.7 53.2l1.8 .5 -.5 1.8 1 1.7M158.2 66.3l1.5-1.2 1.4-1.3 1.8-.6 .2-1.9 -.2-1.8 -1.1-1.6M138.8 70.5l1.9 .2 1.9-.2 1.9-.1 1.7 .7 1.9 .6 1.1 1.5 1.1 1.5 .5 1.8 .4 1.9 1.6 1 1.9 .1M137.8 86.1l-1.6 .8 -1.9 .4 -1.8 .5 -1.8 .6 -1.9 .2 -1.1-1.6 -.9-1.6 -1-1.6M185 108.8l.2-1.9 -1.5-1.1 -.9-1.7 .8-1.6 1.6-1.1M195.8 52.3l-.2-1.9 -.2-1.9 -1.2-1.4 -1.7-.7 -1.4-1.3 -1.9-.5M152.9 67.2l.5-1.8 .7-1.8 1.8-.4 1.8-.6 1.8-.7 1.3-1.4 1.2-1.5 .9-1.6 1.1-1.6 1.5 1.2 1.1 1.6 1.7 .8 .2 1.9 -.7 1.8M161.5 49.2l-1.6 .9 -1.9 .5 -1.8 .6 -1.4-1.2 -1.6-1 -1.2-1.5 -1.2-1.4 .1-1.9 .7-1.8 1.5-1.2M179.7 72.3l-.4 1.9 .1 1.9 -.3 1.9 -.4 1.8 1.5 1.2 .9 1.7 1.9-.1 1.8-.6 1.6-1.1 -1.2-1.5 -1.3-1.4M177.6 99l1.9-.3 1.8-.8 1.7-.8 1.6-1.1 1.4-1.2 .6-1.8 -.8-1.7 -1.3-1.4M156.7 94l-1.5-1.1 -1.6-1.2 -.9-1.6 -1.7-.9 -1.1 1.6 .7 1.7 .6 1.8 -.8 1.7 -.8 1.7M179.2 71.9l-1.8 .7 -.6 1.8 -1.7 .7 -1.9-.1 -1.6 1 .1 1.9 .1 1.9 .9 1.7 -.2 1.9 1.3 1.3 1.8 .7 1.1 1.5 1.1-1.5 -.6-1.8M150.1 56.7l.9 1.7 .3 1.8 -.2 1.9 .8 1.7 1.7 .9 1.8-.5 1.6 1 1.9-.3 1.7 .8 1.6 .9M189.2 106.1l1.5 1.1 1.9 .2M163.4 64.5l.1-1.9 -1.9-.2 -.5-1.9 -.9-1.6 -1.7-1 -1.7 .9 -1.8 .6 -1.8 .5 -1.5 1.1M176.5 69.7l-1.8 .7 -1.3 1.4 -1.4 1.2 -.9 1.6 -.9 1.7 -.8 1.7 -.8 1.8 -1.7 .8M145.3 84.1l1.7-.9 1.6 1 .7 1.8 -.2 1.9 -.6 1.8 0 1.9 1.4 1.3 .7 1.8 1.3 1.3M155.7 89.1l.9 1.7 .1 1.9 -.6 1.8 -.2 1.9M150.8 93.8l-.6 1.8 -1.5 1.2M152.6 73.6l1.7-.8 1.7-.9 .9-1.6 .4-1.9 -1.4-1.3 -1-1.6 -1.7-.8 -1.4-1.4 -.6-1.7 -1.2-1.5 -1.9-.4 -1.9-.4 -1.5-1.1M181.5 72.5l1.9 .3 1.6 1 1.9 .3 1.6 .9 .3 1.9 -.8 1.7 -.6 1.8 -.6 1.8 1.3 1.4 1.3 1.4M188.5 56.3l-1.7 .8 -.5 1.8 .1 1.9 -.3 1.9 .2 1.9M153.7 44.2l-1.7-.8 -1-1.7 1.7-.8M142.7 61.3l-.3 1.9 .4 1.8 1.8 .8 .8 1.7 1.1 1.6 1.7 .9 1.6 .9 1 1.7 1.7 .7M145.2 50.8l0 1.9 .8 1.7 0 1.9 1.2 1.4 1.2 1.5 1.9 .5 1 1.6 .4 1.8 -1.6 1.1 -1.3 1.3 -1.3 1.4 -.9 1.7 -1.6 .9 -.9 1.7 -1.5 1.2M146.8 62.2l.7-1.7 1.3-1.4 1.9-.1 1.9-.4 1.1-1.5 1.8-.8 1.8-.6 1.9 0 1.6 .9M193.2 105.8l-1.1-1.6 0-1.9 -.5-1.8 -.2-1.9 -1.3-1.4M176 94.6l.1 1.9 .2 1.8 -.1 1.9 1.3 1.3 1.9 .3 1.9 .2 1.9 .3 1.8 .7M189.3 97.1l-1.8 .5 -1.9 .1 -1.9 .3 -1.8 .6 -1.9 .1 -1.7 .9 -1.8 .7 -1.7-.6 -1.9-.1 -1.5-1.2 -.4-1.9M173.2 58.2l-.5-1.9 -.4-1.8 .3-1.9 .5-1.8 1.4-1.4 1.1-1.5M149.1 93.1l.3 1.9 -.8 1.7M144 68.2l1.6-1.1 .3-1.9 .5-1.8 1.3-1.4 .8-1.7 1.8-.8 1.7-.7 1.4-1.3 -.2-1.9 .1-1.9 .4-1.9 -1.6-1M168.1 64.3l-1.1-1.6 -1.2-1.5 .2-1.8 -.4-1.9 .5-1.8 .8-1.8M157.3 60.1l1.3-1.4 1.9-.3 1.8 .3 1.5-1.1 .1-1.9 .6-1.9 .9-1.6M152.6 43.1l1.7 .8 .8 1.7 0 1.9 -.8 1.7 -1.7 1 -1.2 1.4 -1.7 .9 -1.5 1.1 -1.2 1.5 -1.8 .5M193.1 49.6l-1.7 .9 -1.5 1.1 -1.6 1.1 -1.9-.2 -1.6-1 -1.5-1.1 -1-1.6 -1.1-1.6 -1.6 1.1 -.7 1.8 -1.7 .8 -1.2 1.5 -.5 1.9M178.3 57.2l-.3-1.9 -.2-1.9 -.8-1.7 -.9-1.7 -.5-1.8 -1.5-1.3M188.1 106.3l1.9-.3 1.9-.1 1.9-.1M187.7 67.7l-.3-1.8 -.9-1.7 -1.2-1.5 -1.8-.7 0-1.9 0-1.9 -.3-1.9 -.1-1.9 -.7-1.7 -1.2-1.5 -1.3-1.4 -.8-1.7M177 97.3l1.7-.9 1.8-.6 1.1-1.5 -.5-1.8 -.6-1.9M172.9 56.2l-1.3-1.4 -1.6-1.1 -1.6-.9 -1.9 0 -1.4-1.3 .7-1.8 0-1.9 -1.4-1.2 -.3-1.9M181.9 107.2l1.1-1.5 1.7-.9 .4-1.9 -1.3-1.4 -1.9 .2 -1.8 .3 -1.3 1.4 -.6 1.9 -.2 1.8 0 1.9 -.4 1.9 1.3 1.4 1.3 1.3 1.8-.4M175.1 72l-.9-1.7 -1.6-1 -.6-1.8 .1-1.9 .7-1.8 -.2-1.8 -1.6-1.1 -1.9-.1 -1.9-.1 -1.9 0M154.7 88.9l-1.7 .9 -1.6 1 -1 1.6 -1.5 1.2 -1.8 .3 -1.9 .1 -1.9-.5 -1.8-.5 -1.4-1.3M164.7 59.6l-1.4 1.4 -1.6 1 -1.8 .6 -1.9-.1 -1.6-1 -1.7-.7 -1.6-1.1 .3-1.9 -1.2-1.4 -1.9-.2 -1.8 .8 -1.9 0 -1.5-1.1M191 48.5l-.1 1.9 -.3 1.9 .4 1.9 .7 1.7 .3 1.9 1.8 .7 1.9 0 1.6-.9 1.6-1M175.4 46.3l-1.9-.5 -1.8-.5 -1.5-1.2M176.8 85.1l-1.8-.7 -1.8 .4 -1.9 .4 -1.8 .6 -1.7 .9 -1.8 .4 -1.2-1.5 -1.6-1 -1.1-1.6 .1-1.9 -.3-1.8 -.4-1.9 -1.5-1.1M173.3 62.8l1.1-1.5 1.2-1.5 1-1.6 0-1.9 -.3-1.9 1.6-1 1.9 .2 1.8-.6 1.3-1.3M162.8 110.9l1.9 .3 1.9 .2 1.4 1.2 1.9 .6M156.3 48.9l.7 1.8 -1 1.6 -.5 1.9 -.6 1.8 -1.6 1 -1.1 1.5 -.2 1.9 -.2 1.9 -1.2 1.4 -1.9-.2 -1.6-1M164.5 93.5l1.2-1.4 1.3-1.4 .6-1.9 -.9-1.6 .8-1.8 0-1.9 -.2-1.8 -.7-1.8 -1.2-1.5 -1.2-1.5 -1.4-1.2M188.7 85.8l-1 1.6 -1.7 1 -1.9-.2 -1.7-.7 -1.8-.7 -1.7 .8 -.5 1.8 -1.4 1.3 -1.8 .8 -1.8 .2M172.7 95.9l1.2-1.4 -.3-1.9 .3-1.9 -.6-1.8 -1.3-1.3 -1.4-1.3 -.4-1.9 -1.5-1.2 -.6-1.8 .7-1.8 -1.2-1.4M167.6 59.1l-1.8-.4 -1.9 .3 -1.8 .7 -1.8-.3 -1.6 1.1 -1.7 .8 -1.4 1.3 -.8 1.7M188.3 92.4l0-1.9 -1.2-1.4 -1.9 0 -1.2 1.4 -1.9 .2 -1.8 .6 -.6 1.8M170.2 81.2l-1.6-.9 -1.1-1.6 -1.9 .2 -1.6 1 -1.7 .8 -1.8 .7 -1.5 1.2 -1.4 1.3M166.1 105.2l1.7 .9 1.3 1.3 1 1.6 1.5 1.2 1.8 .6 1.9-.1 1.6 1 1.4 1.4M187.2 83.4l1.3 1.4 1.1 1.6M172.3 98.5l-1.5-1.1 -1.7 .8 -1.8-.8 -1.8 .5 -1.9-.4 -1.8-.6 -1.8-.4 -1.9 .5 -1.8-.4M173.3 86.5l-1.3 1.4 -1.9 .4 -1.4 1.3 -1.7 .9 -1.8-.5 -1.7-.9 -1.4-1.2 -1.5-1.3 -1.6-.9 -1.6-1 -1.7-1 -1.4-1.2 -1.9 .5 -1.8 .6 -.6 1.8M189.7 64l1.6-1 1-1.6 1-1.6 .6-1.8 .7-1.8M191.8 98.3l-1.2-1.5 -1.8-.3 -1.9 .2 -1.7 .9 -1.4 1.3 -1.2 1.5 -1.5 1.2 -1.4 1.2 0 1.9M160.3 46.8l.9 1.7 .5 1.8 .3 1.9 -.1 1.9 .9 1.7 1.4 1.3 1.2 1.5 .5 1.8 -1.5 1.2 -1.7 .9M180.9 71.1l.8-1.7 .9-1.6 1.2-1.5 1.9-.4 1.8-.4 1.9-.4 1.8 .6 1.6-1.1 1.5-1.2M171.9 111.5l-1.9 .1 -1.9 .1 -1.9-.1 -1.6-1 -1.4-1.3 -1.6-1 -.1-1.9 -1.6-1.1M167.3 98.1l1.6-1.1 .6-1.8 1.3-1.3 1.2-1.5 .6-1.8 -.4-1.9 -1.5-1.2M159.1 51.6l.7-1.8 1.6-1.1 1.8-.5 .4-1.8 1.5-1.2 1.5-1.1M181.4 92.4l.8 1.7 .7 1.7 1 1.7 .2 1.9 .1 1.9 -.6 1.8 -.3 1.8 .8 1.8M179 55.2l-1.3-1.3 -1.7-.9 -1.9-.2 -.6 1.8 -.4 1.9 1 1.5 -.3 1.9M173.9 47.1l-1.8 .8 -1 1.5 -1.3 1.4 -1.4 1.3 -.8 1.7 -.5 1.9 -.4 1.8 -.5 1.9 -.5 1.8 -.2 1.9 -1.1 1.5 .5 1.9 1 1.6 .8 1.7M174 56.9l-1.5 1.1 -1.4 1.3 .1 1.9 .2 1.9 -.4 1.8 -.8 1.8M145.6 64l-1.2-1.5 -1.4-1.3M169.7 82.1l-1.8 .5 -1.8-.7 -1.9-.1 -1.8-.5 -.8-1.7 -.7-1.8 -1.1-1.5 -.8-1.7 -.8-1.8 -.9-1.6 -1.9-.5M148.8 66.3l.6 1.8 -1.5 1.3 -.9 1.6 0 1.9 1.2 1.5 1.9 .5 1.8 .5 1.8-.4 1.9-.4 1.8-.5 1.4-1.3 1.2-1.5M165.2 68.9l.9-1.6 -.7-1.8 .6-1.7 -.5-1.9 -1-1.6M188.6 65.4l-1.4-1.2 -1-1.7 -.8-1.7 -1.4-1.2 -1.3-1.5 .1-1.9 .6-1.8 .6-1.8 1.9 0 1.6 1.1M184.5 91.1l-1.5-1.2 -1.7-.7 -.1-1.9 .7-1.7 .8-1.8 .1-1.9 -1.8 0 -1.9-.5M177.1 95.8l.9-1.6 .9-1.7 1.5-1.1 1.9 .3 1.8 .6 1.7 .9 1.3 1.4 -.1 1.9 .2 1.9 1.3 1.3 1.8 .6M169.7 96.2l-.5 1.8 .8 1.7 .4 1.9 .2 1.9 1.6 1.1 1.8 .5M173.9 81.3l1.5-1.2 1.7-.8 1.6-1.1 1.8-.1 1.9-.6 1.2-1.4 1.2-1.5 .8-1.7 1.5-1.2 1.2-1.5 1.3-1.4 1.1-1.5M188.9 58.4l.8-1.7 .2-1.9 .7-1.8 .8-1.7 1.2-1.4 1-1.7 .2-1.9M174.9 54.7l1.1 1.6 1.2 1.4 1.3 1.4 .9 1.7 1.2 1.5 1.3 1.4M144.5 61.8l1-1.6 1.8-.7 1.8 .6 1 1.6 1 1.6 0 1.9 .6 1.8 .6 1.8 .6 1.8 -1.1 1.5M143.6 70.8l-1.1-1.5 -1.9-.1 -1.9-.3 -1.1 1.5M150.6 62.9l-1.1-1.6 -.2-1.9 .5-1.8 .4-1.9 0-1.9 .8-1.7 1.5-1.2 1.6-.9 1.9-.4 1.8-.7 1.8-.6 1.8 .3M166.1 45.9l-.1 1.9 -.4 1.9 -1.5 1.1 -1.6-1.1 -1.5-1.1 -1.7-.9 -1.5-1.2 -1.7-.8 -1.6-1 -1.9 .2 -1.9 .4 -1.8 .6 -1.9 .1 -1.5 1.2M172.4 48.1l-1.6 1 -1.8 .5 -1.5 1.1 -1.6 1.1 -.4 1.9 -.3 1.9 -1 1.5 .9 1.7 1.6 1 1.9-.2M184.2 93.7l.2 1.9 -1.2 1.5 -1.9 0 -1.8 .6 -1.9 0 -1.8 .8 -1.9 .2 -1.8 .6 -1.8 .4 -1.7-.9M156.4 51.5l.9 1.6 .4 1.9 .1 1.9 0 1.9 -.5 1.9 -1.2 1.4 -.9 1.7 -1 1.6 .5 1.9 -1 1.6 -.9 1.7 .6 1.8 .1 1.9 -1.7 .8 -1.8 .5 -1.8-.7M178.9 86l.3-1.9 .2-1.9 -.4-1.8 -.9-1.7 -1.7-.8 -1.6-1.1 -1.6-1 -1.8-.5M199.9 52.2l.7 1.7 .1 1.9M155.1 46.6l.1-1.9 .2-1.9 1.4-1.3M179.2 47.8l-1.9 .2 -.9-1.7 -1.3-1.4 .2-1.9M144.8 93.6l.1-1.9 .5-1.8 -.1-1.9 -1.3-1.4 -.6-1.8 -1.9-.3 -1.7-.8 -1.8-.7 -.2-1.9 .7-1.8 .1-1.8 -.1-1.9 -.4-1.9 -1.1-1.5M158.6 66.3l1.1-1.6 1.8 .6 1 1.7 1.6 .9 1.8 .7 1 1.6 -.2 1.9 .9 1.7 -.2 1.9 .6 1.8 -.2 1.8M154.9 46.4l-1.9-.1 -1.9 .4 -1.8 .6 -1.1 1.5 -1.6 1.1M189.5 91.9l-1.9-.1 -1.7 .8 -.7 1.8 -1.8 .7 -1.5 1.1 -1.3 1.5 -1.8 .5 -1.9 .1 -1.6 1 -.4 1.9 -1.9 .4 -1.9-.2 -1.8 .7 -1.4 1.2 -1.4 1.3 -1.2 1.5M186.4 107.6l1.1 1.5 1.1 1.6 1.3 1.4 -.3 1.9 -.5 1.8 -.5 1.9M147.8 82.3l-1.9 .5 -1.8 .6 -.3 1.8 .9 1.7 -1.1 1.6 -1 1.6 -1.6 1M192.2 66.6l-1.9-.1 -1.6-1 .3-1.9 0-1.9 -.2-1.9 .8-1.7 1.7-.9M186.7 47.8l-1.5-1.3 -1.8-.2 -1.3 1.4 -1.5 1.2 -.3 1.9 1 1.6 1.7 .8 1.6 1M173.2 95.9l-1.7-1 -1.5-1.2 -.8-1.7 -1.2-1.5 -1.6-1 -1.4-1.3 -.9-1.7M184.1 106.8l-.1-1.9 -1-1.6 -1.5-1.2 -.1-1.9 1.1-1.6 1.4-1.2 1.7-.9 1.7-.9 1.4-1.3 1.3-1.3M158.3 56.1l1.8 .5 1.9 .1 1-1.6 .6-1.8 -.6-1.8 -.6-1.8 -.3-1.9 -1-1.6 -1.8-.6 -1.9-.3 -1.8-.5 -1.7-.8 -1.9 .3M178.6 83.3l1.5-1.2 1-1.6 1.7-1 1.9-.2 1.7-.8 1.3-1.3 1.4 1.2 .9 1.7 .4 1.9 .7 1.7M182.4 102.3l-1.8 .4 -1.9-.5 -1.1-1.6 -1.3-1.3 -1.9 .2 -.9-1.7M175.7 82.9l-.1-1.9 .5-1.8 1.4-1.3 1.6-1 1.3-1.4 1.8-.7 1.7 .7 1.9 0 1.8 .4 1.7 .9M170.2 63.4l-1.9-.1 -1.8-.7 -.6-1.8 -.5-1.8 -1.9-.1 -.9 1.7 -1.1 1.5 .8 1.8 .9 1.7 -.3 1.8 -.6 1.9 -1 1.5 .3 1.9 -1.1 1.6 -.8 1.7 -.2 1.9M183.5 89l-.1-1.9 0-1.9 .9-1.6 1.9-.2 1-1.6 .6-1.8 1.7-1 1.2-1.4M176.2 101.1l.2-1.9 -.5-1.8 1.1-1.6 .2-1.9 1.6-1 1.5-1.1 1.6-1.1 0-1.9 -.1-1.9 1.3-1.3 0-1.9 1.2-1.5 1.7-.7 1.9 .2M190.5 111l.4 1.8 1.3 1.5 -.3 1.9 .8 1.7 -.9 1.7M158.3 100.5l.6-1.8 1.2-1.5 1.7-.9 1.8-.4 1.4 1.3 1.2 1.5 1.1 1.6 .7 1.7 -.7 1.8 -1.4 1.3 -1.5 1.1 -1.9 0 -1.3 1.4M128.6 87.5l1.6-1 1.9-.5 .9 1.7 .7 1.8M174.7 109.7l-.4-1.8 .9-1.7 1.2-1.5 -.3-1.9 .4-1.9 0-1.9 .2-1.8 -1.5-1.2 -1.7-.9 -1.5-1.2 -1.9-.2 -1.8-.6 -.7-1.7 -.5-1.9M155.9 70.8l-1.1-1.5 -.8-1.7 -.1-1.9 -.9-1.7 .7-1.8 1-1.6 1.8-.6 .8-1.8 .7-1.7 1.8-.6 1.4 1.4M186.1 54.9l1.8-.6 1.6-1 1.4-1.3 1.4-1.4 1.8-.3 1.9 .1 1.2 1.5 1.8 .5M137.7 77.4l1.9 .3 1.6 1 .6 1.8 .3 1.9 1.3 1.4 1.6 1 1.9 .5 1.8 .3M162.6 77.9l.8 1.7 0 1.9 1.8 .8 1.2 1.5 -.3 1.8M164.7 58.9l-.9-1.7 -1.8-.7 -1.6-1 -.5-1.8 -.9-1.7 -1.9-.4 -1.9 0 -1.2 1.4M186.3 94.8l.9 1.6 .3 1.9 1.2 1.5 1.4 1.2 1.8 .7 .2-1.8 .6-1.9M149.5 75.3l-.8 1.7 -1.1 1.5 -1.4 1.3 -1.8 .6 -1.5 1.2 -1.5 1.1 -.6 1.8 -.7 1.8 -1.7 1 -1.5 1.2 -1.9 .1 -1.8 .5 -1.9 .1 -1.5-1.1 -1.2-1.5M149.3 74.4l-1.5 1.2 -1.8 .5 -1.2 1.4 .7 1.8 .2 1.9 .5 1.8 .7 1.8 .3 1.9 1.4 1.3 1.9-.2 1.9-.3 1.4-1.3 -.7-1.7 -1.2-1.6 -1.4-1.2 -1.8-.4M172 94.8l-.3 1.9 .9 1.6 1.6 1.1 1.9-.2 .9 1.7 1.7 .9 1.8 .6 1.7 .8 1.5 1.2 .2 1.9M159.8 80.1l-.2 1.9 .5 1.8 -.5 1.9 -1.6 1 -1.1 1.5M159.6 67l.2 1.9 1 1.6 -.7 1.7 -1 1.6 -1.9 .3 -1.8-.5 -1.8-.4 -1.9-.3 -1.7-.9 -1.8-.4 -.9 1.6 -1 1.7 -.7 1.8 -.9 1.6M138.1 75.3l1 1.6 1.3 1.4 .5 1.9 -.4 1.8 -1.8 .7 -1.6 1 -1.9-.1 -1.1-1.5 -.1-1.9 .3-1.9 .1-1.9M172.3 97.3l.5 1.8 .6 1.8 .1 1.9 -.1 1.9 -1.5 1.2 -1.6 1 -1.4 1.2M170.6 94.4l1.8-.8 1.7 .8 .8 1.7 1.2 1.5 .3 1.9 1.4 1.3 1 1.6 -.5 1.9 -.7 1.7 -1.1 1.5M194.3 104.1l-1.6-1 -.6-1.8 -.2-1.9 -.3-1.9 -.6-1.8 -1.7-.7 -1.4-1.3 -1.9-.4 -1.9 .2 -1.7-.9 -1.9 0 -1.8 .6 -1.9-.3 -.7-1.7 -1.3-1.4M151.8 95.8l1.9 0 1.9-.1 1.8 .3 1.8-.8 1.4-1.3 .3-1.9 .2-1.9 -.8-1.7 1.5-1.2 1-1.6 1.8-.6 1.5-1.2 1.2-1.5 1.7-.7 1.6-1 1.6 1.1M185.9 103.7l.5-1.9 -.4-1.8 -.3-1.9 -1-1.6 -1.4-1.3 -1.7-.9 -1.1-1.5 -1.8-.8 -1.8-.5 -.2-1.9 1.6-1 1.9 .1 1.9 .1 1.8-.4M183.3 86.4l.2-1.9 .2-1.9 1.4-1.3 1.4-1.3 1.8-.7 1.9 .1 1.6 1M187.3 46.7l-1.8-.4 -1.6-1 -1.7-.9 -1.9-.3 -1.9 .3 -1.7 .9 -.4 1.8 -1.7 .8 -.4-1.8 -1.5-1.3M155.4 86.2l-1.2-1.4 -.8-1.8 -1.8-.1 -1.3-1.5 -1.6-1.1 -1.5-1.1 -1.5-1.1 -1.8-.7 -1.8-.4M181.5 50.7l-1.4-1.2 -1.1-1.5 -1.5-1.2 -1.9 0 -1.9 0 -1.9-.5 -1.8-.5 -1.6-1 -1.6 1 -1.8 .7 -1.8-.7M192.9 46.7l-.7 1.7 -1.2 1.5 -1.3 1.4 -.9 1.7 -1.3 1.4 -1.9 .4 -1.7 .7 -1.9 .2 -1.7-.9 -1.9-.3 -1.8-.6 -1.9 .3 -1.9-.4 -1.9 0M172.4 83.1l1.4-1.3 1.8-.4 1.5-1.3 1.5-1 1.9-.2 1.9 .2 1.9-.5 1.3-1.3 .8-1.8 .7-1.7 .6-1.8 1.6-1M148.4 47.8l-1.7 .9 -1.7 .9 .3 1.9 1.5 1.2 1.8 .3 1.6 1.1M146 42.5l-.6 1.8 -.3 1.9 1 1.6 -.4 1.9M175.2 54.3l1.3 1.4 1.7 .8 -.4 1.8 -.5 1.8 -1.9-.3 -1.8-.5 -1.8-.5 -1.9 .1M162.1 49.7l.8-1.7 1.3-1.4 1.7-.9 1.8-.5 1.9 0 1.5-1.2M162.8 68.4l-.4-1.9 -.6-1.8 -.3-1.9 .2-1.9 .5-1.8 .1-1.9 .8-1.7 .5-1.8 1.3-1.4 .6-1.9 -.7-1.7 1.5-1.2 .5-1.8M182 62l.3 1.8 .2 1.9 .3 1.9 0 1.9 -.1 1.9 1 1.6 .5 1.8 1.2 1.5 .6 1.8 .9 1.7M165.1 53.3l.8 1.7 1.8 .6 1.8-.3 1.9 .3 1.4 1.2 1.9 .2M154.2 84l1.9-.5 1.8-.3 1.9 .2 1.9 .3 1.9 .2M184.3 107.4l-1.9-.1 -1.2-1.5 -1-1.6 .5-1.8 1-1.6 .1-1.9 -1.7-.7 -1.8-.7 -1.9-.1 -1.9 .2 -1.9-.1M147.4 47.3l-.9-1.6 -1-1.6M184.8 76.2l-1.1-1.6 -.2-1.9 1.1-1.6 .3-1.8 -.2-1.9 0-1.9 .5-1.9M190.5 92.4l.9 1.6 .7 1.8M163.2 100.4l0 1.9 -1.3 1.4 0 1.9 -.7 1.8M153 56.2l.7 1.7 .9 1.7 0 1.9 -.1 1.9 -1.4 1.3 -1.3 1.4 -1.4 1.1 0 1.9 -.9 1.7 -1.2 1.4 -1.4 1.4 -1.8 .7 -1.8 .6 -1.8 .7 -1.7-.8M187.2 63.7l1.9-.5 1.9-.3 1.2-1.4 1.6-1 1.9-.4M185.6 103.9l1.7 .9 1.2 1.4 .5 1.9 .8 1.7 -.2 1.9 -1.5 1 -.3 1.9 -1.2 1.5M165.2 74.9l-.8 1.7 -.3 1.9 .3 1.9 -1 1.6 -1.8 .6 -1.9 0 -1.9-.3M169 108.4l.9-1.7 -.1-1.9 1.2-1.4 1-1.7 1.8-.6 1.6-1 1.7-.7 1.9 .5 1.8-.4 1.9-.3 1.5-1.1 1.9-.3 1.7-.9M142.9 80.7l-1.9 .3 -1.2 1.5 -1.6 .9 -1.9 .2 -1.9-.1 -1.6-1M157 70.4l-1.7-.8 -1.9-.3 -1.9 .3 -1.9-.2 -1.6 1 -1.9 .1 -1.8-.4 -1.8 .7 -1.7 .8 -1.4 1.4 -.5 1.8 -.8 1.7 -.5 1.9 -1.2 1.4 -1.4 1.3 .3 1.9M185.2 92.9l-.9-1.6 -.9-1.7 -1.5-1.2 -1.7-.8 -1.9 0 -1.8-.6 -1.6 1.1 -.5 1.8 -1 1.6 -.4 1.9 -.7 1.8 .3 1.8 1.5 1.1 1.4 1.3 1.5 1.2M179.2 68.5l1.9 .1 1.8 .6 1.9-.1 1.6 1.1 1.8-.6 1.5-1.1 1.7-.9M156.4 72.2l-1.9-.1 -1.5-1.1 -1.6-1.1 -1.1-1.5 .5-1.9 .4-1.8 0-1.9 -.3-1.9 .2-1.9M137 86.9l-1.7-.7 -1.5-1.3 -.2-1.8 -1.7-.9M167.7 66.1l1.1 1.6 1.9-.2 1.9-.5 1.8 .6 1.5 1.1 1.5 1.2 .6 1.8 -1.5 1.2 -1.5 1.2 -1.8 .6M147.5 72.4l-1.1-1.7 -.9-1.6 .3-1.8 .2-1.9 .4-1.9 .8-1.7 -.8-1.7 -1.1-1.6 .7-1.7M184.7 108l-1.7-.9 -.6-1.8 1.5-1.3 1.8 .4 1.9 .1 1.9 .1 .6-1.8 1.2-1.5 .6-1.8M154 76.9l.8-1.7 -1.7-.9 -1.8-.6 -1.5-1.1 -.7-1.8 -1.4-1.2 -1.5-1.2 -1.1-1.5 -1.5-1.2 -1-1.6M147.8 89.7l-1.9-.1 -1.9-.1 -1.5 1.1 -1.2 1.5 .6 1.8 1.9 .3 .4 1.8M176 49.3l1.4 1.4 .5 1.8 .8 1.7 1.2 1.5 .9 1.7M175 93.7l-1.7 .7 -1.9 0 -1.9 .2 -1.8 .8 -1.7-.8 -1.9 .1 -1.7-.8 -1.5-1.1 -1-1.6 -1.5-1.3 -1.6-1M165.3 104.7l-1.8-.7 -1.8 .3 -1.3 1.4M134.1 81.2l-1.8 .7 -.6 1.8 -.3 1.9 -.2 1.9 .2 1.9M185.5 115.9l1.6-1 0-1.9 .7-1.8 -.8-1.7 -1.5-1.3 -1.7-.6 -1.4-1.4 .5-1.8 0-1.9 -.2-1.9 -.6-1.8 -.8-1.7 -.9-1.7 1.3-1.3 .5-1.8M180.5 61.7l1.9 .3 1.6-1.1 1.8 .3 1.9 .5 1.8 .6 1.6 .9 1.4 1.4M146 91.3l-1.9-.2 -1.9 0 -1.9-.4 -1.2-1.4 -.7-1.8 -.2-1.9 .2-1.9M144.2 62.6l1.5 1.2 1.6-1.1 .2-1.9 .8-1.7 .4-1.8 1.8-.3M187.4 99.2l-1.1 1.5 -.7 1.8 .7 1.7 .5 1.9 -.2 1.8 .5 1.9M165.1 70.5l1.2-1.4 1-1.6 .8-1.8 1.8 .4 1.9-.3 1.9-.2 1.9-.4 1.9-.1M185.7 77.4l-1.9 0 -1.8-.2 -1.9-.1 -1 1.7 -.5 1.8 -1.1 1.6 -.1 1.9 -1.3 1.3 -.9 1.7 -.1 1.9 .6 1.8 .6 1.8M162.1 103.6l.6 1.8 -.8 1.7 -1.3 1.4M148.9 49.9l.2 1.9 .6 1.8 .7 1.8 .6 1.8 .4 1.8 1.1 1.6 .5 1.8 1.5 1.2 1.9 .2 1.7-.8 1.9 .5 1.1 1.6 1.5 1.2 -.3 1.8M185.4 94.8l1.4-1.2 .2-1.9 -1.5-1.2 -.8-1.7 -.6-1.9 0-1.9 .7-1.7 .2-1.9 -.5-1.8 -1.3-1.5 -1.3-1.3M180 107.9l.6 1.8 1.5 1.2 1.6 1 1.6-.9 1.7-.9 1.4 1.2 1.2 1.5 1.2 1.5 .9 1.7 .8 1.7M164.7 57.7l-.6-1.8 -1.5-1.3 -.9-1.6 -1.2-1.5 -1.4-1.3 -1-1.6 -.1-1.9 -1.9-.1 -1.8-.6M182.7 109.7l.4 1.9 -.7 1.8M182.9 73.3l-1.1-1.5 -1-1.6 0-1.9 -1.3-1.4 -1.8-.3 -1.9-.3 -1.5 1.2 -.6 1.8 0 1.9 0 1.9 .9 1.7M188.9 113.1l.1-1.9 -1-1.6 -1.8-.6 -1.6-1 -1.6-1 -.6-1.8 -.4-1.8 -.6-1.8M172.1 91.1l1.6-1 .1-1.9 -1.2-1.4 -.7-1.8 -.2-1.9 -.4-1.8 -.5-1.9 -.4-1.8 -.7-1.8 .3-1.9 0-1.9 -1.1-1.5M186.1 95.6l1.1 1.6 1.3 1.4 1.2 1.5 1.2 1.4 1.4 1.3M161.6 73.6l1.9 .3 1.8 .5 1.9 .1 1.9 .3 1.5 1.1 1.8 .7 1.6 1 .7 1.7 1 1.7 1.7 .9 1.8-.3 1.9-.5 1.8 .2M174.1 61.3l.9-1.7 -.8-1.7 -.1-1.9 -.2-1.9 .4-1.9 -.7-1.7 -.8-1.8M139.6 85.4l-.8 1.7 .2 1.9M153.6 80.9l-1.3-1.3 -1.9-.4 -1.1-1.5 -1-1.6 -.9-1.7 -1.8-.6 -1.8-.6 -1.6-1 -1.9 .1 -1.9 .5 -1.7 .7M156.6 87.4l1.6 1 1.9 0 1.3-1.3 1-1.6 1-1.7M167.5 57.5l1.3-1.4 .9-1.7 .3-1.9 0-1.9 0-1.9 -.9-1.6 -.7-1.8 -1.7-.8M162.3 47.8l-1.9-.3 -1.8-.8 -1.8 .5 -1.8 .5 -1.8 .7 -1.2 1.5 .6 1.8 -.5 1.8 -.1 1.9 -1.9 0M163.9 74l.8-1.7 1.4-1.3 .5-1.8 1.4-1.3 1.4-1.3 -.1-1.9 -1-1.6 -.3-1.9 -1-1.6 -1-1.6 1.3-1.4M189.3 111l.6 1.8 1.4 1.3 1.3 1.4M190.1 108.2l.4-1.8 1.8-.7 1.8 .5M158.7 75.7l.6-1.8 1.7-.9 1.3-1.4 1.6-1 .9-1.7M154.8 93.9l1.8 .4 1.9-.2 .5 1.9 1.9 .3 .4 1.8 0 1.9 .3 1.9 .3 1.9 .4 1.8 .8 1.7 1.9 .3 1.9-.2M187.6 52.6l-1.8 .8 -1.5 1 -1.8 .6 -1-1.6 .5-1.8 .9-1.7 -.6-1.8 -1.2-1.6 -.2-1.9M173.6 93.5l1.1-1.5 1.4-1.3 1.4-1.3 .7-1.8 1.5-1.1 1.9-.3 1.9 .1 1.7-.7 1.3-1.5 -.6-1.8 -.3-1.8 .2-1.9 -.8-1.8M172.5 54.1l1.9-.3 1.7-.6 1.9-.5 1.2 1.4 1 1.6 .9 1.7 1.8 .7M154.1 67.5l-1.9-.4 -1.5-1.1 -1.9-.4 -1.8-.3 -.6 1.8 1.4 1.2 1.3 1.5 .4 1.8 0 1.9 -.1 1.9 -1 1.6M141.6 90.2l1.9 .1 1.9-.4 1.8-.5 1.7 .7 1.3 1.5 1.8 .5 1.8 .5 1.9 .3 1.9 .3 1.9 .2 1.6-.9 1.7-.8 .2-1.9M145.1 89l-1.4 1.2 -1.7-1 -.9-1.6 -1.9 0 -1.9-.1 -1.4-1.3 -1.7-.8 -1.4-1.2 -1.4-1.4 -1.9-.1 -1.8 .6M158.1 84.7l-1-1.6 -1.6-1 -1.9-.1 -1.8 .7 -1.3 1.4 .9 1.6 0 1.9M173.9 104.7l0 1.9 -.8 1.7 .6 1.8 1.2 1.5 1.6-1 1.6-.9 .7-1.8 1.5-1.1 1.9 .3 1.8 .5 1.9 .1M199.2 52.5l-1.9-.2 -1.9 0 -1.7 .8 -1.9 0 -1.9-.2 -1.9 .2 -1.5-1.2 -.3-1.9 1.4-1.2 1.5-1.2 .9-1.7 -.6-1.8M193 108.9l-1.9 .1 -.8 1.7 -1 1.7 -1.8 .3 -1.6-1 -1.2-1.5 -.6-1.8M194.7 54.8l-1.7-.7 -1.1 1.6 -.2 1.9 -1.6 1 -1.9 .2 -1.7 .7 -1.5 1.2 -.2 1.9 -1 1.6 .2 1.9 .2 1.9 -.6 1.8 0 1.9M191.5 111.8l.2 1.9 -1.6 1.1 -1.7 .8 -1.8 .6 -1.9-.3 -1.5-1.1 -1.5-1.2 -1.6-1M176.4 105.1l-1.5-1.1 -1.1-1.6 -.7-1.8 -1-1.5 .4-1.9 1.1-1.5 1.9-.5 1.9 .4 1.6 1 1.3 1.4 1.9 .3 1.4-1.3M153.9 76.4l1.7 .8 .9 1.7 1.5 1.1 1.3 1.4 1.7 .7 1.7 .9 .8 1.7 1.8 .5 1.4 1.3 1 1.7M156.2 76l.5 1.8 1.2 1.4 1.5 1.3 1.6 .9 1.5 1.2 1.4 1.4 1.8 .4 1.7 .9 1.9-.2 1.9-.1 1.9 0 1.2 1.5 1.7 .8 1.9-.1 1.9 0M151.2 50.1l-.5-1.8 .1-1.9 .6-1.8 1.4-1.3 1.8-.8 1.9-.1 1.8 .3M192.4 102.6l-1.2-1.4 -1.3-1.4 -.2-1.9 -.9-1.7 -.1-1.9 -.9-1.7 -.6-1.7 -.7-1.8 .4-1.9 -1-1.5 -1.9-.5 -1.1-1.6 -.7-1.7 .9-1.7M158.9 73.3l.6 1.8 1.1 1.5 .4 1.9 .5 1.8 1.2 1.5 .5 1.8 1.8 .6 1.9-.5 1.7 .8 1.8 .4 1.9 .1 1.9 .5 1.2 1.4 .9 1.7 1.5 1M149.1 73.9l1.3 1.3 1.9 .4 1.8-.4 1.7-.9 1.7-.7 1.6-1.1 1.9 0 .2-1.9 1.1-1.6 .5-1.8 .2-1.9 .8-1.7 .9-1.7 0-1.9 1.4-1.3M194 59.2l1.1-1.5 .6-1.8 1.7-.9 1.9-.1 1.9 .3M163.8 100.4l.1 1.9 .6 1.8 .5 1.8 .3 1.9 .5 1.8 .5 1.8 .6 1.8M143.1 76.1l1.4 1.2 1.8 .7 1.7 .8 1.6 1 1.4-1.3 1.9-.1 1.6-1M187.5 101.6l.7 1.8 .8 1.7 1.8 .6 1.9 .3M192.2 103.2l.2-1.9 -1.1-1.5 -1.1-1.6 -1-1.6 -.3-1.9 -1.2-1.5 -1.7-.7 -1.9 .2 -1.9 .1M167.8 100.8l-1.9 .3 -1.7-.8 -1.8-.6 -1.5-1.1 -1.4-1.4 -1.9-.2 -1.9-.3M138 78.2l1.8-.4 1.6 1 .7 1.8 -.6 1.8 -1.1 1.6 .3 1.9 -.2 1.9 .5 1.8 1.1 1.5" fill="none" stroke="#1a1aff" stroke-width="0.24" stroke-opacity="0.62" stroke-linejoin="round"/>
<ellipse cx="195.6" cy="55.3" rx="2.6" ry="1.1" fill="#0a0aff"/>
<ellipse cx="192" cy="62" rx="2.0" ry="1.5" fill="#0a0aff"/>
<ellipse cx="188.9" cy="76.6" rx="1.5" ry="2.9" fill="#0a0aff"/>
<ellipse cx="186.4" cy="84.1" rx="1.1" ry="1.3" fill="#0a0aff"/>
<ellipse cx="165.4" cy="50.6" rx="2.6" ry="1.3" fill="#0a0aff"/>
<ellipse cx="173" cy="92.9" rx="1.2" ry="0.8" fill="#0a0aff"/>
<ellipse cx="132.7" cy="82.5" rx="1.0" ry="1.2" fill="#0a0aff"/>
<ellipse cx="141.1" cy="74.6" rx="0.9" ry="0.9" fill="#0a0aff"/>
</g>
<rect x="110.5" y="22.4" width="104.19999999999999" height="103.69999999999999" fill="none" stroke="#222" stroke-width="0.8"/>
<clipPath id="ai"><rect x="518.4" y="22.8" width="120.80000000000007" height="103.5"/></clipPath>
<g clip-path="url(#ai)">
<rect x="518.4" y="22.8" width="120.80000000000007" height="103.5" fill="#6fa3cc"/>
<g filter="url(#bl2)">
<path d="M524.6 22.8 L530.3 28.6 L528.4 40.1 L522.6 47.8 L519.7 55.5 L520.3 72.9 L526.5 86.4 L532.3 99.9 L543.8 107.6 L551.5 117.2 L554.4 126.8 L640.2 126.8 L640.2 67.5 L628.6 58.4 L620.9 55.5 L617.1 45.9 L611.3 38.2 L599.7 35.3 L590.1 28.6 L578.5 22.8Z" fill="#d6e4ee" stroke="#d6e4ee" stroke-width="9" stroke-linejoin="round"/>
</g>
<g filter="url(#bl1)">
<path d="M524.6 22.8 L530.3 28.6 L528.4 40.1 L522.6 47.8 L519.7 55.5 L520.3 72.9 L526.5 86.4 L532.3 99.9 L543.8 107.6 L551.5 117.2 L554.4 126.8 L640.2 126.8 L640.2 67.5 L628.6 58.4 L620.9 55.5 L617.1 45.9 L611.3 38.2 L599.7 35.3 L590.1 28.6 L578.5 22.8Z" fill="#88b894"/>
<path d="M541.9 22.8 L553.5 22.8 L541.9 34.3 L534.2 45.9 L528.4 55.5 L524.6 69 L530.3 84.5 L538.1 97.9 L549.6 105.6 L557.3 113.4 L565 121.1 L570.8 126.8 L554.4 126.8 L551.5 117.2 L543.8 107.6 L532.3 99.9 L526.5 86.4 L520.3 72.9 L519.7 55.5 L524.6 45.9 L532.3 34.3Z" fill="#d2c3ae"/>
<path d="M550.6 107.6 L559.3 113.4 L568.9 124.9 L570.8 126.8 L556.4 126.8 L553.5 117.2Z" fill="#d9d6cf"/>
<path d="M561.2 33.4 L570.8 32.4 L582.4 35.3 L586.2 40.1 L576.6 43 L567 44 L562.1 39.2Z" fill="#c9c4a6"/>
<path d="M613.2 90.2 L640.2 80.6 L640.2 126.8 L586.2 126.8 L593.9 109.5 L609.4 101.8Z" fill="#a4c39f"/>
<path d="M622.8 101.8 L640.2 97.9 L640.2 124.9 L620.9 124.9 L617.1 113.4Z" fill="#b7c4a1"/>
<path d="M578.5 107.6 L593.9 105.6 L597.8 117.2 L586.2 124.9 L576.6 119.1Z" fill="#b9c5a5"/>
</g>
<path d="M529.4 49.8 L540 48.4 L551.5 50.7 L561.2 47.8 L570.8 45.9 L572.7 42.1 L586.2 39.7 L587.2 47.8 L593.9 52.7 L603.6 48.8 L613.2 55.5 L618 58.4 L614.2 65.2 L615.1 74.8 L617.5 80.6 L611.3 94.1 L607.4 101.8 L597.8 103.1 L590.1 104.1 L586.2 96 L584.3 107.6 L580.5 113.4 L583.3 117.2 L576.6 124.3 L568.9 121.1 L565 113.4 L556.4 107.6 L547.7 101.8 L540 96 L532.3 84.5 L526.5 71 L524.6 59.4Z" fill="#3048ff" fill-opacity="0.20" filter="url(#bl1)"/>
<path d="M566.8 87.1l.2-1.9 .7-1.8 1.3-1.3 1.9 .1 1.5-1.1 1.6-1 1.8-.5 1.9 .5 1.4 1.2 .7 1.7 -.5 1.9 .5 1.8M580.2 73.3l-1.4 1.2 -.4 1.9 -.5 1.8 -.3 1.9 -1.8 .6 -1.8 .2 -1.3 1.5 -.3 1.8 .4 1.9 -.8 1.7 -1.1 1.6 -1.6 1 -1.5 1.1 -1.7 1M562.6 86.4l1.6-1 1-1.6 1.1-1.6 1.6-.9 1.8 .6 1.4 1.3M583.4 105.6l-.2 1.9 -.3 1.9M570.1 97.4l-.6 1.9 -1 1.5 -1.9 .3 -1.8-.8 -1-1.5 -.3-1.9 .4-1.9 .6-1.8 1.3-1.4 1.9 .3 1.9 0 1.7-.8 1.5 1.2M544.3 73.1l1.7 .8 .3 1.8 .2 1.9 -.7 1.8 -.7 1.8 .1 1.9 .3 1.9 -.2 1.9 -1.2 1.4 -1.6 .9 -1.7 .9 -1.9-.5 -1.8 .2M614.2 80.7l-1.6-1.1 -1.2-1.5 .4-1.9 -.7-1.7 -.8-1.8 0-1.9 -.2-1.9 -1.9-.3 -1.6-1 .6-1.9 1.4-1.2M564 48.5l1.8-.5 1.9-.3 1.5 1.1 1.5 1.1 -.1 1.9 .6 1.8 1 1.6 .3 1.9 -1.1 1.5M531 59.1l-1.9-.1 -1.8 .5 -1.9-.2M579.2 51.6l1.4-1.3 .5-1.8 .8-1.8 .6-1.8 .8-1.7M580.5 46.1l1.7-.9 .2 1.9 -.9 1.7 -1.4 1.3 -1.2 1.4 .8 1.7 1 1.7 1.9 .3 1.6 .9M557.4 97.7l-.4-1.8 -.2-1.9 -.3-1.9 -.4-1.9 -.5-1.8 -.9-1.7 -1.6-1 -1.3-1.4 -1.3-1.4 -1-1.6 -.6-1.8M548.6 75l.2 1.8 -.2 1.9 1.1 1.6 1.2 1.4 1.8 .7 1.8 .6 1.8 .8 1.7 .8 1.4 1.3 1.5 1.2 1.3 1.4 1.9 0 .7-1.7 1-1.7M559 51.9l-.6-1.9 1.3-1.3M607.9 67.4l-1.6-1 -1.9 .3 -1.2 1.4 -1.3 1.4 -.7 1.8 -.8 1.7 -1.4 1.3 -1.7 .8M537.1 69.4l1.3-1.4 .8-1.7 -1.5-1.2 -1.6-1.1 -1.1-1.6M566.7 63l1.2 1.4 .5 1.9 1.2 1.5 1.9 .2 1.7 1 1.8-.2 1.7-1 1.7 .7 1.9 .5 1 1.6 1.3 1.3M557.7 94.7l-1.9 0 -1.8 .5 -1.9 .2 -1.9 .1 -1.7 .9 -1.8 .5 -.6 1.8M534.8 85l.2-1.9 -.2-1.8 .2-1.9 1.2-1.5 1.2-1.4 1.4-1.4 -.1-1.8 .1-1.9 .6-1.9 1.2-1.5M556.9 98.7l-1.7-.8 -1.7-.8 -1.2-1.6 -1.8-.4 -1.8-.7 -1.2-1.4 -.4-1.9 -1.1-1.6 -1.5-1.1 -1.4-1.3 -1.4-1.3 -1.3-1.3 -1.9 0 -1.9 .4M571.5 109.1l-.6 1.7 -.2 1.9 .2 1.9 1.8 .9 1.8-.2 1.4-1.3 1.7-1 1.5 1.2 -1.1 1.6 -.7 1.7M574.8 106.6l-.6 1.9 -.9 1.6 .3 1.9 -.2 1.9 -.4 1.9M540.7 68.1l-.7-1.8 -.9 1.7 -1.5 1.1 -1.9 .3 -1.7 .9 -1.4 1.3 -.5 1.8M606.8 88.7l-1.6-.9 -1.4-1.4 -.7-1.7 -1.7-1 -1.2-1.4 -.3-1.9 .4-1.9 0-1.9M605.9 91.3l-1.6 1 -1.5 1.3 -.9 1.6 -.7 1.8 .5 1.8 .7 1.7 .9 1.7M615.2 83.4l-1.5 1.2 -1.6 1 -1.8 .7 -1.8-.6 -.4-1.8 -1.9-.4 -1.6-.9 -1.5-1.1 -1.9-.3 -1.9-.3 -1.3-1.3 -1.9-.3 -.8-1.8 1.3-1.4M573.6 48.9l-1 1.6 -1.4 1.3 -1.3 1.4 -1.2 1.5 -1.1 1.5M542.7 59l-.8-1.7 -1.5-1.3 -1.9-.1 -1.9-.1 -1.2 1.5 -.3 1.9 .8 1.7 1.7 .9 1.9 .3 1.1-1.5M601.7 91.8l-1.9 .4 -1.4 1.2 -1.8 .5 -1.3 1.5 -1.5 1.1 -1.1 1.5 -1.1 1.6 .8 1.8 .1 1.9M575.3 99.4l-.5 1.8 -1.2 1.5 -.1 1.9 -1.4 1.2 -.5 1.9M583.9 68.8l1.5 1.1 1.2 1.5 1.9 .5 .7 1.7 .5 1.9 1.7 .7 1.8-.6 1.4-1.3M535.3 54.3l1 1.7 .6 1.8 .7 1.7 -1.3 1.3 -1.9 .4 -.8 1.7 -1.1 1.6 -.7 1.7 -1.5 1.2M572.7 76.1l-1.6-.9 -1.8-.8 -1.5-1 -.9-1.7 -1.3-1.4M577.8 55.9l-1.4-1.3 -1.2-1.5 -1.7-.8 -.6-1.8 -1.3-1.4 -1.1-1.5 -1.9 .1 -1 1.6 -1.8 .7 -1.9-.5M562.5 100.9l1.9-.3 1.8-.4 1.9 0 .5 1.9 1.9 .4 1.8 .7 1.8 .4 1.9 .2 .2 1.8 .5 1.9M562.5 55.1l1.3 1.5 -.1 1.9 -.2 1.9 .4 1.8 1.7 .9 1.6 1 1.6 1 1.9-.2 1.5-1.2 1.4-1.2 1.8-.4 1.9 .4 1.8 .5M576 82.7l1.9-.1 1.8-.5 1-1.6 1.4-1.3 .1-1.9 -.4-1.9 .6-1.8 .4-1.9 1.1-1.4 .9-1.7 1.9-.1 1.9-.4 1-1.6 .8-1.7M564.7 81.6l.4 1.8 1 1.7 1.2 1.5 -.2 1.8 .6 1.8 .9 1.7 1.1 1.6 1.6 .9 1.1 1.6 1.1 1.6 .5 1.8M595.1 72.7l1.6-1 1 1.6 .1 1.9 -.3 1.9 -.1 1.9 -1 1.6 -.5 1.9 1.8 .6 1.7 1 1.5 1 .7 1.8M600.9 90.8l1.7 .9 1.5 1.1 1.1 1.5 1.6 1.1 1.3 1.4 .5 1.8M580.7 93.9l.1-1.9 .2-1.9 -1-1.7 1.4-1.3 1.4-1.3 1.3-1.4 .7-1.7 1.8-.7 1.7 .8 1.6 1.1M558.1 62.7l-1.7-.7 -1.8-.6 -1.9 .1 -1.9 .2 -1.8-.5 -1.2-1.5 -1.4-1.3 -1.7-.9 -1.9-.4 -1.9 .2 -1.3 1.4 -1.7 .7 -1.8 .7 -1.8 .4M545.4 63.3l.1-1.9 -1.2-1.5 -1.5-1.1 -1.9-.5 -1.5-1.1 -1.3-1.4 -.6-1.8M566.1 103l-.2 1.9 .9 1.7 -.2 1.8 -1.1 1.6 -1.1 1.6M610.6 75.9l-.8 1.7 0 1.9 -.3 1.9 .9 1.7 1 1.6 1.9 .1M567.9 109.4l1.8-.7 1.8-.3 1.6 1.1 1 1.6 .6 1.8 .8 1.7 1.8 .6 1.9 .4 1.6 .9M558 101.2l-.9 1.7 -1.6 1 0 1.9 1.1 1.5 1.4 1.3 1.8 .6M567.4 58.5l1.9-.4 1.8 .6 1.9-.1 1.7 .7 1.9-.1 1.9 .5 1.6 .9 .8 1.8 .3 1.9 1.5 1.2 .8 1.7 1.7 .9 1.2 1.4M606.9 63.6l1.1 1.5 .5 1.8 .4 1.9 .4 1.9 .2 1.8 -.4 1.9 .5 1.8 1.2 1.5 1.5 1.2 1.9 .3 1.9 .1M596.1 83.9l.9-1.7 -.2-1.9 1.2-1.5 1-1.6 1.4-1.3 -.4-1.9 -.2-1.9 1-1.5 1.5-1.2 1.9 .4 1.7 .9M599.5 75.4l-1.6 .9 -1.9 .3 -1.4 1.3 -.5 1.8 0 1.9 -.8 1.7 -.1 1.9M607.4 79.6l-.4-1.8 -1.3-1.4 -1.9-.1 -1.9-.2 -1.8-.6 -1.8 .8 -1.8 .4 -1.9 .1 -1.9 .4M534.7 55.4l1.3 1.4 1.6 .9 1.9-.2 1.9-.2 1.8 .6 1.9-.1 .9 1.7 1.8 .7M576 111.9l-1.8-.6 -1.9-.1 -.6 1.8 .1 1.9 .9 1.7 .8 1.7 -1.5 1.2 -1.8 .6M573.9 83.4l.6 1.8 1.1 1.5 1.5 1.2 .6 1.8 .4 1.8M559.3 107.1l.3-1.8 -.4-1.9 -.4-1.8 -.9-1.7 .7-1.8 -.4-1.9 .8-1.7 1.6-.9 1.1-1.6 .3-1.9 1.3-1.3 1.7-.9 1.8-.7 1.9 0M536.6 69.5l-.7-1.8 .1-1.9 -1.8-.5 -1.7-.9 -1.7 .7 -1.1 1.6 -.5 1.8 -1.8 .7 -.3 1.9M544 85.7l-.1-1.9 -1-1.6 -1.3-1.4 -.5-1.8 -1.7 .8 -.8 1.7 -.7 1.8M536 77.4l-.5-1.8 -.4-1.9 1-1.6 .8-1.8 .8-1.7 1.9-.2 1.8-.4 1.9 .1 1.4 1.3 1.6 1.1 .8 1.7 1.4 1.2M556.1 72.9l-1.1-1.5 -.8-1.7 .1-1.9 .8-1.8 1.2-1.4 1.1-1.5 1.8-.6 1.5-1.2 .7-1.8M541.4 73.8l-.5-1.9 -.5-1.8 -1-1.6 1.6-1 1.9-.3 .9-1.7 1.5-1.2 .7-1.8 1.7-.7 1.9-.2 1.9-.4 1.8-.3 1.9 .3 1.9-.2M610.7 92.4l-1.3-1.4 -1.8-.6 -.8 1.7 -1.1 1.5 .2 1.9 .5 1.9 .5 1.8 1 1.6M585.4 48.7l-1 1.6 -1.6 1.1 -1.9-.2 -1.6-1.1 -1.5-1.1 -.6-1.8 -.7-1.7 0-1.9 -1-1.7M578.2 56.5l1.7-1 1.5-1 .9-1.7 -.6-1.8 .1-1.9 1-1.6 .3-1.9 .7-1.8M566.8 101.5l1.3 1.4 1.6 1.1 1.8 .4 1.9 .2 .1 1.9 1.6 1 1.2 1.5 1.9 .4 1.1 1.5 -.2 1.9 .3 1.9 -1.5 1.1 -1.6 1 -1.9-.2M602.2 55.4l-1.8 .5 -1.9 .1 -1.9-.3 -.9 1.6 -1.4 1.4 -1.4 1.3M609.3 91.8l-.7-1.8 .2-1.9 1.3-1.4 1.4-1.1 1.9-.5M556 50.9l-.6 1.8 -1.9 .5 -1.9 .1 -1.8 .3 -.8 1.7 .1 1.9 -.5 1.8 -1.2 1.5 -1.6 1 -1.8-.7M577.4 74.2l.9 1.6 0 1.9 1.4 1.2 1.9 .4 1.7 .9 1.5-1.1 1-1.6 -.3-1.9 -.5-1.8 -1.9-.4 -1.4-1.3 -1.6-1.1M593 90.3l.3-1.9 1.6-1 .5-1.8 .6-1.8 1.8-.5 1.9-.3 1.1 1.6 0 1.9 .2 1.9M575.5 95.3l1.7 .9 1.6 1 1.2 1.4 1.7 .9 1.9-.3 1.7-.7M574.8 120.2l1.9-.3 1.9-.3 1.8-.5M566.6 84.6l.3 1.9 .2 1.9 -.7 1.8 .2 1.9 0 1.8 .1 1.9 -.3 1.9 -.6 1.8 1.1 1.6 .6 1.8 1.1 1.5 .1 1.9 1.2 1.5 .5 1.8M589.8 87.1l-1.8-.7 -1.3-1.4 .5-1.8 1-1.6 1-1.6 1-1.6 .1-1.9 1.6-1.1M591.2 51.2l-1.6-1.1 -1.8-.5 -1.7-.9 -1.5-1.1 -1.7-.8 -1.9-.5 -1.9 .2 -1.8 .5 -1.2 1.5 -1 1.6 -1.6 1.1 -1.7 .7M535.4 83.4l1.3-1.3 1.1-1.6 .3-1.9 .1-1.9 -.3-1.9 .8-1.7 .7-1.8M573.9 84.6l1.9-.5 1.5-1.2 .5-1.8 1.1-1.5 1.9-.3 .5 1.9 .3 1.8 -.3 1.9 -.3 1.9 -.1 1.9 -.2 1.9 .4 1.8 -.8 1.8 .1 1.9M554.5 80.6l1.3-1.4 1.2-1.5 .7-1.7 -.4-1.9 .2-1.9 .1-1.9 .1-1.9 -.4-1.8 -1.1-1.6M565.7 105.1l0-1.9 -.1-1.9 1.1-1.5 1.6-.9 .9-1.7 .8-1.7 1.4-1.3 1.6-1M565.2 77.1l-1.8 .8 -1.8-.3 -1.7 1 -1.3 1.3 -1.5 1.3M538.2 66.1l1.9-.3 1.9 .5 1.6-1 1.7-.7 .5-1.9 -.9-1.6 -1-1.6 -1.6-1 -1.7-.9 -1.7-.9M586.2 90.2l-1.8-.7 -1.9 .1 -1.9-.3 -1.6-.9 .6-1.8 1.6-1.1 1.7-.8 1.8-.6 -.6-1.8 0-1.8M537.8 73l-1.3 1.3 -1.7-1 -1.9 .1 -1.7 .7 -.7 1.7M604.5 75.1l1.7 .8 1.9 .2 1.7 .9 .7 1.8 .8 1.7 -.2 1.9 -.5 1.8 -.3 1.9M556.6 98.5l1.1-1.6 1.4-1.2 1.3-1.5 1.8 0 1-1.7 1.2-1.5 1.8-.7 1.8 .3 1.8 .6 1.8 .7 .5 1.9 0 1.9 1.1 1.5 1.8 .7M595.6 79.7l-1.8-.7 -1.6-1.1 -1.8-.6 -1.8-.3 -1.8-.6 -1.9-.2 -1.8 .6M541.6 61.9l-1.4 1.3 -1.9 .4 -1.6-.9 0-1.9 -1.1-1.6 .3-1.9 -.1-1.9 -1.8-.6M587.1 65.3l-1.8-.5 -1.6-1 -1.6-1.1 -1.6-.9 -1.7-.8 -1.9-.5 -1.4-1.3 -1.7-.8 -1.7-.7 -1.9-.6 -1.8 .3 -1.9 .5M538.3 57.1l1.1 1.5 1.7 .9 1.3 1.4 .9 1.7 1.3 1.3 1.6 1.2 .8 1.7 .7 1.7 .5 1.9 -1 1.6 -1.1 1.6 .5 1.8M544.8 98l-1.5-1.1 -1.5-1.2 -.1-1.9 .7-1.8 1.3-1.4 1-1.6 1.2-1.5 .7-1.8 1.1-1.5 .4-1.8M539.4 73.8l-1.9 .3 -1.5 1.1 -1.9 0 -1.2 1.4 -1.1 1.6 -1.9 .2M569.3 61.5l1.1-1.6 .9-1.6 .1-1.9 .8-1.8 1.5-1.1 1.8-.8 1.8 .4 1.8 .7 1.9-.2M555 61.2l1.9-.3 1.7-.8 1.9 .1 1.9-.4 1.4 1.3 .4 1.8 1.3 1.4 1.7 .8 1.4 1.4 1.1 1.5M590.7 58.1l1.7 .7 1.9 0 1.8-.8 1.3-1.4 1.6-1M572 65.8l-1.5 1.2 -1.8 .7 -1.8 .5 -1.6-1 -1.7-1M575.4 73.1l.1 1.9 -.9 1.6 .4 1.9 -1.1 1.5 -1.7 .8 -1.9-.4 -1.7 .7 -1.9 .5 -1.5 1.2 -1.6 1 -1.6 .9 -1.8 .7M561.6 53l1.2 1.4 .6 1.8 -.6 1.8 .6 1.8 .7 1.8 1.1 1.5 .5 1.8M594.6 84.9l1.1 1.5 0 1.9 -1.4 1.4 -.6 1.8 -1.9 0 -.8 1.8 -1.4 1.2 .3 1.9M572.5 97.2l1 1.6 1.9 .3 1.6 1 1.4 1.3 1.8-.6 1.8-.6 1.1-1.6 1.7-.8M555.1 68l1.5-1.2 1.9-.5 1.1-1.5 -.2-1.9 .5-1.8 -.8-1.8 -1.7-.7 -1.7-.9 -1.9-.4 -1.8 .7 -1.8-.4 -1.9-.5 -1.5-1.1 -.5-1.8M563.8 93.2l-1.6 1 -1.9-.4 -1.6-1 -1.6-1.1 -1.4-1.2 -1.6-1 -.3-1.9M575.3 80.6l.5 1.8 -.4 1.9 .2 1.9 .7 1.8 .9 1.7 1.6 .9 1.1 1.6 0 1.9 .4 1.9M565.9 110.3l-1.9 0 -1.7-.8 -1.9-.1 -1.5-1.2 .1-1.9 0-1.9 1.2-1.5 1-1.6 1.8-.8M543.4 86.4l-.3-1.9 .6-1.8 .5-1.8 .8-1.7 1.2-1.5 1.9-.5 1.9 .2M605.6 80.7l-1.6 1 -1.5 1.2 -1.6 1 -.4 1.9 .1 1.9 .6 1.8 1.1 1.5 -.6 1.8 0 1.9 -1 1.6 -.9 1.6 -1.6 1.1 -.4 1.8M540.3 49.8l.8 1.7 .6 1.8 -.5 1.9 -.9 1.6 -1.2 1.6 -.9 1.6 .1 1.9 -1 1.6 -1.1 1.5 -1.6 1.1M611 81.6l-1.4 1.3 .1 1.9 -.5 1.9 -.4 1.8 -1.2 1.5 -1.1 1.6 -.8 1.7 -.1 1.9 -.2 1.8 -.2 1.9 .5 1.9M560.9 71l-1.6-1 -1.9-.3 -1.9-.1 -1.9-.5 -1.8 .4 -1.4 1.3 -1.3 1.4 -1.7 .8 -1.8 .7 -1.8 .4M536.8 65.5l.1 1.9 -.3 1.9 .3 1.8 -.5 1.9 -1.5 1.1 -1.6 1.1 -1 1.6 -1.4 1.2 .8 1.7 1.4 1.4M554.6 103.5l1.5-1 1.9 0 1.9 .2 1.5 1.2 1.6 1 1.9 .4 1.8 .3 1.2 1.5 .3 1.9 .6 1.8M541.7 70l1.9-.4 1.1-1.5 1.3-1.4 1.1-1.5 .6-1.8 -.2-1.9 -1.4-1.3M593.6 102.7l-1.9 .1 -1.6 1M546.1 90.6l-1-1.7 -1.4-1.2 -1.8-.6 -1.8-.8 -1.5-1.1 -1.5-1.1 -1.8-.7 -1.1-1.5 -1.4-1.3 -.8-1.8 -1.2-1.4 -1.5-1.1M534.9 55.6l1.8-.7 1.9 .3 1.4-1.3 -1.5-1.2 -1.6-.9 -.1-1.9M591.1 61l.7-1.8 .9-1.7 -.2-1.9 .3-1.9M534.6 77l-.1-1.9 .9-1.6 1.4-1.3 1.8 .5 1.5 1.2 1.3 1.4 1.3 1.4 -.4 1.9M541.2 68l1.4-1.4 1.5-1.2 1.1-1.5 1.5-1.2 1.9-.3 1.8 .5 1.8-.7 1.9-.3M592.6 56.4l-1.2-1.5 -1.8-.4 -1.2-1.5 -1.6-1 -1.7 .8 -1.8-.7 -1.9-.1 -1.9-.3 -1.6-.9 -1.6-1 -1.9-.4M578.8 43.2l-1.4 1.2 -1.1 1.6 -.7 1.8 -1.2 1.5 -1.9 .1 -1.9 .2 -1.9 .2 -1.5 1.2 -1.2 1.4M562.8 78.4l-1.7 .8 -1.9-.5 -1.8-.6 -.9-1.6 -1.3-1.4 .6-1.8M587.8 78.2l1.9-.4 1.8 .5 1.7 .9 .6 1.8 1.2 1.4 .6 1.8 1.6 1 1.9 .3 1.9 .2 1.2 1.4 -.1 1.9M580 113l-1.5 1.2 -.7 1.7 -1.8 .7 -1.9-.2 -1.6 .9 -1.4 1.3 -1.3 1.4M558.5 71.4l-.5-1.8 1.2-1.4 1.1-1.6 1.8-.7 1.1-1.5 1.3-1.4 1.5-1.2 1.8-.6 1.8 .4 1.6-1M530.3 58.5l1.8 .5 1.9-.3 1.9 .1 1.8-.4 1.9-.6 -.5 1.9 -1.6 1 -.9 1.6 .6 1.8 -.5 1.9 0 1.9M579.2 81.8l-.4-1.8 .6-1.8 1.2-1.6 1.3-1.3 .7-1.8 -.5-1.8 -.6-1.8 -1.2-1.5 -.7-1.7 -1.8-.7 -1.8-.8 -1.8-.2 -1.9-.1M557.4 85.1l-1.9-.5 -1.8-.5 -1.9 0 -1.4-1.3 -1.4-1.3 -.9-1.7M586.5 82.9l-1 1.6 -1 1.6 -.4 1.8 -.1 1.9 -.3 1.9 -.4 1.8 -1.5 1.3 -.5 1.8 -.1 1.9 -.4 1.9M604 52.8l1.8-.7 1.9-.1 1.5 1.2 .2 1.8 .5 1.9 -.8 1.7 -1.8 .7 -1.8 .6 -1.5-1.2 -.3-1.9 .7-1.8 .1-1.9 .7-1.7M582.4 74l-1.5 1.2 0 1.9 -1.1 1.6 -1.2 1.4 -1.7 .9 -1.9 .4 -1.5-1.2 -.1-1.9 -.7-1.7 .3-1.9 -.9-1.7 -1.9-.3 -1.3-1.4M571.4 116.2l-1.2 1.5 -1.1 1.6M598.6 72.3l-1.4-1.3 -1.3-1.4 -1.2-1.5 -1.3-1.3 -1.9-.2 -1.9 .1 -1.8 .7 -1.9 .3 -1.8-.6 -1.6-1.1M554 80.7l.3 1.9 .4 1.8 1.9 .4 1 1.5 -.3 1.9 -.3 1.9 -1.2 1.5 -1 1.6 -.3 1.9 .4 1.8 .7 1.8 -.5 1.8 .2 1.9M571.1 83.4l-.5-1.8 0-1.9 -.5-1.9 -1.7-.7 -1.9 .1M578 48l-1.7 .7 -1.3 1.4 -.6 1.8 -1.8 .6 -1.8 .3 -1.2 1.5 -1.9 .1 -1.8-.6M576.2 118.2l-1.9-.5 -1.8 .6 -1.9 .3 -1.6-1 -1.3-1.4M555.9 92.7l.9-1.7 1-1.6 1.3-1.4 1.2-1.5 .7-1.8 .8-1.7M599.4 77.4l.2-1.9 1.4-1.3 -.7-1.8 -1.6-1 -.4-1.8 -.8-1.8M561.7 98.2l-1.9-.2 -1.7-.9 -1.8-.5 -1.8 .5 -1.9 0 -1.9-.4M606.2 79.7l1.9-.1 1.8 .6 1.9 .2 1.9-.1 1.5-1.1 0-1.9M572.4 80.5l-1.8-.7 -1.9 .2 -1.1-1.5 -1-1.6 -1.5-1.3 -1.8-.5 -1.6-1M566.9 89.6l-1 1.6 -1.7 .9 -1.8-.3 -1.9 0 -1.9-.2 -1.5 1.1 -1.6 1.1 -1.1 1.5 -1.7 .9 -1.5-1.3 -.9-1.6 -.7-1.8 -1.3-1.4 -1.3-1.4M541.4 74.7l-1.6-1 -1.9-.3 -1.9-.4 -1.8-.4 -1.9 0 -1.8 .8 -1.5-1.1 -.3-1.8 0-1.9 -1-1.6 -1.5-1.2M555.7 52.6l1.8-.5 1.7-.8 1.8-.7 1.4-1.3 1.6-1 1.9 .2 1.9-.2 1.8-.5 1.9-.4 1.1-1.6M589 70.5l.8-1.7 -.3-1.8 .1-1.9 .1-1.9 -.4-1.9 .2-1.9 1.3-1.4 .3-1.9 .1-1.9M561 109.3l-1.1-1.6 -1.7-.8 -1.9 0M597 61.7l1.8-.6 1.4-1.3 .5-1.8 -1-1.6 -.8-1.7 -1.2-1.5 -.6-1.8M578.3 118.1l-.7-1.7 -.3-1.9 -.6-1.8 -1.1-1.6 -1.2-1.5 -.4-1.8 -.5-1.9 -.2-1.8 -.5-1.9M610.5 85.6l-1.6-.9 -.6-1.8 .2-1.9 -1.4-1.3 -1.9 .1 -1.9-.2 -1.8 .1M537.6 56.1l-1.9 .3 -1.4 1.2 -1.1 1.5 -.9 1.7 -.7 1.8M570.3 89.7l.2-1.9 .8-1.7 .3-1.9 1.1-1.5 1.9-.2 1.6 .9 .1 1.9 -.7 1.8 -1.1 1.6 -.3 1.8 -1.9-.2 -1.9 .4 -1.9 0 -1.8-.6M544.8 73.2l-1.1 1.6 -.6 1.8 -1.3 1.4 -1.8-.3 -1.9-.4 -1.9-.2 -1.2-1.5 -1.7-.7 -1.9-.6 -1.9-.1M541 52.4l.9 1.7 .6 1.8 -1.5 1.2 -1.8 .6 -1.8-.8 -1.8 .2 -1.6 1.1 -.6 1.8 0 1.9 -.9 1.7 -.9 1.6 -1.8 .8M593.7 57l1.7 .9 1.8 .5 1.8 .4 1.9 .5 1.9-.4 1.9-.1 1.6 1 1 1.6M597.7 68.3l.4-1.8 1.4-1.3 .7-1.8 1.1-1.5 1-1.6 1.9 .3 1.9-.1 1.9 .2 1.9 .3 1.4 1.3 1.6 .9M539.5 81.4l1.4 1.3 -.4 1.9 -1.3 1.3 -1.9 .3 -1.9-.4 -1.8-.2M558.9 101.2l1.8-.5 1.8-.7 1.9-.3 1.8 .6 1.4 1.3 1.2 1.5 1 1.6M573.8 85.5l-1.5-1.2 -1.5-1.2 -1.1-1.5 -1.3-1.4 -1.4-1.4 1-1.6 -.4-1.9 1-1.6 .5-1.8 1.3-1.4 1.7 1 1.7 .7 1.9 .3M568 55.9l1-1.6 1.4-1.3 .7-1.8 .5-1.8 1.4-1.4M556.5 53.8l1.9 0 1.9-.2 1.5 1.3 1.8 .5 1.4 1.2 1.8 .7 1.9 .1 1.5-1.2 1.9 .5 1.8-.5M575 78.7l-.4 1.8 -.7 1.8 -1.9-.2 -1.4-1.3 -1.8 .3 -1.9-.4 -1.4-1.3 -.6-1.8 -.8-1.8 .1-1.9 1.3-1.3 1.5-1.2M588.8 69.1l-.9-1.7 -.9-1.7 -1.9-.1 -1.7 .8 -.9 1.6 -.4 1.9 .6 1.8 1.8 .4 1.9 .5 1.9 .1 1.9 0 1.7-.6M530.3 51.8l1.2 1.5 1.5 1.2 1.4 1.3 1.3 1.4 1.6 .9 1.1 1.6 1.9 .2 1.9 .1 .6 1.8 1.5 1.1 1.5 1.2 1.6-1.1 .9-1.6M570.4 80.5l1.5 1.1 1.7 .9 1.9 .1 1.5-1.1 .9-1.7 1.2-1.5 .9-1.6 .5-1.9 .5-1.8 1.8-.7 1.7-.9 1.9 0 1.8 .4M569 100.2l1.9 .1 1.2 1.5 1.6 1.1 1.8-.2 1.9 0M587.7 73.6l1.9-.1 1.9-.2 1.9-.3 1.8 .6 1.9 0 1.8 .5M587.1 76.6l-1.8 .7 -.3 1.8 1.7 1 1.9-.1 1.7-.8 1.1-1.5 .5-1.9 1.1-1.5 1.5-1.2 1.5-1.1 1.7-.9M589.5 83.4l-.1 1.9 0 1.9 .3 1.9 .4 1.8 -1.2 1.5 -1.7 .8 -1.9 .4 -1.9 .1 -1.9 0M574.4 88.9l-.8 1.7 .2 1.9 .4 1.9 -.9 1.7 -.5 1.8 -.6 1.8 -1.3 1.4 -.5 1.8 1.2 1.5 .9 1.7 .9 1.7 .2 1.8M578.8 60.2l.5 1.8 -1.5 1.1 -1.1 1.6 -1.9-.2 -1.6-.9 -1.9 .1M608.9 61l-1.9 .2 -1.8 .3 -1.9 .2 -1.8 .6 -1.9-.1M550 100.6l.8-1.7 .6-1.8 1.8-.6 1.9-.2 1.9-.1 .4 1.9 -.6 1.8 -1.2 1.5 -1 1.6 -1 1.6M568 91.8l1.8 .6 1.6-1 1.5-1.1 1.7-1 1.7 .9 1.6 .9 -.1 1.9 .3 1.9 0 1.9 .8 1.7 1 1.6M577.9 73.8l-1.3 1.4 0 1.9 -.2 1.9 -.9 1.7 -.7 1.7 1.8 .7 .6 1.8 1.8 .6 1.9 .1 1.8-.7 1.4 1.2M592 88.6l.1-1.9 .1-1.9 1.6-1.1 1.4-1.2 .5-1.9 -.3-1.8 .6-1.8 -.2-1.9M582.9 74.5l-.9 1.7 .2 1.9 -.1 1.9 -.9 1.7 -.1 1.9 1.3 1.3M562.1 96.5l1.3-1.3 1.5-1.3 1.9 .1 .1-1.9 -1.5-1.1 -1.9-.4 -1.8-.6 -1.9-.3 -1.2-1.4M592.5 87.4l-1 1.6 -1.6 1 -1.9 .1 -1.9-.4 -1.6-1 -1.9-.3 -1-1.6 -1.3-1.4 -1.8-.4 -1.7-.8 -1.3-1.4M594.3 88.7l.5 1.9 .2 1.8 -1.4 1.3 -1.6 1.1 -.2 1.9 .8 1.7 .9 1.7 1 1.6 .9 1.7M599.9 75.3l1.6 .9 .9 1.7 .5 1.9 1.4 1.2 1.7 1 1 1.6 1 1.6 1.2 1.5 1.1 1.5 -.2 1.9 -.2 1.9 -.7 1.8 -1.4 1.3 -1.6 1M538.3 88.7l-1.2-1.5 -1.8-.7 -1.1-1.5 -.7-1.8 .1-1.9 1.5-1.2 0-1.9 0-1.9 .6-1.8 .9-1.6 1.2-1.5 1.5-1.2 .1-1.9M549.3 81.1l-1.1-1.6 -1.5-1.1 -1.9-.4 -1.1-1.5 -1.6-1M603.6 99.1l1.6 1 1.8 .7M558.1 86.2l-.2-1.9 1.7-1 1.3-1.4 1.8-.6 .5-1.8 1.3-1.5 1.8-.2 1.7-1 1.8-.6 1.9 .3M590.6 58l1.1-1.5 1.2-1.5 -.3-1.9M596.2 97.3l1.9-.4 1.8-.3 .9-1.7 1.9 .3 1.4-1.2M541.1 62.8l-1.8-.7 -.5-1.9 .1-1.9 .2-1.9 .3-1.8 .3-1.9 .5-1.9 1.1-1.5M563.5 54.3l.2 1.9 1.2 1.5 1.7 .9 1.7 .7 .9 1.7 1.6 1 1.9-.1M589.3 82.1l-.9 1.7 -.3 1.8 -.9 1.7 .3 1.9 -.2 1.9 -1.7 .9 -1.6 .9 -1.9 .5 -1.5 1.1 -1.3 1.4 -1.9 .4M585.1 43.1l-1.9-.3 -.7-1.7M567.1 73.4l-1.8 .7 -1.3-1.4 -1.3-1.4 -1.2-1.4 -1.5-1.3 -1.4-1.2 1.1-1.6 0-1.9 -.4-1.8 -1.1-1.6 .8-1.8 -1.8-.6 -1.9-.2 .3-1.9M561 93.8l.1 1.9 -1.7 .9 -1.6 1 -.8 1.8 -.1 1.9 -1.4 1.2 -1.8 .7 -1.7-.7 -1.3-1.4 -1.3-1.4 -.2-1.9 1.2-1.5 .6-1.8M553.6 54.7l1.9-.1 1.8 .8 1.8 .6 .4 1.9 .7 1.7 1.8 .5 1.8 .8 1.7 .9 1.6 1 1.8 .4 1.8 .6 1.8 .8 1.4 1.3M614.1 66.9l-1.1 1.6 -.8 1.7 -1.3 1.4 -1.9 0 -1.9 0 -1.8-.6 -1.9 0M606.7 95.3l-.3 1.9 -1.1 1.5 -1.8 .6 -1.9 .2 -1.8 .3 -1.9-.4 -1.6-1M589.5 72l1.9-.4 1.5 1.1 1.7 .9 1.9 .3 1.8-.5 1.8-.7M560.5 84.7l1.8-.6 1.3-1.4 1.8-.4 1.5-1.3 1.1-1.5M581.4 57l1.8-.7 1.3-1.3 1.1-1.5 1.2-1.5 -1.2-1.5 -1.7-.9 -1.2-1.4 -.6-1.9 -.4-1.8 .7-1.8 .2-1.9M550.4 91.8l1.9-.5 1.5-1.2 1.7-.9 1.7-.7 1.9 0 1.6-1.1 1.7-.8 1.6-1M535.1 64l1 1.6 .9 1.7 1.2 1.4 1.3 1.5 .5 1.8 1.7 .8M562.9 71.7l-.9-1.6 -.2-1.9 1.1-1.5 1.4-1.3 1.6-1 1.9-.2M579.5 72.9l-1.4-1.3 .2-1.9 1.5-1.1 .3-1.9 1.2-1.4 1.9-.6 1.7-.6M584.6 92.9l1.8-.7 1.8-.7 1.5-1.1 1.9 .5 1.8 .3 1.7 .9 1.9 .2 1-1.6 -.5-1.8 .6-1.8M603 95.2l1.5-1.2 1.4-1.2 1.9-.2 1.4 1.3 .6 1.8M578.7 57.4l1.3-1.3 1.6-1 1.9 0 1 1.6 1.9-.5 1.8-.5 1.9 .4 1.8 .2 1.9-.4 1.9 0 1.8-.6M576.6 68.5l1.8-.6 1-1.6 .4-1.9 -.6-1.8 -.8-1.7M599.5 54.8l-1.9 .4 -1.8-.5 -1.9-.1 -1.9 .3 -1.8-.6 -1.9 0 -1.3-1.4 -1.9 0 -1.8-.4 -1.4-1.3 0-1.9 .6-1.8M582.2 53.5l1.9 .2 1.6 1 1.9-.1 1.9 .5 1 1.6 1.6 .9 .8 1.7 1.9 .5 .7 1.8 -.3 1.8 -1.4 1.4M548.5 61.4l-1.9 .2 -1.9 .3 -1.6 1 -.9 1.6 -1.7 .9 -1.9 0 -1.9-.3 -1.9 .1 -1.9 .5 -1.9 0M610.4 71.3l-.2-1.9 -1-1.6 -1.9-.1 -1.7 .9 -.8 1.8 1.6 1.1 1.7 .8 .4 1.8 1.1 1.6 1.7 .8M549.2 90.6l-1.9 0 -1.5-1.1 -1.8-.7 -1.4-1.2 .6-1.9 1.7-.8 1.7-.9 1.4-1.2 .8-1.8 .1-1.9 -.4-1.8 1.8-.8 1.2-1.4M538.6 52.4l-1.7 .8 -1.9 .2 -1.7 .8 -1.3 1.3 .2 1.9 -1.2 1.5 -1.2 1.5 -1.1 1.5 -1.3 1.4 -1.6 .9M606.5 101.8l-1.5-1.1 -1.3-1.4 -.4-1.8 -.7-1.8 -.8-1.7 0-1.9 -.4-1.9M585.5 79.5l1.9-.1 .8-1.7 1.3-1.4 1.8-.5 1.7-.8 1.9 .1 1.9 .5 .9-1.6M563.7 53l-1.5 1.2 -1.9-.3 -1-1.6 -1.8-.7 -1-1.6M537.6 86l1.9-.6 1.7 .7 1.9 .5 1.6 1 1.6 .9 1.8-.7 1.4-1.3 1.9-.4 1.6-.9M567.9 49.7l1.8-.4 1.9-.4 1.8 .7 1.4 1.2 1.9 .4 1.8 .5 1.7 .9M545.6 91.1l.5 1.8 1.5 1.1 1.9-.1 1.4-1.3 0-1.9 -1.2-1.4M585.2 71.4l-1.9 .5 -1.9 0 -1.5 1.1 -1.6 .9 -1.6 1.1 -1.8-.4 -1.7-.9 -1.3-1.4 -1.3-1.4 -1.5-1.1M560.5 87.9l1.9 .4 1.9 0 1.8-.4 1.9 0 1.7 .8 .9 1.7 .5 1.9M557.5 79.8l.9 1.7 -.9 1.7 -.1 1.9 .3 1.9 -.8 1.7 -1 1.6 -1.9 .5 -1.8 .3 -1.4 1.3M576.3 60.2l-1.8 .5 -1.9 .3 -1.6 1 -1.7 .7 -1.9-.4 -1.9-.1 -.9-1.7 -1.7-.9 -1.8-.6 -1.9-.3 -1.8-.4 -1.9-.1M576.6 48l1.9 .4 1.9-.1 1.8-.5 1.9 .3 1.9 .2 1.8 .6M537 66.2l1.3 1.3 1.9 .5 1.8 .2 1.4-1.2 1.3-1.4 .9-1.7 -.3-1.9 .1-1.9 -1.5-1.1 -1.2-1.5 -.9-1.7 -.4-1.8 -.1-1.9M614.2 65.9l-1.9 .1 -1.6-1.1 -1.9-.1 -1.7 .9 -1.9 .1 -1.8-.4 -1.8 .6 -1.9 .1 -1.2 1.4 -1.9 .1 -1.9-.1 -1.6-1M585.1 96.2l-.9-1.7 -.3-1.8 0-1.9 1.1-1.6 1-1.6 1.8-.4 1.9 .1M543 84.8l-1.4-1.2 -.9-1.7 -1.1-1.5 -1.6-1 -1.9 .2M569.1 95.6l-1.9 .1 -1.9 .3 -1.9-.1 -1.8-.6 -1.8-.8 .1-1.9 1-1.6 .4-1.8 1.1-1.6 1.5-1.1 1.6-1.1 1.9 .4M565.4 78.4l-1.9 0 -1.5 1.2 -1.7-.8 -1.9-.1 -1.2-1.5 -1.3-1.4 -.8-1.7 .2-1.9 -1.6-.9 -1.9-.1M576 115.5l-.8-1.8 -1-1.6 -1.4-1.3 -.5-1.9 -.7-1.7 -.3-1.9 -1.6-1 -1.9 0M560.2 54.7l1.9-.5 1.9 .2 1.7 1 .2 1.8 -.4 1.9M559.9 79.5l1.8 .8 .9 1.7 .6 1.8 .3 1.8 0 1.9 -1.8 .6 -1.7 1 -1.8 .3 -1.9-.1M556.6 84.6l1.2 1.5 -.5 1.9 -1.1 1.5 -1.5 1.1 .1 1.9 -.7 1.8 -.3 1.9 .3 1.9 -1.2 1.4 -.1 1.9M572.2 44l-.7 1.8 .1 1.9 -1.4 1.2 -1.8 .4 -1.5 1.2 -1.7 .8 -1 1.6 -1.6 1.1 -.7 1.8M597 65.7l-.7 1.8 .4 1.9 -.4 1.8 -.4 1.9 -.6 1.8 -.1 1.9 .7 1.8 1.5 1.1 1.5 1.2M552.3 65l1.1 1.5 1.8 .5 1.8 .5 1.9 .2 1.3 1.4M539.8 75.2l-1.6 1.1 -1.5 1.2 -1.1 1.5 -.6 1.8 -1 1.6 .9 1.7 -.7 1.7M537.8 65.2l.7-1.8 1.3-1.4 .3-1.9 1.9-.3 1.8-.4 1.9 .4 1.5-1.1 .5-1.8 .1-1.9 1.2-1.5 .3-1.9M578.9 115.7l-.4 1.8 -1.3 1.4 -1.8 .6 -1.9 .1 -1.6 1M560 98.4l1.7-.7 1.2-1.5 1.6-1 1.9 .2 1.9-.4 1.8-.5M565.9 60.8l1.2 1.4 -.5 1.9 1.1 1.5 .3 1.9 -.5 1.9 -.2 1.8 -1.6 1.1 -1.8 .5 -1.9-.1 -1.7 .8 -1.9 .2 -1.3 1.4 -1.7 .9 -1.5-1.2M545.9 60.4l-1.4 1.3 -.8 1.7 -.3 1.9 -1.1 1.5 -1 1.6 -1.4 1.3 -1.5 1.3 -1.6 .9 -1.8-.7 -1.7-.9 -1.8-.6 -1.8-.6M591.5 79.7l.8-1.7 .9-1.7 -1.5-1.2 -1.9-.1 -1.6 .9 -1.7 1 -1.3 1.3 -1.3 1.5 -1.6-.9 -1.2-1.5 .2-1.9 .5-1.8 .7-1.8M590.1 74.4l-1.3-1.3 -1.5-1.2 -1.6-1.1 -1.7 .9 -1.8 .7 -1.6 .9 -1.8-.5 -1.5-1.2 -1.7 1 -1.7 .8M587.7 96l1.7-.8 1.9 .3 1.9 .3 1.8-.7 1.6-.8 1-1.7 1.4-1.2 1.3-1.4 -.4-1.9 .2-1.9M591.5 53l1.9 .1 1.8-.4 1.3 1.4 1.6 1.1 1.8 .7 1.8 .4 1.7 .9 1.8-.6M590.6 54.4l-.1 1.9 -.8 1.7 -1.8 .8 -1.9 0 -1.4-1.3 -1-1.6 .3-1.9M581.2 108.1l1.5-1.2 1.3-1.3M582 93.8l1-1.6 1.3-1.5 .8-1.7 .1-1.9 -1.1-1.6 -1-1.6 -.9-1.6 -.7-1.8 -1.2-1.5 -1.5-1.2 -.5-1.8 -1.2-1.4 -1.5-1.2 -1.9 0M577.8 66.5l1.8-.7 1.3-1.4 1.3-1.4 .9-1.7 0-1.9 -.1-1.9M588.5 88.5l-1.4 1.4 -1.4 1.2 -1.7 .8 -1.5 1.1 -.5 1.9 -.5 1.8 -.4 1.8 -1.5 1.2 -1.9 .4 -1.9 0M596.5 99l-1.5-1 -1.8-.8 -1-1.6 .2-1.9 1.6-1 -.7-1.7 -.6-1.8 -1.2-1.5 -1.8-.4M581.1 51.1l1.6-.9 1.8-.6 1.8-.7 .5-1.9M533.5 54.2l-1.6 1.1 -1.9-.2 -.1-1.9 -1.6-1M591.6 84.3l1.3-1.3 1.9 .5 1.4 1.2 1.1 1.6 1.7 .7 1.9 .5 1.8 .6M573.7 118l-1.1-1.5 -.5-1.8 -1.7-1 -1.1-1.5 -.8-1.7 -1.3-1.5M572.7 110.4l.3-1.9 1.6-1.2 1.2-1.4 1.5-1.1 1.3 1.3 1.4 1.4 1.2 1.4 1.5-1.3 1.1-1.5M581.8 92.4l1.8-.7 1.7-.8 1.9-.4 1.2 1.5 1 1.6 .4 1.8 -.8 1.8 .3 1.9 -.4 1.8M606.9 65.7l.5 1.8 .4 1.9 1.6 .9 1.9-.4 1.6 1.1 1.2 1.4M534.6 58l-1.9 .1 -1.9-.3 -1.9 .3 -1.8-.5M545.6 70.1l1.2 1.6 .5 1.8 .6 1.8 -1.2 1.5 -1.2 1.4 -1.8 .7 -1.8 .6M576.3 85.1l-.5-1.8 -.7-1.7 -1.3-1.4 -1-1.6 0-1.9 -.2-1.9 1.1-1.6M525.9 63.7l1.7-.8 .6-1.8 .9-1.7 .4-1.9 .2-1.9 .7-1.7 .5-1.9 .5-1.8M600.1 81.1l.8-1.8 1.4-1.2 0-1.9 .3-1.9 1-1.6 1.9-.1 1.9 .4 .4-1.8 .9-1.7 .6-1.8 1.5-1.2 1.8 .6M610.9 62.7l-1.8 .7 -1.3-1.4 -1.4-1.3 -1.9 0 -1.9 .6 -1.1 1.5M595.2 80.3l.9 1.7 .2 1.9 1.1 1.6 1.4 1.3 1.2 1.5 1 1.6M562.7 52l-1.1 1.6 -1.7 .9 -1.8 .1 -1.9 .3 -1.8 .8 -1.8 .4M531.4 77.4l-.5-1.8 .6-1.8 0-1.9 1.1-1.5 .8-1.8 .5-1.8 .5-1.8 .2-1.9 .6-1.8M530.8 53.2l1.8 .5 1 1.6 .9 1.7 .3 1.9 0 1.9 -.1 1.9 -.7 1.7 1.1 1.5 1 1.6 .9 1.7M578.4 60.6l-1.6-1 -.4-1.9 -.9-1.7 .7-1.7 .7-1.8 1.9-.2 1.6-1.1 -.2-1.9 -1.4-1.2 .5-1.8 -.2-1.9 -.5-1.8M581.6 60.2l1.9 .5 1.4 1.3 1.7 .6 1.4 1.4 -.6 1.8 -1.6 .9 -1.7 1M592.4 54.4l-1.9 0 -1.7 .9 -1.3 1.3 -1.9 .6 -1.5 1.1 -1.3 1.4 0 1.9 1.3 1.4M591.9 58.8l1.7 .7 1.6 1.1 1.4 1.3 1.8 .6 .9 1.7 1.7 .8 1.3 1.4 1.2 1.4 1 1.6 1.8 .6M551.9 88.4l-1.4 1.3 -1.1 1.5 -.2 1.9 .4 1.9 1 1.6 .8 1.7M545.9 63.3l.8 1.7 1.4 1.4 1.5 1.1 1.9-.1 1.7-.9 .4-1.8 .6-1.8 -.5-1.8M537.7 82.6l-1.8-.6 -.6-1.8 -1.9 .1 -1.3 1.4M596.4 64.1l-.6 1.9 1.4 1.2 1.4 1.3 1.8 .6 1.9 .2 1.6 .9 1 1.7 1.6 .9 1.7 .9 1.3 1.4 .5 1.8M535.7 66.6l.3-1.9 1.6-.9 1.9 .2 1.9 .2 1.7 1 1.8-.4 1.3-1.4 1.9-.1 1.9-.3 1.1 1.5 1.4 1.3 1.5 1.2 1.8-.3 1.9-.2M594.1 72.9l-.4-1.9 1.3-1.4 1.7-.7 1.8 .6 1.5 1.2 .6 1.8 .1 1.9 .2 1.9 .1 1.9M566.5 93.7l-1.8 .5 -1.9 0 -1.8 .7 -1.6 1.1 -1.8-.6 -1.2 1.4 .6 1.8M577.3 75.7l1.1 1.5 1.6 1 1.9-.4 1.8-.5 1.9 .1 1.9-.2 1.7-.9 1.9 .1 1.8-.6 1.9-.3 1.9-.2 1.7 .8 1.2 1.4 1.7 .9M584.2 93.5l1.8-.6 .7 1.8 1.4 1.3 1.6 1 1.6 1 .3 1.9 1.5 1.2M565.5 73.7l-1.3-1.4 -.4-1.8 -1-1.7 -1-1.6 -.4-1.9 -.1-1.9 .9-1.7 1.5-1.1 1.9-.3 1.4 1.2 1.9-.4 1.4 1.3 1.6 1.1M555.1 97.6l1 1.7 .9 1.6 1.7 .9 1.7-.8 .3-1.9 -.9-1.6 -1.3-1.5 -1.6-.9 -1.9-.1 -1.7-1 -.1-1.9 1.2-1.4M569.7 56.7l-1.9 .3 -1.6-1 -1.2-1.5 -.8-1.7 -.3-1.9 .7-1.8 .5-1.8M588.9 89.3l-1.5-1.1 1.2-1.5 .1-1.9 .5-1.9 .6-1.8M584.9 48.5l1.7 .7 1.6 1 1.6 1.1 .4 1.9 1.4 1.3 1.8 .6M598 60.7l.8-1.7 1-1.6 .7-1.8 .9-1.6 1.9-.6 1.8-.5M593.1 97.2l-.2 1.8 .8 1.8 .7 1.7M554.2 84.2l-1.8 .6 -1.9 .4 -1.8-.5 -1.7-.7 -1.9 .1 -1.9-.4 -1.8 .6 -.5 1.8 .5 1.8 -.4 1.9 -.4 1.8M573.2 100.2l-1.7-.8 -1.8 .6 -1.9-.5 -1.5-1.1 -1.6-1.1 -.9-1.7 .2-1.8 -.2-1.9 -.2-1.9 -.8-1.7 -1.1-1.6 -1.4-1.3 -1.4-1.3M571.7 108.2l-1.9 .3 -1.9-.1 -1.5 1.2 -1 1.6 -.9 1.7M530.9 55.6l-1.7 .8 -1.8 .7 -1.2 1.5 -.3 1.9 .9 1.7 .6 1.8 .3 1.8 1 1.6 .9 1.7 .6 1.8 -.9 1.7 .8 1.7 -.3 1.9 .4 1.9M579.3 45.6l-1 1.6 -1.7 .9 -.6 1.8 -1.9 .6 -1.8-.6 -.5-1.8 .1-1.9 .1-1.9M576.3 115.1l-1.5-1.2 -1.9-.2 -1.8-.5 -1.9 0 -1.8 .7 -1.9 .2M576.6 83.7l-1.6 1 -.5 1.9 1.2 1.4 1.5 1.2 -1.3 1.4M598.9 95.1l-.5 1.9 .4 1.8 -.8 1.7 .6 1.8M545.6 67.9l-1.6-1.1 -1.2-1.4 .2-1.9 -.1-1.9 -.8-1.8 -1.6-.9 -1.9 0M612.6 83.9l.2-1.9 -1.7-1 -1.8 .6 -1.8 .6 -1.6 .9 -1.9-.1M576.1 61.4l-1.8 .7 -1.8-.5 -1.7-.9 -1.8 .7 -1.9-.2 -1.8-.6 -1.3-1.4 -1.7-.8 -1.9 .1 -1.8 .6 -.5 1.8 -1.1 1.6M555.1 97.3l1.8 .7 1.6 1 .9 1.7 1.1 1.5 1 1.6 .3 1.9 -.2 1.9 .3 1.8M552.9 60.3l.5 1.8 .9 1.7 -.7 1.7 -.8 1.8 -1.2 1.4 -1.7 .9M534.3 81.7l.1 1.9 -.8 1.7M580 45.6l-.6 1.8 -1.1 1.6 -1.7 .6 -1.7 .9 -1.8 .8 -1.6 .9 -1.6 1 -1.5 1.3 -1.7-.8 -1-1.6M554.4 97.9l0 1.9 .4 1.9 .4 1.8 -.4 1.8M547.3 85l-1.2-1.5 -.5-1.8 -1.6-1.1 -1.3-1.3 -1.9 .4 -1.7 .8M582.7 92.8l.5 1.9 .1 1.9 -.7 1.7 -.8 1.7 -1 1.7 .7 1.7 .9 1.7 .8 1.8M537.7 81.2l-1 1.7 .4 1.9 .3 1.8 .6 1.9 .3 1.8 -.1 1.9 .9 1.7M565 85.4l1.4 1.3 1.8-.6 1.9 .1 1.9-.1 1.6 1 1.3 1.4M612.3 78.4l1.8 .6 1.4 1.3 1.2 1.5M569.3 64l1.4-1.4 1.4-1.3 .6-1.8 -.4-1.8 -.2-1.9 -.5-1.9 -1.3-1.3 -1.2-1.5 -1.8-.8 -1.5-1.1 -1.6-1M578.6 107l-1.8 .5 -1.7 1 -1 1.6 -.8 1.8 -.1 1.9 .9 1.6M573.7 44.4l.1 1.9 -.6 1.8 -1.4 1.3 -1.9-.1 -1.9 0 -1.9 .2 -1 1.6 -1.7 .9 -1.5 1.1 -.5 1.8 -1.3 1.4 -1.9 .3 -1.9 .1 -1.9 .3M571.9 98.3l.7 1.7 -.5 1.8 0 1.9 1.2 1.5 1.1 1.6M563.1 54.9l.8 1.7 .9 1.6 1.9 .6 1.7-.7 1.6-1.1 1.2-1.5 1.6-.9 1.6-1.2 .5-1.8 .6-1.8 .9-1.7 1.4-1.2M542 53.9l1.9 .1 1.8-.6 1.8 .5 1.9 .1 .8-1.7M585.2 79.2l.6-1.9 1.3-1.3 1.2-1.6 1.8-.4 1.9 .4 1.6 1 1.5 1.2 1.5 1.1 1.4 1.3M588.4 55l-.2-1.9 -1.3-1.3 -1.8-.8 -1.9 0 -1.5-1.1 -.7-1.8 -.9-1.7 -1.5-1.2 -1.3-1.3 -1.8 .5M609.5 87.6l1.4 1.3 .7 1.8M567.7 77.5l-1.8 .5 -1.1 1.5 -.9 1.7 -1.9-.2 -1.7-.7 -1.9-.2 -1.3-1.4 -1.1-1.5 -1.9 .1 -1 1.6M576.7 101l1.5-1.1 1.5-1.3 1.8 .7 1.9 .1 .6 1.8 1 1.6M605 93.1l-1.5 1.2 -1.6 .9 -1.7 .9 -.9 1.7 0 1.9 .3 1.9M577 84l.6 1.8 1 1.6 1.1 1.5 0 1.9 -1.9 0 -1.9 .3 -1.8-.2 -1.6-1.2M612.4 82.5l-.2 1.9 1 1.7M574.2 111.4l-1.8-.8 -1.8-.6 -1.6-.9 -.4-1.9 .9-1.6 .8-1.7 1-1.6 1.7-.9 1.6-1.1 1.7-.8M568.8 94.5l1.7-.8 1.9 .3 1.5 1.1 1.9 0 1.5-1.1 1.1-1.6 1.2-1.5 0-1.9 -1.2-1.5 -1.5-1.1M544.7 80.1l1.6-.9 1.8-.7 1.9-.3 1.6-1 1.8-.7 1.8-.4 1.8-.5 1.9-.5 1.6-1 1.7 .8 .7 1.8 .4 1.9 -.9 1.6 -.1 1.9M583.1 44.7l-1.5-1.1 -1.4-1.4M531.1 51.4l-1.7 .9 -1.3 1.4M609.5 80.5l-1.9-.2 -1.8-.5 -1.5-1.2 -1.6-.9 -1.8-.6 -1.5-1.2 -1.7-.8M542 54.8l-1.8-.5 -1.8-.5 -1.7-.9 -.7-1.8 -1.1-1.5M552.7 99.1l1.8-.9 .8-1.7 .1-1.9 0-1.9 1-1.6 .6-1.8 -.1-1.9 -.1-1.9 -.3-1.9M585 52.1l-1.3 1.4 -1.9 0 -1.9 .4 -1.8-.6 -1.8-.7 -1.9-.1 -1.7-.8 -1.3-1.4 -1.1-1.5 0-1.9M569.6 59.3l.2-1.8 .2-1.9 -.8-1.8 .5-1.8 .7-1.7 -.3-1.9 -.3-1.9M540.7 75.2l1.5 1.2 .4 1.9 -.1 1.9 1.1 1.5 -.1 1.9M567.2 70.7l-1.7-.7 -1-1.6 -1.5-1.2 -.1-1.9 -.2-1.9 -.3-1.9 .2-1.9 1.3-1.3M561.6 97.3l-1.8-.6 -1.9-.1 -1.9 .4 -1.7-.6 -1.6 1.1 -1.8 .4M568.7 119.9l1.9 0 1.9 .3 1.5-1.2 .8-1.7 -1.1-1.6 -1.8-.6 -1.6-1 -1.2-1.5M606.4 95.3l-.6-1.8 -.8-1.8 -1.7-.8 -1.9 .3 -1.8 .6 -1.9-.3M551.3 97.2l-1.3-1.4 -1-1.6 -1.5-1.1 -1.8 .5 -1.9-.3 -1.5-1.1 -.8-1.8 -.9-1.6 -1.9-.2 -1.9 .2M572 107.1l-1-1.6 -1.6-1 -1.1-1.5 -1-1.7 -1.3-1.4 -.2-1.9 -.5-1.8M554.5 97.9l1.2-1.5 .8-1.7 1.6-1.1 1.4-1.3 1.7-.9M582.1 70.6l1.8-.6 .8-1.7 1.4-1.3 1.9 0 1.9 .1 1.8 .7 -.5 1.9 -.3 1.9 -1.7 .6 -1.9 .5 -1.6 1.1 -.9 1.6 -.5 1.8 -.3 1.9M545.9 79.8l.6 1.8 .6 1.8 -.4 1.8 -1.1 1.6 -1.8-.2 -1.7-.9M573.7 77.6l.7-1.8 1.3-1.3 1.7-1 1.8 .7 1.9 .2 1.7 .7 1.6 1 .9 1.7 .3 1.9 1.1 1.5 .8 1.7M578.9 61.4l-.8 1.7 -1.5 1.1 -1.8 .6 -1.8 .6 -1.9-.3 -1.9 .1 -1.8-.4 -1.9-.3 -1.9 0M546.8 62l1.5 1.3 1.8-.7 1.8-.3 1.9 .3 1.9-.3 1.7 .9 1 1.6M581.4 68.1l-1.6 1.1 -1.7 .9 -1.9 .1 -1.3-1.3 -1.4-1.3 -1.5-1.2 -1.8-.4 0-1.9 -.3-1.9 -.8-1.7M570 112.7l1.8-.5 1.9-.5 .4 1.9 .6 1.8 .8 1.7 .1 1.9 -1.8 .6 -1.9 0 -1.2 1.5M612.1 64.9l.1-1.9 -.4-1.8 -.4-1.9 1-1.6 .1-1.9M592.6 101.6l.5-1.8 .3-1.9 -.8-1.8 -.6-1.7 -1.1-1.6M582.7 82.2l.9-1.7 -.2-1.9 .5-1.8 .6-1.8 .5-1.8 .2-1.9 1.1-1.5 .6-1.8 1.4-1.4 1.9 .2M557.8 106.6l-1.5-1.1 -1.8-.5M553.7 52.8l1.1 1.5 .9 1.7 1.8 .5 1.9-.1 1.7 .8 1.7 1 1.7 .6 1.9 .4 1.5-1.2M542.7 74.3l0 1.9 1.1 1.5 1.6 1 1.8 .7 1.2 1.5 1.3 1.3 1.8-.7 1.7 .9 1.7 .8 1.9 .4 1.8 .5 1.1-1.5M543.8 69.9l1.9 .3 1.8 .6 .8 1.7 .3 1.9 1.2 1.5 1.7 .9 1.9-.2M554 67.8l-1.7 .8 0 1.9 0 1.9 .2 1.9 -.3 1.9 -1.4 1.3 -.7 1.8 -.7 1.7 -1.9 .5M573.7 59.3l1.6 1 1.9 .3 1.3 1.4 1 1.6 .5 1.9 1.1 1.5 .8 1.8 -.6 1.8 -.7 1.7 -1.1 1.6 -1.8 .5M582.1 46.9l-.7 1.8 .4 1.8 .6 1.8 .3 1.9 .6 1.8 -.1 1.9 1 1.6 1.7 .9 1.8-.7 .6-1.8 1.2-1.5 1.2-1.4 1.7-.8 1.9-.3M610 79.3l1-1.6 .8-1.7 1.3-1.4 .7-1.8 -.9-1.6 1-1.6M613.3 86.9l-.3-1.9 -1.4-1.2 -1.4-1.3 -1.7-.8 -1.5-1.2 -1.6-1.1M535.5 82.6l1.8 .6 1.9-.2 1.2-1.5 1.4-1.3 1.9-.2 1.6 1 1.5 1.2 1.2 1.4 1.1 1.6 .4 1.8 -.1 1.9 .5 1.9 .4 1.8 0 1.9M554.2 101.8l1.9-.5 1.5 1.1 1.7 .9 1.5 1.2 1.8-.3M564.1 88.2l1.9-.1 1.9 .1 1.7-.9 .6-1.8 .4-1.9 1.3-1.3 -.4-1.9 .6-1.8 .8-1.7 -1.5-1.2 -.8-1.7 -1.4-1.3 -1.1-1.5 -.9-1.7M599 94.7l1.8 .4 1.6 1 1.7-.9 .3-1.9 -.1-1.9 -.6-1.8M574.9 80.1l.8-1.8 .7-1.8 .3-1.8 1.1-1.5 1-1.7 1.8 .5 1.9 .2 1.9 .1 1.8-.6 1.9 .1 1.1 1.6 1.7 .9 .7 1.7M613.9 80.2l1.7 .9 1.4-1.2M575.9 117.2l-1.8-.5 -1.5-1.1 -1.6 1 -1.9 0 -1.7-.9M530 64.3l-1.7-.8 -1.9-.2 -1.4-1.3M603 81.5l.8-1.7 .4-1.9 .5-1.8 1.1-1.6 1.2-1.5M556.8 79.6l.4 1.8 1.8 .8 1.6 .9 .4 1.9 1.3 1.4 0 1.9 .3 1.9 .6 1.8 1.4 1.2 1.3 1.4 1.9 .2 1.8 .5 1.9 .2 1.8-.8M573.1 109.7l-.9-1.6 -.9-1.7 -.3-1.9 1.5-1.1 .8-1.8 0-1.9 -1.7-.8 -1.3-1.4M539.5 72.7l-1.4-1.2 -1.5-1.2 -1.7-.8 -1.8 .6 -1.9 0 -1.6-1.1 -1.9 .2M596.9 57.2l1 1.6 1.7 .9 1.7 .8 1.2 1.5 .7 1.8 1.1 1.5 .7 1.8 -.1 1.9 1.1 1.6M596.6 73.7l-1.2 1.4 -1.5 1.2 -1.7 .7 -1.5 1.2 -.6 1.8 .4 1.9M562.9 97.1l-1.2-1.5 -.8-1.7 .4-1.9 .7-1.8 .2-1.9M593.4 85l-1.5-1.2 -1-1.6 -1.7-.8 -1.9-.3 -1.9 .1 -1.6 1 -1.6 1.1 -1.6 1 -.7 1.8 -.4 1.8 .3 1.9 .7 1.8 1.6 .9 1.7 1M567.8 103.8l1.9 .2 1.6-1 1.4-1.3 1.7 1 1.6 .9 1.4 1.3 1.8-.7 1.4-1.3 1.9-.1 1.2-1.5 .3-1.9 -.4-1.8 -.6-1.8M566 110.2l-1.5-1.1 -1.8-.7 -1-1.7 -1.6-.9 -.6-1.8 -.5-1.8 -1.8-.7 -1.4-1.3 -1.8-.5 -1.9 .2 -1.8 .5 -.1 1.9M574.5 73.7l.4 1.8 .2 1.9 .6 1.8 1.7 .9 1 1.6 .4 1.9 .6 1.8 -.8 1.7 -1.2 1.5M548.1 63.5l-1.3-1.4 -1.8-.6 -1.8 .6 -1.8 .5 -1.4 1.3 0 1.9 -.8 1.8 -1.1 1.5 -1.9 .1 -1.1-1.6M545.5 50.8l-1.9-.4 -1.9-.3 -1.7-.6M601.9 79.5l-1.5-1.2 -1.5-1.1 -1.2-1.5 -1-1.6 -.6-1.8 -1.7-1M575.8 122.8l-1.8-.5 -1.6-1.1 -1.8-.5M556.6 50.9l1.7-1 1.7-.7 1.6-1.1M591.1 88.1l1.8-.6 1.2 1.6 1.9-.1 1.7 .7 1.4 1.3 1.3 1.3 .4 1.9 .5 1.8M528.1 61.7l-1.5 1.2 -1 1.5M529.2 69.3l1.3 1.5 1 1.6 .6 1.8 -.5 1.8 -1.4 1.3M530.9 57.2l1.8-.6 .3-1.9 .8-1.7 .6-1.8 -.9-1.7M570.8 113.3l1.5 1.2 1.7 .7 .5 1.8 .2 1.9 .3 1.9 -.3 1.9M592.4 70.2l-1.9-.5 -1.5-1 -1.8-.7 -1.8-.6 -1.9-.4M571.3 65.3l-1.9 .4 -1.9 .1 -1.9 .2 -1.7 .8 -1.7 .9 -1 1.6 .5 1.8 .1 1.9 -.5 1.9 -.1 1.9 -1 1.6M594.3 67.1l-1.8 .4 -1.8-.7 -1.9-.2 -1.6 .9 -1.8 .8M537 79.4l.8 1.7 .7 1.8 .7 1.8 -1 1.6 -.9 1.7 0 1.9M545.9 88.1l-1.9 0 -1.3 1.3 -1 1.7 .7 1.7 .6 1.8 1 1.6 1.7 .8 1.9 .4 .5 1.9M584.1 63l1-1.6 1.8-.6 1.9-.4 1.8-.6 1.7 .8 1.7 .9 1 1.6M571.9 74.1l-1.9 .1 -1.4 1.4 -.4 1.9 1.4 1.2 1.1 1.5 1 1.7 1.8 .6 1.8 .5 1.5 1.2 .3 1.8 .4 1.9 -.7 1.8M564.5 90.4l-.9 1.7 1 1.6 .7 1.7 .9 1.7 -1.2 1.5 0 1.9 .4 1.9 1.9 .3 1.5 1.2 1.8 .1M558.5 78.4l.3 1.9 -1.1 1.6 -.1 1.9 .1 1.9 -1.4 1.3 -1.5 1.1 -.8 1.7 -.1 1.9 .4 1.9 -.5 1.8 .6 1.8 .6 1.8M574.3 59.5l-.1-1.9 -.5-1.8 -1.1-1.6 -1.5-1.1 -1.9-.4 -1.8 .4 -1.9 .5M575 94.6l.7-1.7 .6-1.8 .7-1.8 1-1.7 -.8-1.7 -1.8-.6 -1.9-.2 -1.9-.1 -1.8 .6M599.6 91.5l-.4-1.8 -1.7-1 -1.7-.7 -1.8-.8 -1.1-1.5 .4-1.8 .5-1.8 1.2-1.5 -.2-1.9 1.3-1.4 1.1-1.5M534.6 66.9l0-1.9 1.3-1.3 1.9-.3 1.8-.6 1.7-.8 .4-1.9M554.9 80.9l1.8-.6 1-1.7 1.3-1.4 1.4-1.2 .6-1.8M543.1 49.7l1.7 .7 1.9 .5M604.6 68.2l1-1.6 .3-1.9 .5-1.8 -.5-1.9 .5-1.8 -1.2-1.5 -.6-1.8 .5-1.8 0-1.9 .2-1.9M581.7 44.8l1.6-1 1.5-1.2M572 78.9l-.3 1.8 1 1.7 .9 1.7 1.9 .2 1.7-.7 1.9 0 1.8-.6M564.8 106.1l-1.6 1 -1.5 1.1 -1.7-.8 -1.9 0M600.4 78l-1.2-1.5 -.6-1.8 -1.3-1.4 -1.7-.9 -1.3-1.4M596.5 68.7l-1.9-.2 -1-1.6 -1.3-1.4 -.9-1.7 -1.4-1.4 -1.4-1.2 0-1.9 -.4-1.8 1.6-1.2M571.5 74.9l-.3 1.8 -1.3 1.5 -1.9 .2 -1.8 .6 -1.8-.3 -1.9-.3 -1.3 1.4 -1.9 .4 -1.8 .3 -1.8 .7 -.7 1.8M571.9 57.4l1.6 1.1 1.9 .5 1.8 .6 1.5-1.1 1.5-1.2 1.7-.8 1.9 .2 1.9 .3 1.9 .1 1.7 .8M558.5 98.9l-1.9-.2 -1.8 .4 -.5 1.9 -.8 1.7 1.6 1 -.4 1.9M535.3 52.6l-1.8-.6 -.8-1.7M583 58.8l1.6 .9 1.9-.1 1.5-1.2 1.5-1.2 1.8-.5 1.8 .6 1.7 .8 1.4 1.3 1.9 .5 1.3 1.3 1.2 1.5 1.5 1.2M592.4 59.8l1.3-1.4 1.7-.7 1.8 .7 1.8 .5 1.8 .8 1.8 .3 1.9-.3 1.9 .1 1.9-.2 1.7-.8 1.1-1.5M529 63.6l-1.2 1.5 -1 1.6M554.5 57.2l1-1.7 1.2-1.4 1.9-.3 1.7 .7 1.9-.5M587.3 53.5l-1.7-.8 -1.5-1.2 -1.8-.7 -1.9 0 -1.3 1.4 -1.2 1.4 -1.9 .4 -1.8 .6 -1.3 1.3M599.9 98.3l1.9-.1 1.7 .9 1.8 .6 1.3 1.4M572.8 87.2l-1.8-.6 -1.9 0 -.8 1.8 -.2 1.8 -1.4 1.4 -.1 1.9 -1.2 1.4M532.1 67.9l1.8 .7 1.2 1.5 .8 1.7 1.4 1.3 .7 1.8 .2 1.9 0 1.9 -1.2 1.5 -.8 1.7 -1 1.6 -1.7 .8M558.5 80.8l-.5 1.8 .2 1.9 -1.5 1.2 -1.2 1.5 0 1.9 .3 1.9 .6 1.8 1.4 1.3M531.7 78l1.9-.3 1.9 .2 1.4 1.3 1.1 1.5 .8 1.7 0 1.9 -.1 1.9M571.8 44.8l1.1 1.6 .7 1.8 .4 1.8 1 1.7 -.6 1.8 -1 1.6M539 92.2l-.8-1.7 .6-1.8 -.8-1.8 -1.5-1.1 -.9-1.7 -.9-1.6 .7-1.8 1.2-1.5 .7-1.7 0-1.9 -.7-1.8 -1.5-1.1M560.2 87.3l1-1.6 1.4-1.3 1.9 0 1.9 .5 1.5 1 1.6 1.2 1.8 .6 1.9 .2 1.8 .4 1.9-.1 1.9-.4 .6-1.8 1.9-.1M566.2 82.1l1.8-.6 1.9-.1 1.9-.2 1.8-.4 1.9 .5 1.8 .6 .8 1.7 1.7 .9 1.7-.8M560.7 90.9l1.3-1.3 1.4-1.3 .4-1.9 .4-1.8 1.9-.2 1.9 .4 1.8-.3M562.4 74.3l1.4 1.3 .3 1.9 0 1.9 -1.6 1 -1.9-.3 -1.9-.2 -1.9 .3 -1.8 .6 -1.7-.7 -1.8-.6M602.6 93.8l1.8-.7 1.9 .2 1.9 .1 1.1 1.5M581.9 64.8l1.2-1.4 1.5-1.2 1.9-.3 1.8 .6 1.7 .9 1.7-.8 1.7-.9 1.8-.6 1.9-.3 1.9 .1 1.8-.2 1.9-.5M581.6 91.9l1.1-1.6 1.6-1 .2-1.9 -1-1.6 -.7-1.7 1.4-1.3 1.5-1.1 1.9-.5 1.4-1.3 1.9 .1M561.9 50.7l.2 1.9 -1.3 1.5 -1.2 1.4 -1.9-.1 -1.7 1 -1.2 1.5 -1.7 .8 -1.8-.7 -1.8-.6 -1.9-.1 -1.8-.4 -1.9 0 -1.9-.2M614.8 57.1l-1.5 1.2 -1.8 .4 -1.5 1.2 .9 1.7 1 1.6 .3 1.9 -.3 1.9 -.5 1.8M559.6 76.3l-1.2-1.4 -.9-1.7 -1.8-.6 0-1.9 .5-1.9 1.3-1.4 1-1.6 1-1.6M577.2 45.7l-.8 1.7 -.3 1.9 -1 1.6 -.9 1.6 -1.5 1.3 -1.8 .5 -1.3 1.4 -1.6 1 -.7 1.8 -.9 1.7M596.5 59.3l-1.8-.1 -.9-1.8 .5-1.8 .2-1.9 1.6-.9 1.9-.2 1.9-.1 1.9-.3 1.7-.8 1.6 1.1 1.8 .5 1.9 .6 1.4 1.2M544.6 96l1.8-.5 1.9 0 1.5-1.2 1.2-1.5 1.9 .1 1.7-.7M576.2 96.2l-1.6-1 -.3-1.9 -.4-1.8 -1.7-1 1.1-1.6M566.9 50.6l.4-1.8 -1-1.6M539.6 70.4l-1.2 1.5 -1.8 .4 .3 1.8 -1.7 .9 -1.5 1.1 -1.5 1.2 -1.1 1.5M554.6 79.1l-.7-1.8 -.1-1.9 0-1.9 1-1.6 -1.4-1.4 -1.2-1.4 .1-1.9 .3-1.9 -1.6-1.1 -1.2-1.4 -.9-1.7 .7-1.8M558 98.8l.4 1.9 .6 1.8 -.6 1.8 1.5 1.2 1.9 0 1.8 .7 .6 1.8 0 1.9 -.2 1.9M545.1 99.5l-1.5-1.2 -.9-1.7 -1.4-1.3 -1.4-1.2 -1.6-1M548.3 64.1l-1.9-.3 -1.6 1.1 -1.2 1.4 -1.7 .9 -1.8 .7 -1.4 1.3 -1.4 1.2 -1.8-.6 -1.7-.9 -1.9 .5 -1.6-1M598.6 74.7l1 1.7 .8 1.7 1.9 .1 1.9 .2 1.3 1.3 1.8 .7 1.1-1.5 1.3-1.3M605.3 53.1l.9 1.7 .7 1.8 .3 1.8 -.4 1.9 -.7 1.8 -1.4 1.3 -.7 1.8M565.5 78l1.5 1.2 1.8 .7 1.5 1.1 1.6 1 .9 1.7M552 63l-1.8 .5 -1.9-.3 -1.9 .3 -1.8-.6 -1.9 .3 -1.6 .9 -1.1 1.6 -.8 1.7 0 1.9 .2 1.9 1.3 1.4M551.6 81.3l-.7 1.8 -1.1 1.6 -.5 1.8 .6 1.8 .4 1.8 .1 1.9 .1 1.9 -.5 1.9 -1.9 .2M573.8 112.8l.2-1.9 1-1.7 1.6-1 -.5-1.9 -.8-1.7 .7-1.8M566.1 64.7l-.4-1.9 .1-1.9 .5-1.8 1.2-1.5 -.7-1.7 -.4-1.9M557 54.4l.2-1.9 -1.4-1.3M568.7 119.8l1.9 .2 1 1.6M568.7 59.9l.2 1.9 .9 1.6 1.5 1.1 1 1.6 1.4 1.3 1.3 1.4 1.8 .5 1.9-.4 1.6 1 1.6-1 1.5-1.1 1.3-1.4 1.4-1.4 1.7-.7M554 66.6l-.1 1.9 .3 1.9 -.6 1.8 .3 1.9 .7 1.8 1.1 1.5 -.4 1.9 -.4 1.8 .5 1.9 1.4 1.2M583.8 46.5l1.3 1.4 .5 1.8 0 1.9 .5 1.9 -.7 1.7 -1.4 1.3 -1.8 .7 -1.2 1.4 -1.2 1.5 -.3 1.8M579 74.6l-.1-1.9 -.2-1.9 -1.9-.3 -1.9-.4 -1.5-1.1 -1.7-.9 -1.5-1.1M547.5 59.5l1.2-1.5 1.2-1.5 1.5-1.1 .1-1.9 -.1-1.9M576.3 67.4l1.8 .7 1.7-1 .6-1.8 .7-1.8 .6-1.7 -.8-1.8 .3-1.9 .8-1.7 1.1-1.6 1.7-.7M554.7 89l-1.8-.7 -.9-1.6 -1.8-.6 -1.8-.8 -1.4-1.2 -1.9 .1 -1.9-.5 -1-1.6 -1.1-1.5M569.2 55.9l-1.3 1.4 1.4 1.3 1.6 1 1.8-.3 1.7-.9 1.3-1.4 .9-1.7M563.3 57.2l-1.9-.2 -1.7-.7 -.9-1.7 -1.2-1.5 1-1.6 1.6-1.1M566.7 90.1l-.1-1.9 .5-1.9 0-1.9 -.9-1.6 -1.6-1M588.5 62l-1.6-1.1 -1.3-1.4 -1.5-1.2 -1.5-1.1 -1.9 .5 -1.2-1.4 -1.9 .1 -1.6 1.1 -.8 1.7 .2 1.8 .1 1.9 .8 1.8 1.3 1.4M599.2 86l-1.2 1.4 -1.9 .4 -1.7-.9 -1.6-1 -1.9 0 -1.5 1.1 -1.8-.7 -1.5-1.2 -1.1-1.5 -.6-1.8 .4-1.9 -.3-1.8 -.2-1.9M561.1 107.9l-1.9-.4 -1.4-1.3 -.6-1.8 -.2-1.9 .2-1.8 -.2-1.9 1.3-1.4 1.7-.8 1.7-.9 1.7-.8 .9 1.7M578.8 107.1l1.9 .1 0 1.9 -.1 1.9 0 1.9 -1.3 1.3 -1.2 1.5 -1.2 1.5 -1.8 .5 -1.6 .9 -1.8-.6M607.7 67.8l1.5 1.1 1.9 0 1.6 1.1 1.2 1.4 .6 1.8 -.4 1.8 -.6 1.9M587.2 57.4l1.4-1.2 1.3-1.4 1.7-.9 1.9-.1M578.2 96.1l1.8-.3 1.9 .6 1.3-1.4 1-1.6 1.6-1.1 1.9-.4 1.8-.3 1.9-.3 1.4-1.3 .5-1.8 1.8-.8 1.3-1.3 .6-1.8M550 58.2l.4-1.8 .6-1.8 1.6-1 1.9 .3 1.8 .5M542.7 64.8l1.7-.8 1.9-.4 1.7-.8 1.5-1.1 1.6-1.1M578.7 96.1l-.3-1.9 -1.4-1.3 -.8-1.7 -1.8-.8 -1.9 .1 -1.6-1 -1.8-.6 -1.9-.1 -1.5 1.1 -1.8-.6 -1.4-1.3 -1.5-1.2 -1.5-1.1M594 82.2l1.3-1.5 .3-1.8 1.1-1.6 -.7-1.8 -.3-1.8 -1.9 0 -1.4-1.2 -.1-1.9 .7-1.8 .7-1.8 1.8-.4M535.8 73.4l-1.9 .3 -1.9 .1 -1.9 0 -1.9-.1M600.8 96.5l-1.6 1 -1.5 1.2 -.7 1.8 1 1.6M552.4 89.1l-.1 1.9 -.8 1.7 .4 1.9 1.3 1.3 .1 1.9 -.6 1.8 -1 1.7 -1.2 1.4M600.1 53.3l1.9-.3 1.8-.6 1.9 .3 1 1.7 .5 1.8 -.3 1.9M561.9 74.7l-1-1.6 -.5-1.9 .1-1.9 1.3-1.4 1.2-1.5 .6-1.8M594.1 90.9l-1.8-.5 -1.4-1.4 -1.8 .4 -1 1.7 1 1.5 .8 1.8 -.6 1.8 -.1 1.9 0 1.9M582.4 87.1l-1-1.7 -.8-1.7 -1.3-1.4 -1.9-.4 -1.9 .2 -1.7 .8M580 47.8l.4 1.8 0 1.9 1.5 1.2 1.6-1.1 1.7 .9 1.9 0 1.9-.1 1.9-.1 1.8 .6 1.1 1.5 1.9-.2 1.8-.6 1.7 .8 1.6 1.1M532.9 80.9l.3-1.9 -.9-1.6 -1.9-.4M599.8 99.1l1-1.6 -1.2-1.5 .5-1.9 -.4-1.8 .6-1.8 1.3-1.5M571 106.6l-.4-1.9 -.2-1.9 .3-1.8 1.2-1.5 1.4-1.2 .8-1.8 1.5-1.2 1.9 .2M564.1 81l-.1 1.9 -.4 1.9 -1.2 1.4 -1.7 .8 -1.6 1.1 -1.4 1.3 -.1 1.9 .6 1.8 1.3 1.4 .3 1.9M561.6 52.6l1.5 1.2 1.8 .7 1.2 1.4 1.9 .2 1.7-.9 1.9-.2 1.9-.3 1.9 0 1.8 .4 1.9 .2 1.5-1.1 1.9 .3M566.4 93.5l.8-1.7 .2-1.9 .5-1.8 .5-1.9 -.5-1.8 -.2-1.9 .4-1.8 .5-1.9 1.9 .4 1.9 .2 .7-1.8 1.4 1.3 1.4 1.3M580.9 57.1l-.1 1.9 -.3 1.8 -1.2 1.5 -1.7 .8 -1.7 .8 -1.7 .9 -1.9 .4M533.6 74.1l1.7 .9 1 1.6 -.7 1.8 -1.3 1.4 -1.4 1.3 -1.6 .9M610.4 79.2l-.4-1.9 .1-1.9 -.9-1.7 .3-1.8 .9-1.7 1.8-.5M598.3 77.6l-1.8 .6 -1.8 .5 -1.5 1.2 -1.9 0 -1.9 .1 -1.9-.3 -.3-1.9 -.7-1.7 -1-1.7M603.2 64.5l-1-1.6 -1.4-1.3 -.4-1.9 .2-1.9 1-1.6 1.2-1.5 1-1.6 1.4-1.2 1.9-.2M582 44.4l1.7-.7 1.7 .9M580 54.3l-1.5-1.2 -1.7-.9 -1.9-.2 -1.8-.4 -1.6-1.1 -.1-1.9 -1.5-1.1M601.9 59.7l.8-1.7 -.7-1.8 0-1.9 -.7-1.8 .5-1.8M549.5 100.2l-.8-1.7 .5-1.8 .6-1.8 1.9-.3 1.9-.4 1.6 1 1.5 1.1M570.7 104.5l.9-1.7 -.6-1.8 .6-1.7 .2-1.9 1.6-1M545.4 71.7l1.7-.9 1.4-1.2 1.6-1.1 1.7-.8 1.2-1.4 1.3-1.4 1.3-1.4 1.1-1.6 1.7-.8 .8-1.7 .8-1.7M607.5 75.7l-1.1-1.6 -1.2-1.4 -1.6-1.1 -1.7-.8 -.6-1.8 .5-1.8 -.7-1.8 -.4-1.9 -1.8-.5 -.9-1.7 -.8-1.7 -1.6-1 .3-1.9 .2-1.9M597.8 90.6l-1.9 0 -1.8 .7 -1.7 .7 -1.9 .5 -.9 1.6M558.3 67.8l1.7-.9 1.9 .1 1.7 .8 1.7 .9 1.9 0 .1-1.9 .8-1.8 1.2-1.4M594.2 93.2l-.2 1.9 .8 1.8 .6 1.8 -.2 1.9 -1.6 .9 -1.9-.5 -.6-1.8 -.2-1.9 .3-1.9 .2-1.9 1.3-1.4 .9-1.7M571.1 53.6l-1.2 1.5 -1.9 0 -1.3 1.4 .8 1.7 1.1 1.6 .9 1.6 .9 1.7 1.9-.1 1.3-1.4 1-1.6 1.6-1 1.9 .2M577.2 89.8l0-1.9 .3-1.8 .8-1.8 1.7-.8 1.8-.7 1.7-.8 1.9 .3 1.8 .4 1.9 .4 1.7-.8 1.6-1 1.6-1.1 1.8-.4M597.8 98l-1.6-1 -1.2-1.4 -1.3-1.4 -1.7-1 -1.2-1.5 -1.7-.8 -1.5-1.1 0-1.9 -.8-1.8 0-1.9 .6-1.8 .6-1.8 1.5-1.1M565.2 89.6l1.8 .6 1.9 .2 1.6-1.1 -.5-1.8 -.9-1.7 -1.3-1.4 -1.8-.6M531.8 71.9l-1.8-.6 -1.2-1.5 -1.7-.7M548.3 69.8l-1.3-1.3 -1.9-.4 -.7-1.8 -1.7-.9 -1.7-.8 -1-1.6 -1.5-1.1 -.4-1.8 -1-1.6M605 85.6l-1.7 1 -1.2 1.4 -1.2 1.5 -1.9 .3 -1.2 1.4 .4 1.9 .7 1.8 .5 1.8M574.9 67.1l1.4 1.2 1.2 1.5 1 1.7 1.8 .4 1.7 .8M566.4 109.4l-1.2-1.5 -.1-1.9 .5-1.9 -1.6-1 -1.8 .3 -1.7 .9 -1.3 1.4M537.5 86.6l1.2 1.4 1 1.6 1.7 .9 1.9-.2 1.1-1.5 1.5-1.2 1.9-.1 1.2-1.5 1.5-1.3 .6-1.8M584.4 64.2l1.9 .1 -.4 1.9 .7 1.8 .3 1.8 -.2 1.9 -.5 1.9 -.3 1.8M584.1 68.1l1.5 1.2 1.8 .6 1.8 .5 1.9 .2 1.8 .6 1.2 1.5 1.2 1.4 .8 1.7 1.4 1.3 1.5 1.3M560.8 97.7l-1.5-1.1 -.8-1.7 -1-1.6 .4-1.9 -1.5-1.2 -1.4-1.3 -1.9-.2 -1.6-1.1 1-1.6 1.3-1.4M551.8 55.7l.1-1.9 .3-1.9M535.6 67.5l1.9 0 1.7 .9 1.9 .3 1.9 .2 1.7 .7 1.6 1 1.7 .9 1.5 1.1 -.9 1.7M568.7 76.4l-1.9-.2 -1.1 1.6 -1.8 .5 -1.9-.3 -1.9 0 -.7 1.8 .5 1.8 1.4 1.3 -1.3 1.3 .1 1.9 .1 1.9M533.5 73.2l-.1-1.9 1.9-.2 1.4-1.3 1-1.6 1.2-1.5 1.6-.9 1.9-.4 1.5-1.2M539.5 57.5l-1.8 .5 -1.9 .2 -1.1 1.5 -.5 1.8 -.9 1.7 -1.4 1.3 -1.8 .6 -1.9-.3M543.8 77.6l-1.1-1.5 -1.7-.9 -1.5-1.2 -1.5-1.1 -1.8-.6 -.7-1.8 -1-1.6 -.5-1.8 .2-1.9M539.9 67.5l-.5 1.8 1.3 1.4 -.7 1.8 0 1.9 .7 1.7 1.1 1.5 .6 1.9M533.5 79.7l-1.8-.6 -1.8-.8M550.8 54.8l-.2-1.9 1.5-1.2 1.5-1.2M568.4 52.5l-1.8 .4 -1.8 .8 -1.5 1.1 -1.7 .8 -1.8 .7 -1.9 .2 -1.8 .2 -1.9 .4 -1.5-1.1M574.1 105l-1.6 1 .3 1.8 -.5 1.9 -1.7 .9 -1.7 .7M590.4 79.6l-1.8-.6 -1.6 .9 -1.7 .9 -1.2 1.5 -.3 1.8 1.2 1.5 1.2 1.5M547.5 90.7l-.1 1.9 1 1.6 1.5 1.2 1.2 1.4 .9 1.7 1.6 1 1.6 1.1 1.5 1.1 1.9 .4 1.6-.9 1.7-1 1.9 .2 1.9-.2M596.5 91.9l-.7-1.8 -.6-1.8 -.9-1.6 -1.9-.5 -1.6-.9M594.2 57l.2 1.9 -.8 1.7 .4 1.9 0 1.9 -.6 1.8 -1.5 1.2 -.4 1.8 -.9 1.7 -1.5 1.1 -1.3 1.4 -1.3 1.4 -1.6 1.1M583.8 75.5l1.5-1.1 1.1-1.6 1.2-1.5 .1-1.9 -1.8-.5 -1.9-.4 -1.9 0 -1.9-.2 -1.7-.7 -1.6-1.1 -1.7-.8 -1.7-.9M602.5 75.7l-.2 1.9 -.8 1.8 1.4 1.3 1.4 1.2 1.8-.6 1.7 .8 1.9 .3 1 1.6 1.3 1.4 .8 1.7M565.2 68.8l.7-1.8 .3-1.9 0-1.9 -.2-1.9 -.7-1.7 -.9-1.7 0-1.9 1.8 .4 .8 1.8 -1.2 1.4 -1.7 .9 -1.1 1.5 1 1.7M580 86.1l-1.9 .5 -1.8-.3 -1.9 .4 -1.9 .1 -1.9 .2 -1.8 .5 -1.9 .2 -1.8 .8 -1.8 .4 -.6 1.8 -1.6 1.1 -1.4 1.2 -1.3 1.4M590.1 81.2l1.9 .6 1.7 .7 1.4 1.2 1.8 .6 1.9 .5 1.9-.1 1.7 .8 .8 1.7 1.3 1.4 1.9-.2M597 100l.6-1.8 1.1-1.6 1.8 .5 1.8 .8 1.9 0 1.8-.7 1.7-.8 1.8-.6M582.3 91.8l1.8 .6 1.9 .3 1.6 1 1 1.6 .9 1.7M578.9 92l.2 1.9 -.3 1.8 -.5 1.9 0 1.9 .1 1.9 -.6 1.8 0 1.9 -1.3 1.3 -1.4 1.3M598.9 62.9l-1.9 .5 -1.8 .4 -.9 1.6 -1.1 1.6 -1.7 .8 -1.9-.4 -1.4-1.3 .1-1.9M571.9 95l.6-1.8 .2-1.9 .4-1.9 1.2-1.4 .8-1.8 1.3-1.4M550.2 55.3l1.8 .5 1.2 1.4 1.3 1.4 .1 1.9 -.5 1.8 -1.7 .9 -1.6 .9 -.8 1.7 -1.4 1.2 -1.4 1.4 -1.6 1 -1.3 1.4 -.5 1.8M537.9 81.6l.5 1.9 1.1 1.5 -.1 1.9 .6 1.8 -.2 1.9 1.3 1.4M582.2 104.5l-1.6-1.1 -1.8-.4 -1.8 .6 -1.8 .7 -1.3-1.4M531.5 75.3l1.3-1.4 -.5-1.8 -.2-1.9 .1-1.9 -.6-1.8 1.8-.7 1.3-1.4 1.5-1.2 1.9-.1 1.5 1.2 1.3 1.3 1.5 1.2 1.5 1.1 1.7 .9M603.8 52.6l-1.9-.1 -1.3 1.4 -1.4 1.2 -1 1.7 -.6 1.8 -1 1.6 -1.5 1.1 -.4 1.9M576.8 86.2l-1.9-.4 -1.7 .8 -1.1 1.6 .3 1.9 .4 1.8 1.3 1.4 1.7 .8 1 1.6 .1 1.9 -.2 1.9 -1.3 1.4 -1.7 .7M593.8 65.1l-.4 1.8 -.8 1.8 .1 1.9 1.2 1.4 .9 1.7M585.7 66.7l.6-1.8 -1-1.7 -.5-1.8 1.4-1.3 .2-1.9 1.1-1.5 1.6-1.1 1.7-.9 1.6-1.1 1.8 .4 1.8 .6 1.9-.3 1.9-.3M573.1 69.2l.2-1.8 -.4-1.9 -.9-1.7 -.8-1.7 -.3-1.9 .5-1.8 .1-1.9 1.9-.3 1.8 .7 1.3 1.3M554.1 70.1l.4 1.8 -.3 1.9 .6 1.8 .7 1.8 1.5 1.2 1.9-.1 .8 1.7 0 1.9 -1.2 1.5 0 1.9 -.9 1.7 -.4 1.8 -1.1 1.5 -1.7 1M600.1 78.7l-1.9-.1 -1.7-1 -1.7 .7 -1.4 1.3 -1.6 1.1 -1.3 1.4 -1.6 1 -1.9-.2 -1.8 .3 -1.9-.4M544.7 71.3l-.7-1.8 -1-1.7 -.2-1.8 .5-1.9 -.3-1.9M534.5 80.3l.4 1.8 -.2 1.9 -1 1.6M571.3 46.5l1.2-1.5 .9-1.7M587.4 91.8l1.5-1.1 .8-1.7 1.2-1.5 1.5-1.1 1.5-1.2 1.6-1.1M552.9 69.2l1.1-1.6 1.3-1.3 1.2-1.5 1.3-1.4 1.8-.5M606.7 72.1l-1 1.7 0 1.9 .5 1.8 -.7 1.8 .5 1.9 -.1 1.9 .2 1.9 .9 1.6M585.4 93.4l-1.8 .6 -1.5 1.2 -1.8 .4 -1.7 .9 -1.7 .9 -1.4 1.2 -1.4 1.3 -1.3 1.4 -1.1 1.6 -1 1.5 -1.1 1.6 -1.4 1.3 .8 1.7M594.2 78.3l-1.6-1.1 -.4-1.8 -.3-1.9 0-1.9 0-1.9 1.3-1.4M591.7 90.3l1.4-1.2 1.9-.2 1.8-.6 1.7-.9 1.3-1.3 1.8-.8 1.8-.4 1.1 1.6 1 1.6 -.2 1.9M592.3 91.2l1.9 .4 1.6 .9 1.7 .9 1.6 1 1.6-1 1.5-1.2 -.7-1.8 -.5-1.8 -1.2-1.5M539.4 76.1l-1.1 1.5 -1.1 1.6 -.6 1.8 -.7 1.8 -1.9 0 -1.7 .7M585.9 67.1l1 1.6 1.4 1.3 1.5 1.2 1.4 1.3 1 1.6 .7 1.8 .5 1.8 .5 1.8 -.1 1.9 .6 1.8 .9 1.7 .4 1.8 .9 1.7 1.6 1.1M553.1 52.9l-1.8-.3 -1.9-.3 -1.9 .1 -1.4-1.3M544.8 94.6l1.1-1.5 1.3-1.4 .9-1.7 1.2-1.5 1.4-1.2 .3-1.9 .4-1.9 -.7-1.7 -.6-1.8 .1-1.9 1.2-1.4 1.9-.5 1.3-1.4M557.8 58.6l-.3 1.8 1.7 .9 1.9-.2 1.8-.5 1.8-.5 1.3-1.4 .3-1.9 1.9-.1M560.5 105.6l1.8-.7 1.8-.6 1.9 .2 1.9 .3 1.8-.1 1.8-.6 1.5 1.2 .1 1.9 -.4 1.8 .1 1.9 -.4 1.9 -1.8 .6 -1.4 1.3M544.5 50.9l-1.6 1.2 -1.6 .9 -1.2 1.5 -1.3 1.4 -1.2 1.4 -1 1.7M606 76.5l-1.9 0 -1.6-1.1 -1.9-.2 -1.7-.8 -1.7-.8 -1.4-1.3 -.4-1.8 .5-1.9M549.5 57.1l1 1.6 1.3 1.3 .1 1.9 -.6 1.8 -.9 1.7 -1.6 1.1M560.3 90.1l1.8 .4 1.3 1.5 1.5 1 1.8 .6 1.9 0 1.5 1.3 1 1.6 .3 1.9 -.8 1.7 -.2 1.9 0 1.9M554.9 78.6l-1.9 .3 -1.9 .1 -1.7-.9 -1.9-.1 -1.7-.7 -1.9-.3 -1.7 .8 -1.9 .5M611.3 58.7l-1.9 .4 -1.9 0 -.9-1.7 -1.4-1.2 .2-1.9 -1.4-1.3 .2-1.9M606.5 71.8l1.9 0 .3-1.9 .4-1.8 1-1.7 -.1-1.9 -.2-1.8 -1.5-1.2 -1.8 .4 -1.9 .5 -1.7 .8 -1.8 .5 -1.9 .5 -1.5 1.2 -1.6 .9M573.8 98.9l-.2 1.9 1.5 1.1 1.5 1.2 1.1 1.6 1.5 1.1 1.5 1.2 1.3 1.4M550.1 70.4l.4 1.9 -.8 1.7 .2 1.9 1.1 1.5 1.1 1.6 1.4 1.2 1.3 1.4 1.6 1.1M551.6 55.8l.5-1.9 .2-1.9M586.1 77.7l-1.4 1.3 -1.9-.1 -1.9 .4 -1.8-.6 -1.6-1 -.3-1.9 .4-1.9 .2-1.8 .7-1.8 1.4-1.3 -.1-1.9 -.3-1.9M527.3 68.7l1.3 1.4 .9 1.6 1.2 1.5 1.9-.1 1.9-.3 1-1.6 1.1-1.6 1.9 .1M547.9 67.3l-1.8-.6 -.4-1.8 -.6-1.8 -.4-1.9 -1.5-1.1 -1.8-.7 -1.4 1.2 -1.6 1.1 -1.1 1.5 -1.3 1.5M600.6 64.7l.5-1.9 1.6-1 1.6-1.1 1.2-1.4 .9-1.7 1.2-1.4M573.4 78.8l1.2 1.5 .6 1.8 1.3 1.4 1.8 .4 1.9 .5 1.7 .6 1.8 .8M580.1 70.1l.5-1.9 -.8-1.7 -.7-1.8 .7-1.8 .3-1.9 -.4-1.8 -.8-1.8 -.7-1.7 -1.1-1.6 -1.8-.7 -1.6-1 -.2-1.9 -.1-1.9 -.7-1.8M599.6 91l-.7-1.8 .2-1.9 -.7-1.7 -.9-1.7 .9-1.7M604.5 57.2l1.9-.3 1.6 1 1.9 .3 1.7 .7 1.9 .5 1.7-.6M578.2 104.5l.1-1.9 -.6-1.9 -1.4-1.2 -.6-1.8 -1.1-1.6 -1.8-.6 -1.5-1.2 -1.3-1.3 -1.9-.2 -1.1-1.6 -1.6-1.1 -1.7-.6 -1.9 .2 -1.9 .5M606.8 72.8l.5 1.8 -1.2 1.5 -1.3 1.3 .5 1.8 1.6 1.1 1.8 .4 1.5 1.2 1.4 1.3M574.3 45l-1.7 .7 -.3 1.8 1.6 .9 1.7 .9 .2 1.9 -1.2 1.4 -1.4 1.4M552.6 81.8l-1.8-.6 -1.9 .2 -1.5-1.1 -1.9-.1 -1.4-1.4M574.9 50.4l.6-1.8 1.5-1.1 .6-1.9 1.6-.9 1.2-1.5 1.8 .6 1.1 1.5 .6 1.8M540.1 54.4l.8-1.7 .9-1.6 1.2-1.5M610.1 71.4l.8-1.7 -.3-1.9 -1.2-1.4 -1.8-.7 -1.6-1.1M606.8 69.6l.2 1.9 1.4 1.3 1.5 1.1 .6 1.8 1.2 1.5 1.2 1.5 1.7 .7 1.9 .4M553.2 100l-1.9-.4 -1.5 1.1 -.1 1.9M606.7 59.5l-.8-1.7 .1-1.9 1.8-.6 1.5 1.1 1.5 1.2 1.7 .9 1.7 .7 1.8 .7M567.1 65.4l-1.9-.5 -1.8-.4 -1.9-.3 -1.7-.9 -1.7-.7 -.4-1.9M561.9 99.8l-.8-1.7 -1.9-.5 -1.8 .6 -1.8 .5 -.1 1.9 -1.6 1 -.7 1.8M615.7 81.3l-1.6-1.1 .3-1.8 .5-1.9 .1-1.9 -.3-1.9M538.6 66.9l1.9 .1 1.9-.4 1.9 .4 1.6 1 1.4 1.2 .8 1.7 1.8 .7 1.9 .3 1.8 .5M572.5 64l-.5-1.9 -1.5-1.1 -.7-1.8 -.6-1.8 -1.3-1.4 -1.2-1.5 -.1-1.9 .4-1.8 1.1-1.6 1.4-1.3M571 49.7l1.6-1.1 .8-1.6 1.1-1.6 1.4-1.4 1.7-.8 1.4-1.2 1.8 .5 1.5-1.2M560.7 104.6l-.4 1.9 -1.8 .6M553.4 65.5l1.3-1.4 1-1.6 1.5-1.2 1.6-1 .7-1.8 .5-1.8 .3-1.9M558.7 79.2l1.5-1.2 1.8-.6 1.9 0 1.3-1.3 1.4-1.3 1.8-.8 1.6-1 1.1-1.5M577.7 98.9l-1.7 .8 -1.6 1.1 .5 1.8 -.1 1.9 .6 1.8 .7 1.7 1.7-.8 1.8-.4 1.9 0 1.8-.8M563.8 104.3l-1.8 .5 -1.7-.9 -1.8-.4 -1.4-1.3 -1.9-.4 -1.1-1.6 -.4-1.9 -.4-1.8 1.3-1.4M608.4 79.2l1.1-1.6 1.8-.6 1.6 .9 1.9 0 1.8 .7M547.5 85.8l1.5-1.2 1.8 .6 1.3 1.4 .9 1.7 .4 1.8 .5 1.8 .8 1.8 .8 1.7 1.4 1.2 1.2 1.5M533.3 77.2l1.8-.6 1.6-1 1.8-.7 0-1.9 -.2-1.9 -1.1-1.6 -.3-1.8 1.3-1.4 -1-1.6 -1.8-.6 -1.7-1 -1.8-.2M567.4 98.7l1.8 .3 .8-1.7 .2-1.9 .6-1.8 -.6-1.8 -.1-1.9 -1.7-.7 -1.9 .2M591.1 92.1l1.1 1.5 1.8 .5 1.8-.4 1.8-.8 1.8-.7 1.7-.7 1.8 .7 1.6 1.1 .9 1.6M562.8 51.8l-.2 1.9 -.6 1.8 -1.6 .9 -1.8 .8 -1.5 1.1 .4 1.8 -1.3 1.4 -1.6-1 -.2-1.9 -.7-1.8 -.4-1.8 -1.3-1.4M550.3 58l-.5-1.8 -1.3-1.4 -1.8-.5 -1.7-.9 -.7-1.7 0-1.9M564.3 57.5l-.3 1.9 -.8 1.7 -.5 1.9 .8 1.7 .2 1.9M574.3 44.3l-1.1 1.6 -1.6 .9 -1.6 1 -.9 1.7 .8 1.8 1.4 1.3 1.4 1.2 1.7 1 1.7 .7 1.6 1.1M605 66.2l1.9 .2 1.7 .9 1.8 .7 1.4-1.3 1.9-.4M584.2 69.9l-1.8-.6 -1.9-.4 -1.7-.7 -1.8 .7 -1.7 .8 -1.9 0M596.7 75l1.1 1.6 1.2 1.5 -.4 1.8 -.2 1.9 -.2 1.9 .4 1.9 .7 1.7 1.2 1.5 1.9 .5 1.5-1 .7-1.8 .4-1.9 -1.9 .4M580.3 55.4l1.6-1 1-1.7 1.8-.3 1.9-.5 1.4-1.2 1.6-1.1M574.2 84.5l-1.2-1.4 -1.2-1.6 -1.8-.4 -1.9-.3 -1.8-.6 -1.9-.3M601.1 65.5l-.3 1.9 -1.1 1.5 -1.6 1 .4 1.9 .9 1.7 1 1.6 1.8-.5 1.9 .2 1.6 1.1 1.2 1.4 1.3 1.4 -.1 1.9 -.1 1.9M542 84.1l-1.8 .7 -1.9 .2 -1.5-1.1 -1.4-1.3 -1.5-1.2 -1.8-.6M560.6 61.6l.1-1.9 .2-1.9 -.3-1.9 1.2-1.4 -1.2-1.5 -1.2-1.4 -1.9-.3 -1.9 .1 -1.6-1M548 88.5l-1.5-1.1 -1.9-.1 -1.9 .3 -1.9-.1 -1.5-1.1 -1.3-1.4 .8-1.7 .1-1.9 -.2-1.9 -.8-1.7 -1.3-1.4 -.9-1.7 -1.8-.4 -1.6-1M544.6 92.1l-.7-1.7 .9-1.7 1.6-1 1.6-1 1.9 0 1.6 1.1 1.9-.2 1.9-.1 1.8 .4 1.8 .5 1.9 .6 1.6-.9M610.6 76.4l-1.4-1.3 -1.1-1.6 -1-1.6 .7-1.8 -1.2-1.5 -1.8 .6 -1.9 .4 -1.5-1.2 -1.8-.5 -.1-1.9 1.7-1M585.7 82.2l-1.3-1.3 -1.9-.6 -1.1-1.6 1.6-1.1 1.8 .2M567 101.9l1.7 .8 1.8 .8 1.8-.4 .9 1.6 1.2 1.5 -.3 1.9 -.4 1.8 -.3 1.9 .6 1.8 .5 1.8 .3 1.9 .7 1.8 .7 1.7 1 1.7M581.3 79.9l1.9-.1 1.3-1.4 .3-1.9 1.3-1.5 -.2-1.8 .6-1.8 1.7-.9 1.6-1M538.3 86.4l-1.9 .1 -1.7-.9 -1.8-.4M570.7 90.6l.7 1.8 1.8 .7 1.8 .4 1.7 .9 1.1 1.5 -1.4 1.3M572.7 64.5l-1.7-.7 -1.9 .4 -1.8-.5 -1.9-.1 -1.6-1 -1.4-1.3M589.6 59.5l-1.5-1.1 -1.4-1.3 -1.6-.9 -1.6-1.1 -1.3-1.4 -.5-1.8 -.9-1.8 -.8-1.7M596.1 74l0 1.9 .2 1.9 1.3 1.4 1.9 .1 1.8 .7 1.3 1.3 1.8 .8M554.2 68.2l1.9-.1 1.8-.5 1.8-.8 1.8 .5 1.2 1.4M558.9 95.7l1.4 1.3 1.4 1.3 1 1.6 .4 1.9 1.3 1.3 .7 1.8M613 55.8l1.6 1 1.6 1M594.8 75.7l-1.9 .1 -1.6-.9 -1.2-1.6 -1-1.6 -.7-1.7 .9-1.7M534.9 57.8l-1.4-1.3 -1.5-1.2 -.5-1.9 -1.4-1.2M567.5 100.9l-1.5 1.2 -1.5 1.1 .9 1.7 1.9 .1 1.8 .6 1.8 .6 1.4-1.3 1.7-.7M579.8 48.5l-1.5 1.1 -1.4 1.3 -1.2 1.5 -1.1 1.6 -1.5 1.1 -1.7 .8 -1.9 .1 -1.5-1.1 -1.5-1.2 -1.9 .1M551.1 66.5l1 1.6 .1 1.9 .3 1.9 .2 1.9 .2 1.9 .2 1.8 -1.1 1.5 -1.9 .1 -1.9 .1 -1.9 .2 -1.9 .1 -1.6-1 -1.2-1.5M544.4 92.7l1.8 .3 .2 1.8 -.9 1.7 -1.3 1.4M556.7 60.9l1.6 1.2 1.8 .6 1.7 .7 1.3 1.5 1.9 0 1.7 .7M546.6 59l-1.7 .9 -1.8 .5 -1.2 1.5 -1.5 1.1 .4 1.9 .5 1.9 -1 1.6 0 1.9 1.4 1.2 1.7 1 1.3 1.3 -.5 1.9 -.3 1.8M578.2 70.4l-.1 1.9 -.3 1.8 1.6 1.1 1.9 0 1.8-.6 1.6 1 1.2 1.4 .8 1.8 .2 1.9 1.7 .8M587.5 66l-1.1 1.5 -.4 1.9 -.3 1.9 .6 1.8 .8 1.7 -.4 1.8 -.6 1.9 -1.4 1.2 -.5 1.8M568.1 111.6l1.9 .1 1.8-.7 1.3-1.4 1-1.6 -1-1.7 -.4-1.8 .1-1.9 -1.1-1.6M540.1 83.4l.8 1.8 .1 1.9 1.1 1.4 .2 1.9 0 1.9 1.7 .8 1.8-.7 1-1.6 .8-1.7 .4-1.9M540.7 59.7l.4 1.9 .7 1.8 -.2 1.9 -.6 1.8 -1.9 0 -1.3-1.4 -.2-1.9 -.2-1.9 .6-1.8M559.6 66.9l.7-1.7 .9-1.7 0-1.9 1.4-1.3 1.1-1.5 .3-1.9M540.5 68.6l.2 1.9 -.7 1.7 -.3 1.9 -1.4 1.3 -1.1 1.6 -1.3 1.4 -1.4 1.2 -1.5 1.2 -1.8 .5M550 65.3l.3 1.9 .2 1.8 -.8 1.8 -1.3 1.4 -1.4 1.3 -1.6 1M577.1 47.7l-1.9 .1 -1.7 .9 -1.9-.3 -1.9 0 -1.8 .3 -1.7 1 -1.3 1.3 -1.5 1.2 -1.6 1 -1.9 .2 -1.6-1.1 -.5-1.8M579 88.8l-.9 1.7 -1.2 1.4 -1.1 1.6 -1 1.6 .2 1.9 -.2 1.9 .2 1.9 -.1 1.9 .3 1.8 1.2 1.5M585.5 55.2l-1.9 .6 -1.8 .4 -1.9 .2 -1.9 0 -1.9-.4M550.9 76l-1.4 1.3 -1.9-.2 -1.6-1.1 -1.8 .1 -1.8-.7 -1.7-.9M612.4 71.6l-1.8-.7 -1.1-1.5 .7-1.8 1.6-1.1 1.3-1.4 .6-1.8 .5-1.8 1.9-.3M568.6 86l-1.7 .8 -.4 1.9 .1 1.9 .4 1.8 -.6 1.8 -.6 1.8M610.7 79.9l1.7 .9 1.7 .9 1.1 1.6M572.3 119.1l1.3-1.4 -.7-1.8 .4-1.8 .7-1.8 1.1-1.5 1.7-1M567.2 86.9l1-1.6 .9-1.7 1.5-1.1 1.9-.4 -.1-1.9 -1.4-1.3 -1.6-1 -1.3-1.3 -1.3-1.4 -.9-1.7M594.4 85.9l-.3 1.9 -1.4 1.3 .2 1.9 -.3 1.8 -.9 1.7 -.4 1.9 1 1.6 1 1.6 .9 1.7 1.5 1.1M573.9 112.6l-1 1.7 .1 1.9 .1 1.9 .1 1.9 1.6 1 1.2 1.5 1.9 0M571.5 102.3l-.9 1.6 -1.4 1.4 -1.6 .9 -1.4 1.3 -1.6 1 -1.9 .4M575.8 51.9l.6-1.9 -.1-1.9 -.2-1.8 -.4-1.9 -1.5-1.2M555.8 97.2l1.4 1.3 1.8 .5 1.7 .8 1.8 .8 1.8 .6 1.7 .7 1.2 1.5 .4 1.9 -.5 1.8 -1.8 .7 -.8 1.7 -.7 1.7M584.1 52.4l-1.9 0 -1.7 .8 -1.4 1.3 -.3 1.9 -1.7 .8 -.5 1.9 -.2 1.9 -.6 1.7 -.1 1.9 1 1.7 1.3 1.4 1.8 .6 1.6 1 0 1.9M598.5 58.4l.1-1.9 1.2-1.4 1.9-.3 1.8-.5 1.8-.7 1.8-.7M567.5 77l1.9 0 1.2 1.5 1.4 1.2 1.7 .9 1.8 .7M540.4 78.5l1.9-.4 1.7-.8 1.9 .3 1.9-.4 1.9-.2M553.2 66.5l1.9 .4 1.8 .5 1.9-.2 .9-1.6 .7-1.8M571.4 70.5l1.9 0 .7 1.7 1.6 1.1 .9 1.7 -1.5 1.1 -1.8 .6 -1.8 .7 -1.1 1.5 -.5 1.9 -.7 1.7 .4 1.9 1.3 1.4 -.1 1.9 .5 1.8M577.1 61.7l.1 1.9 1.6 1.1 .9 1.7 1.2 1.4 0 1.9 -.9 1.8 .3 1.8M565.6 60.4l1.9-.1 1.8-.4 1.9-.3 1.5-1.2 .8-1.7 -1-1.6M572.2 79.5l-1.9-.1 -1.7-.8 -1.8-.6 -1-1.7 -1.3-1.4 -1.6-1 -1.6-.9M600 53.6l.6-1.8 1.3-1.4 1.6-1M575.3 83.8l-1.7-1 -1.8-.2 -1.9 0 -1.9-.3 -.7-1.8 -1.4-1.3 -1.9 .4 -1.6-1.1 -1.6-1 -1.5-1.2 -1.3-1.3 -1.8-.6M568.8 72.9l-1.7-1 -1.6-1.1 -1.5-1.1 -.8-1.7 -1.8-.6 -1.8-.5 -1.9-.5 -1.8 .5 -1.9-.1 -1.5-1.1 -1.4-1.3 -1.3-1.4 -1.8-.8M612.2 84.1l-1.8-.3 -1.3 1.4 -.2 1.9 -.9 1.7 .2 1.8 -.6 1.8 -1.3 1.4M600.6 96l1.9-.1 1.8-.3 1.9-.3 1.8 .6 .8 1.7 -.7 1.8 -.8 1.8M609.8 81.8l-1.9-.1 -1.9-.5 -1.6-1 -1.8-.5 -1.8 .6 -1.3 1.5 -1.8 .4 -1.8 .6M604.9 76.2l-1 1.7 .8 1.7 .6 1.8 .2 1.9 -.3 1.8 0 1.9 -.9 1.7 -1.1 1.6 -.7 1.7 -1.2 1.4 -1.6 1.1 -1.9 .1M569.4 119.2l-.3-1.9 .5-1.8 .8-1.8 1.5-1.1 1.8-.6M574.8 100.2l-1.8-.6 -1.7-.9 -1.7-.9 -1.8-.4 -1.9-.5 -.2-1.8 -.7-1.8 .1-1.9 .6-1.8 1.7-.9 1.6-1M561.9 91.3l-1.4 1.3 -1.7 .8 -1.8 .8 -1.5 1 -1.6 1.1 -1.7 .8M586.9 75.4l1.8 .6 1.8-.5 1.7-.9 1.5-1.3 1.7-.8 1.8-.6 1.5 1.1 1.3 1.4 1.3 1.4 .5 1.8 -.7 1.8M587.8 49.7l1.7 1 1.7 .8M545.4 86l1.9 .4 1-1.6 1.4-1.3 1.9 0 1.2 1.4 1.6 1.1 0 1.9 1 1.6 1.9 .2 1.9 .2 1.8-.7M565.4 58l1.5-1.3 1.2-1.4 1.1-1.5 1.8-.8 1.7-.8 1.8-.5 1.9 .3 1.8 .4 1.9 .1 1.9 .5 1.7 .7 .7 1.8 -.2 1.8 -1.7 .8M553.3 76.5l-1.5 1.1 -1.9 .2 -1.9-.3 -.5-1.8 .7-1.8 .5-1.8 -.3-1.9 -1.1-1.6M595 76.8l0-1.9 -.9-1.7 -1.9-.1 -1.9 .2 -1.1 1.6 -1.6 .8 -1.7 1 -1.8 .5 -1.9 .2 -1.9-.3M539.3 51.3l1.9-.3 .9-1.7M553.8 85.3l-.6-1.8 -1.6-1 -1.9-.3 -1.8-.5 -1.9 .4 -1.9-.3 -.5-1.8 -.1-1.9M569.7 105.4l1.8-.6 1.9-.2 1.7 .8 1.8 .7 1.6 .9 1.6 1.1 1.7 .8 1.9-.4 .3-1.9 -1-1.6 -1.1-1.5 -.7-1.8M608 87.6l-1.6-1 -1.6-1 -1.9 0 -1.8 .6 -1.7 .9 -1.9-.2 -.9 1.6 -1.7 .9 -1.6 1.1M570.5 111.1l1.6-1.1 1.7-.7 1.8-.8 1.6 1 1.8-.7 1.5-1.2 1.8-.6 1.8 .6M564.9 71.2l-.5 1.8 -1 1.6 -1.2 1.5 -.8 1.7 -1.2 1.5M585.5 77.3l.9-1.7 .4-1.8 -.4-1.9 .4-1.9 .7-1.7 1.1-1.6 1.4-1.3 .4-1.8 1.1-1.6 1.7-.7M608.8 90.3l1.8 .6 1.9-.1M593 93.5l1.2 1.4 .4 1.9 -.4 1.8 -.9 1.7 -.6 1.8 -1.2 1.5M569.3 62.8l-1.8-.7 -1.7-.8 -.8-1.8 -.4-1.8 .7-1.7M541.6 58.8l-1.5 1.2 -1.8-.5 -1.8-.8 -1.9 .1 -1.7-.8 -1.9-.1 -1.4 1.2M595.5 87.4l0 1.9 -1.6 1 -.5 1.9 -1.8 .5 -1.8-.3 -1.8 .7 -1.3 1.3M612.2 59.1l.8 1.7 1.5 1.1M560.2 92.3l1.3-1.4 1.6-.9 1.6-1.1 .6-1.8 1.2-1.5 1.9 .4 1.3-1.4 1.4-1.3 1.8-.7M574.6 52.5l.8 1.8 .3 1.8 1.4 1.3 1.1 1.5 1-1.6 .5-1.8 1.2-1.5 .8-1.7 1.3-1.4 0-1.9 .2-1.9M545.1 97.5l1.6 1.1 1.1 1.5 1.7 .8 1.8 .7 .3 1.9M549.6 60.1l-1.7-1 -1.7-.7 -1.8-.7 -1.5-1.2 -1.4-1.2M568.4 59.7l-.7-1.8 -.8-1.7 0-1.9 1.4-1.3 1.6-1.1 1.5-1.1 1.9 0 1.4 1.2 1.2 1.5 1.6 1.1M560.4 90.2l-1.9-.3 -1.8 .7 -1.7-.8 -.6-1.7 .2-1.9 1.2-1.5 1.2-1.4 1.6-1 1.7-.8 1.9-.4 1.9 0M535.4 61.1l1.3-1.4 1.2-1.5 -1.5-1.1 -1.9-.5 -1-1.6 -1.3-1.5 -1.3-1.4 -1.2-1.4M530.3 67.9l1.6-1 .9-1.7 -1.1-1.5 -1.2-1.5 .8-1.7 1.3-1.4 1.5-1.1 1.8-.7M575.8 51.5l-1.5-1.1 -1.5-1.3 -.2-1.8 .1-1.9 -.3-1.9M568 58.6l0-1.9 .3-1.9 1.1-1.6 1.8 .6 1.9 .3 1.7 .9 1.8 .5 1.9-.4 1.9 .1 1.4 1.3 1.8 .6 1.8-.4M546.8 78.9l.1 1.9 .2 1.9 1 1.6 .8 1.7 .5 1.8 1.7 .7 1.7 .9 1.7-.9 1.8 .6 1.7 .8 1.4 1.3 1.8 .6 .4 1.9 0 1.9M576.9 65.2l-.8-1.7 .6-1.8 .7-1.8 .4-1.9 -.1-1.9 -.5-1.8 -.6-1.8 -1.5-1.1 -.9-1.7 -1.3-1.4 -1.5-1.2 -1.8 .1M589.7 91.5l-.2 1.9 -.8 1.7 -1.8-.6 -1.8-.7 -1.9-.4 -1.5-1.1M611.2 80l-1.9 .2 -1.9 .1 -1.8 .4 -1.8 .8 -1.1 1.5 -.8 1.7 -.9 1.7 .7 1.7 1.6 1.1 1.9-.5 1.4-1.2 1.6-1 1.9-.1M591.2 56.5l-.5 1.8 -.2 1.9 -1.4 1.4 -.9 1.6 .5 1.9 0 1.9 .8 1.6 -.4 1.9 .2 1.9 1.9 .3 1.7-.8M579.7 83.7l1.8 .4 1.9 .1 1.7-.9 1.3-1.3 1.8-.7M560.1 62.1l.4 1.9 .1 1.9 -.8 1.7 -1.7 .8 -1.9 .3 -1.7-.9 -1.7 .9M583.4 58.8l1.7-.9 1.8-.4 1.7-.8 1.5-1.2 .8-1.7 1.7-.8M574.6 49.2l1.8-.5 1.8-.8 1.7-.7 .5-1.8 -.9-1.7 .5-1.8M568.6 79.8l-.7 1.8 -.6 1.8 0 1.9 -.4 1.8 .5 1.9 .6 1.8 .9 1.7 1.6 1 .9 1.7 -.6 1.8 -.4 1.8M597.5 71.4l.2 1.9 1.8 .5 .4 1.9 0 1.9 -.3 1.8 .5 1.9 1.4 1.3 1.8 .7 1.9 .2 1.8 .4 1.7-.9M569.2 69.2l.3-1.8 .6-1.9 .9-1.6 1.2-1.5 -.7-1.8 .7-1.8 -.1-1.9 1-1.6M569.9 81.9l1.9 .5 1.2 1.5 1.8 .3 1.9-.2 1.9-.4 1.1-1.5 .7-1.8M577.9 87.7l.3 1.9 -.3 1.9 -1.8 .7 -1.6 .9 -1.9 .1 -1.7-.9 -1.1-1.6 -1.2-1.4 .2-1.9 -.9-1.7 0-1.9 -1.8-.6 -1.9-.2M542.1 86.6l-1.8-.5 -1.1-1.6 -1.7-.8 -1-1.6 -1.7-.9M571.2 118.8l1.7-.8 .4-1.9 -1.1-1.6 -1.8 .3 -1.7-1 -1.7-.7 -1.2-1.5 -.8-1.7 -1.1-1.6 -1.9-.2 -1.7-.8 -1.8-.6 -1.8-.5M565.5 67.4l-1.2 1.5 -1.9-.1 -1.8-.5 -1.9-.4 -1.3-1.3 -.6-1.8 -1.8-.8 -1.7-.8 -1.9-.2 -1.3-1.4 .2-1.8M577.1 63.9l-1.5 1.2 -.4 1.8 -1.5 1.2 -1.5 1.1 -1.8 .4 -1.5 1.2 -1.9 .4 -1.7 .7 -.8 1.8 -1.8-.8 -1.1-1.6M586.3 82.9l-.7 1.8 -1 1.5 -.9 1.8 .5 1.8 -1.4 1.3 -.2 1.9 -.3 1.9 -1.9-.6 -1.4-1.3 -1.9 0 -1.3 1.4 -1.6 1 -1.7 .7M607.5 70.7l-1.1 1.5 -.4 1.9 .8 1.7 1.2 1.4 1.3 1.4 1.9 .4 1.8 .5 1.6-1M554.1 95.8l1.8 .7 1 1.6 -.8 1.8 -1.2 1.4 -1.7 .8 -.9 1.7M578.7 110.6l-1.5 1.1 -1.9 0 -1.6 1.1 -1.5 1.2 -1.7-.8 -1.8 .4 -.5 1.8M552.2 68.7l1.2-1.4 1.7-1 .7-1.8 .9-1.6 -.7-1.8 -.7-1.8 -1.9-.4 -1.8 .7 -1.8-.4 -1.6-1.2M547.2 93.3l-1.5-1.1 -.1-1.9 1.7-.8 1.8 .5 1.6-1.1 1.7 .8 1.9-.3 1.8 .3 1.9-.2 1.9 .2 1.9 .2 1.5 1.1M564.9 99.9l-1.5 1.2 -1.3 1.4 .5 1.9 -.1 1.9 1.9 .2 1.9 .1M545.4 82.8l-1.7-.7 -1.5-1.2 -1.8-.6 -1.6-1.1 -1.2-1.4 -1.2-1.6M538 68l-.3 1.9 -1.1 1.6 -.8 1.7 -.9 1.6 -.2 1.9 -1.3 1.4 -1.8 .6 -.7 1.8 .6 1.8 1.3 1.4 1.3 1.4M552.3 99.3l-1.8 .5 -1.8-.7 -1.6-.9 -1.6-1.1 -1.5-1.2 -1.4-1.2 -1-1.6 -.4-1.9 .3-1.9 1.9 .3 1.9 .3 1.9 .2 1.6 .9 1.9 .5M594.1 80.2l-1-1.5 -.3-1.9 .7-1.8 .3-1.8 .8-1.8 -.3-1.8 1.2-1.6 1.7-.6 .1-1.9 -1.6 .9 -1.6 1M571.1 78.1l-1.8-.6 -1.9-.1 -1.1 1.5 -.5 1.8 -.6 1.9 -1.3 1.3M588.8 54.4l-.6 1.8 .5 1.8 .6 1.8 1.1 1.6 1.8 .7 1.9-.2 1.1 1.6 1.7 .9 1.9 .1 1.9 .1 1.5 1.1M534.3 62.8l0-1.9 -.2-1.9 -.9-1.7 -.5-1.8 -.5-1.8M539.5 77.1l1.8-.4 1.7-1 1.5-1.2 1.8-.2 1.9-.1 .3-1.8 1.2-1.5 1.8 .6 1.9 .4 1.9-.2M598.3 64.5l1.9-.2 1.3 1.4 1.3 1.4 1.3 1.4 .9 1.6 1.5 1.2 1.3 1.4 1.6 1 .5 1.9 1 1.5 1.8 .8M570.8 104.5l-1.8-.5 -1.4-1.3 -.8-1.7 -1.6-1 -1.7-.8 -1.8-.7 -1.2-1.5 -1.5-1 -.7-1.8 .5-1.9M537.6 60.7l-1.8-.6 -1.5-1.2 -1.5-1.2 -.5-1.8 -.1-1.9 -1.3-1.4 .8-1.7M559.2 93.8l.3-1.9 1.7-1 1.9 .1 1.6 1 .3 1.8 1.5 1.2 1.1 1.6M545.3 79.8l-.2-1.9 .3-1.9 1.8-.7 1.7-.9 1.5-1.1 1.2-1.4 1.9-.5 1.7-.8 1.4-1.3 1-1.6 1.2-1.4 1.2-1.6M562.9 75.9l1.7-.8 1.7-.9 1.9 .4 1.8 .6 1.9 .2 1.7 .8 1.9 .3 1.9-.1 1.8-.6 1.6-1 1.5-1.2 1.9-.2 1.8 .3 1.7-.9M574.3 89.1l-1.6 1 -1.2 1.5 -1.8 .6 -1.9-.1 -1-1.7M604.6 59.8l.5-1.8 .8-1.8 .9-1.6 1-1.6M551.7 59.6l-1.1-1.5 -.7-1.8 -.6-1.8 -1.1-1.6 .6-1.8 1.9-.4M528.6 60l-.1 1.9 -.7 1.7 1.1 1.6 -.7 1.8 -1.7 .9M569.2 105.2l.3 1.9 .2 1.9 .7 1.7 -.1 1.9 -1.3 1.4 .3 1.9 -1 1.7M598.9 73.1l-1.4-1.3 -.4-1.9 -.9-1.7 .1-1.9 .2-1.9 0-1.9 -.7-1.7 .4-1.9 0-1.9 1.3-1.4M594.2 69.9l-.9-1.6 -1.5-1.2 -.6-1.8 -1.5-1.2 -1.4-1.3 -1.5-1.2 -.4-1.9 -.5-1.8 -1-1.6M556 62.9l1.5-1.1 .5-1.8 -1-1.6 .1-1.9 .5-1.9 .3-1.9 -.6-1.8M564.5 53.4l-1.3-1.3 -1.6-1.2 -1.8 .3 -1.9 .5 -1.4 1.2 -1.1 1.6 .4 1.9M551.7 73.5l1.8 .5 1.9-.3 1.8-.5 1.8-.6 1.4 1.3 1.7 .8 1.9 .4 1.8-.4 1.7 .9 1.5 1.1 1 1.6M537.6 64.2l1.2-1.5 1.8-.3 1.8-.7 1-1.7 .3-1.8 -.8-1.8 -1-1.6 -.6-1.8 -1-1.6 -.5-1.8M578.3 51.9l-.8 1.8 -1.1 1.5 -1.3 1.4 -1.6 .9 .6 1.8 .9 1.7 0 1.9 1.3 1.4 .5 1.8 -.1 1.9 0 1.9M561.2 103.8l.7 1.7 .9 1.7 1.7 .9 1.1 1.5 1.1 1.5 0 1.9M605.4 90.9l-1.5 1.2 -1.4 1.3 -1.9 .3 -1.1-1.5 -.4-1.9 -.9-1.7 .4-1.8 1.4-1.3 1.8-.6 1.7-.8 1.6-1.1M533.3 76l1.2-1.4 .9-1.7 .9-1.6 1.9 0 1.5-1.1 1.9-.5 1.5-1.1M584.9 102.7l-1.2 1.4 -1.7 .9 -.7 1.8 -1.5 1.2 -1.9-.3 -1.8-.2 -1.4-1.4 -1-1.6 .9-1.7 1.6-1 1.7-.8 1.6 .9 1.7 .9 1.7 .8M593.5 76.4l-1-1.7 1-1.6 1.2-1.5 1.2-1.5 .7-1.8 -1-1.6 -.6-1.8M557.4 85.3l1.4 1.2 .9 1.7 1.7 .8 1.9 .1 1.7-.8 1.8 .7 1.7 .8 .4 1.9 -1.2 1.5 -.9 1.6 -1.6 1.1 -1.5 1.1 -.1 1.9M582.4 52l-1.3 1.3 -.5 1.9 -1.4 1.3 -1.3 1.4 -1.8-.3M582.1 108.4l-1.6 1 -1.7 .8 -1.6 1 -1.9-.1 -1.9-.4 -1.3-1.3M581.1 48l.6 1.8 .1 1.9 1.7 1 1.8 .5 1.9-.1 1.5-1.2 .9-1.7M552.4 68.9l1.2-1.5 1-1.6 -.1-1.9 -.4-1.9 0-1.9M575.7 98.3l.8 1.8 .5 1.8 1.1 1.6 1.4 1.3 1.7 .8 1.3 1.4 -.8 1.7 -1.2 1.4 -.7 1.8M580.3 78.7l-1.1-1.6 1.3-1.4 -.3-1.9 .3-1.9 1.3-1.4 1.8-.6 1.1-1.6 1.5-1.1M590 77.3l1.7-.8 1.3-1.4 1.8-.5 1.7 .9 1.4 1.3 1.1 1.5 1.9 .5M538.2 74.1l.3-1.9 -.6-1.8 -1.4-1.2 -.5-1.9 .4-1.8M586.5 60.8l-1.7-.8 -1.9 .1 -1.6-.9 -1.9-.2 -1.8 .5 -1.9 0 -1.9-.4 -1-1.6 -1.7-1 -1.8-.6 -1.5-1.1 -1.6-1 -1.3-1.5M546.1 94.3l1.9-.2 1.9 0 1.8 .3 1.5-1.1 1.3-1.5 1-1.6M542.1 68.2l-1 1.6 -.4 1.8 -.1 1.9 -.3 1.9 -.1 1.9M602.6 85l-.3-1.8 -.1-1.9 1-1.6 -.7-1.8 -.3-1.9 -1.6-1 -1.8 .4 -1.1 1.6 -1.7 .9 -1.7 .9 -1.5 1.2 -1 1.6 0 1.9M572.9 85.3l.6-1.8 1.4-1.3 1.7-.8 1.9-.1 1.9-.1 1.7 .8 1.2 1.5 1.9 .5M585.2 92.3l1.6 1.1 1.7 .7 1.5-1.2 1.3-1.4 1.6-1 1.8-.5 1-1.6 1.2-1.5M552.8 54.8l1.8 .3 1.8 .7 1.8-.3 1.9-.4 .8-1.7 -.2-1.9 -.5-1.9M564.8 104.6l-1.8 .6 -1.9 0 -1.6-1.1 -1.7-.8 -1.8-.4 -1.8-.6 -1.3 1.5M559.6 99.9l-1.9-.4 -1.8 .5 -1.9 .6 -1.8 .3 -1.9-.1 -1.9 .3M600.9 100.2l.9-1.7 .6-1.8 .4-1.9 -1.1-1.5 -1-1.6 -1.9-.2 -1.4 1.4 -1.6-.9 -1.8-.7 .1-1.9 1.4-1.3 1.9-.1 .8-1.7 1.8-.4M536.1 83l-1.8-.6 -1.7-.8 -1.7-.9M578.2 108.5l-1.5 1.2 -1.9 .3 -.8 1.7 -.2 1.9 1.7 .7 1.9 .5 1.7 .8 1.6 1M557.3 105.1l-1.8-.7 -1.2 1.5M600.6 60.2l.7 1.8 1.7 .8 1.5 1.2 .5 1.8 -.9 1.7 -.1 1.9M554.7 66.8l1.6-1.1 1.8 .4 1.7 1 1.8 .6 .3 1.9 .5 1.8M587.4 52.6l1.9-.3 1.6 1.1 -.1 1.9 -.9 1.6 -1.2 1.5M565.7 96.2l.8 1.7 -.7 1.8 -1.3 1.4 -1.1 1.5 -.5 1.9 -.7 1.8 .3 1.8 .8 1.7 1.8 .7 1.6 1.1 1.5 1.2 1.6 .9 .9 1.7 1.9 0" fill="none" stroke="#1a22ff" stroke-width="0.25" stroke-opacity="0.6" stroke-linejoin="round"/>
</g>
<rect x="518.4" y="22.8" width="120.80000000000007" height="103.5" fill="none" stroke="#222" stroke-width="0.8"/>
<text x="91.4" y="139.6" font-size="8.6" text-anchor="start" font-weight="bold" fill="#228b22" textLength="54.8" lengthAdjust="spacingAndGlyphs" >Congo Basin</text>
<text x="599.2" y="147.8" font-size="8.6" text-anchor="start" font-weight="bold" fill="#228b22" textLength="62.2" lengthAdjust="spacingAndGlyphs" >Amazon Basin</text>
<text x="168" y="181.5" font-size="8.4" text-anchor="start" font-weight="bold" fill="#ffa500" textLength="38.8" lengthAdjust="spacingAndGlyphs" >IOD west</text>
<text x="235.2" y="181.5" font-size="8.4" text-anchor="start" font-weight="bold" fill="#bf00bf" textLength="37.4" lengthAdjust="spacingAndGlyphs" >IOD east</text>
<text x="353.9" y="172.8" font-size="8.4" text-anchor="start" font-weight="bold" fill="#1cbfbf" textLength="24.2" lengthAdjust="spacingAndGlyphs" >Nino4</text>
<text x="429.8" y="173" font-size="8.4" text-anchor="start" font-weight="bold" fill="#111" textLength="33.7" lengthAdjust="spacingAndGlyphs" >Nino3.4</text>
<text x="489.1" y="173" font-size="8.4" text-anchor="start" font-weight="bold" fill="#c4bc00" textLength="25.3" lengthAdjust="spacingAndGlyphs" >Nino3</text>
<text x="514.6" y="181.6" font-size="8.4" text-anchor="start" font-weight="bold" fill="#1cf0a0" textLength="36.8" lengthAdjust="spacingAndGlyphs" >Nino1+2</text>
<text x="68.3" y="293.8" font-size="8.6" text-anchor="end" font-weight="normal" fill="#222" >80°S</text>
<text x="68.3" y="277" font-size="8.6" text-anchor="end" font-weight="normal" fill="#222" >70°S</text>
<text x="68.3" y="260.1" font-size="8.6" text-anchor="end" font-weight="normal" fill="#222" >60°S</text>
<text x="68.3" y="243.2" font-size="8.6" text-anchor="end" font-weight="normal" fill="#222" >50°S</text>
<text x="68.3" y="226.3" font-size="8.6" text-anchor="end" font-weight="normal" fill="#222" >40°S</text>
<text x="68.3" y="209.4" font-size="8.6" text-anchor="end" font-weight="normal" fill="#222" >30°S</text>
<text x="68.3" y="192.6" font-size="8.6" text-anchor="end" font-weight="normal" fill="#222" >20°S</text>
<text x="68.3" y="175.7" font-size="8.6" text-anchor="end" font-weight="normal" fill="#222" >10°S</text>
<text x="68.3" y="158.8" font-size="8.6" text-anchor="end" font-weight="normal" fill="#222" >0°</text>
<text x="68.3" y="141.9" font-size="8.6" text-anchor="end" font-weight="normal" fill="#222" >10°N</text>
<text x="68.3" y="125" font-size="8.6" text-anchor="end" font-weight="normal" fill="#222" >20°N</text>
<text x="68.3" y="108.2" font-size="8.6" text-anchor="end" font-weight="normal" fill="#222" >30°N</text>
<text x="68.3" y="91.3" font-size="8.6" text-anchor="end" font-weight="normal" fill="#222" >40°N</text>
<text x="68.3" y="74.4" font-size="8.6" text-anchor="end" font-weight="normal" fill="#222" >50°N</text>
<text x="68.3" y="57.5" font-size="8.6" text-anchor="end" font-weight="normal" fill="#222" >60°N</text>
<text x="68.3" y="40.6" font-size="8.6" text-anchor="end" font-weight="normal" fill="#222" >70°N</text>
<text x="90.6" y="320.1" font-size="8.6" text-anchor="middle" font-weight="normal" fill="#222" >10°E</text>
<text x="141.4" y="320.1" font-size="8.6" text-anchor="middle" font-weight="normal" fill="#222" >40°E</text>
<text x="192.2" y="320.1" font-size="8.6" text-anchor="middle" font-weight="normal" fill="#222" >70°E</text>
<text x="243" y="320.1" font-size="8.6" text-anchor="middle" font-weight="normal" fill="#222" >100°E</text>
<text x="293.8" y="320.1" font-size="8.6" text-anchor="middle" font-weight="normal" fill="#222" >130°E</text>
<text x="344.6" y="320.1" font-size="8.6" text-anchor="middle" font-weight="normal" fill="#222" >160°E</text>
<text x="395.4" y="320.1" font-size="8.6" text-anchor="middle" font-weight="normal" fill="#222" >170°W</text>
<text x="446.2" y="320.1" font-size="8.6" text-anchor="middle" font-weight="normal" fill="#222" >140°W</text>
<text x="497" y="320.1" font-size="8.6" text-anchor="middle" font-weight="normal" fill="#222" >110°W</text>
<text x="547.8" y="320.1" font-size="8.6" text-anchor="middle" font-weight="normal" fill="#222" >80°W</text>
<text x="598.6" y="320.1" font-size="8.6" text-anchor="middle" font-weight="normal" fill="#222" >50°W</text>
<text x="649.4" y="320.1" font-size="8.6" text-anchor="middle" font-weight="normal" fill="#222" >20°W</text>
<text transform="translate(0.2 13.2) scale(0.9 1)" font-size="25.5" font-weight="bold">a</text>
<text transform="translate(0.2 441.7) scale(0.93 1)" font-size="25" font-weight="bold">b</text>
<rect x="102" y="336.3" width="552.8" height="15.199999999999989" fill="url(#cb)"/>
<path d="M102.3 336.3 L74.4 343.9 L102.3 351.5Z" fill="#0000ff"/>
<path d="M654.5 336.3 L682.4 343.9 L654.5 351.5Z" fill="#ff0000"/>
<path d="M102 336.3 H654.8 L682.4 343.9 L654.8 351.5 H102 L74.4 343.9Z" fill="none" stroke="#000" stroke-width="0.8" stroke-linejoin="miter"/>
<path d="M187.8 351.5 v3.6" stroke="#000" stroke-width="0.8"/>
<text x="187.8" y="363.2" font-size="8.4" text-anchor="middle" font-weight="normal" fill="#222" >−1.0</text>
<path d="M290.0 351.5 v3.6" stroke="#000" stroke-width="0.8"/>
<text x="290" y="363.2" font-size="8.4" text-anchor="middle" font-weight="normal" fill="#222" >−0.5</text>
<path d="M392.4 351.5 v3.6" stroke="#000" stroke-width="0.8"/>
<text x="392.4" y="363.2" font-size="8.4" text-anchor="middle" font-weight="normal" fill="#222" >0.0</text>
<path d="M495.3 351.5 v3.6" stroke="#000" stroke-width="0.8"/>
<text x="495.3" y="363.2" font-size="8.4" text-anchor="middle" font-weight="normal" fill="#222" >0.5</text>
<path d="M597.1 351.5 v3.6" stroke="#000" stroke-width="0.8"/>
<text x="597.1" y="363.2" font-size="8.4" text-anchor="middle" font-weight="normal" fill="#222" >1.0</text>
<text x="378.5" y="377.3" font-size="11.8" text-anchor="middle" fill="#000" textLength="213.5" lengthAdjust="spacingAndGlyphs">Annual SST anomaly in 2008 (in <tspan font-size="8" dy="-3">°</tspan><tspan dy="3" font-style="italic">C</tspan>)</text>
<text x="368.3" y="428.8" font-size="14.2" text-anchor="middle" font-weight="normal" fill="#000" textLength="404.5" lengthAdjust="spacingAndGlyphs" >Standardized Annual Discharge Anomaly and ONI Index</text>
<path d="M130.1 452.7 V570.8 M185.2 452.7 V570.8 M240.3 452.7 V570.8 M295.4 452.7 V570.8 M350.5 452.7 V570.8 M405.6 452.7 V570.8 M460.7 452.7 V570.8 M515.8 452.7 V570.8 M570.9 452.7 V570.8 M626 452.7 V570.8 M74.9 520.3 H681.5 M74.9 463.5 H681.5" stroke="#b0b0b0" stroke-width="0.9" fill="none"/>
<polyline points="130.1,493.8 185.2,490.6 240.3,491.2 295.4,558.6 350.5,566.0 405.6,559.3 460.7,505.0 515.8,515.1 570.9,520.3 626,503.8" fill="none" stroke="#00ff00" stroke-width="2.2" stroke-dasharray="8.2 3.5"/>
<rect x="126.8" y="490.5" width="6.6" height="6.6" fill="#00ff00"/>
<rect x="181.9" y="487.3" width="6.6" height="6.6" fill="#00ff00"/>
<rect x="237" y="487.9" width="6.6" height="6.6" fill="#00ff00"/>
<rect x="292.1" y="555.3" width="6.6" height="6.6" fill="#00ff00"/>
<rect x="347.2" y="562.7" width="6.6" height="6.6" fill="#00ff00"/>
<rect x="402.3" y="556" width="6.6" height="6.6" fill="#00ff00"/>
<rect x="457.4" y="501.7" width="6.6" height="6.6" fill="#00ff00"/>
<rect x="512.5" y="511.8" width="6.6" height="6.6" fill="#00ff00"/>
<rect x="567.6" y="517" width="6.6" height="6.6" fill="#00ff00"/>
<rect x="622.7" y="500.5" width="6.6" height="6.6" fill="#00ff00"/>
<polyline points="130.1,520.3 185.2,514.5 240.3,531.4 295.4,545.2 350.5,551.0 405.6,503.2 460.7,538.1 515.8,491.2 570.9,458.0 626,551.8" fill="none" stroke="#008000" stroke-width="2.2" stroke-linejoin="round"/>
<circle cx="130.1" cy="520.3" r="3.4" fill="#008000"/>
<circle cx="185.2" cy="514.5" r="3.4" fill="#008000"/>
<circle cx="240.3" cy="531.4" r="3.4" fill="#008000"/>
<circle cx="295.4" cy="545.2" r="3.4" fill="#008000"/>
<circle cx="350.5" cy="551.0" r="3.4" fill="#008000"/>
<circle cx="405.6" cy="503.2" r="3.4" fill="#008000"/>
<circle cx="460.7" cy="538.1" r="3.4" fill="#008000"/>
<circle cx="515.8" cy="491.2" r="3.4" fill="#008000"/>
<circle cx="570.9" cy="458.0" r="3.4" fill="#008000"/>
<circle cx="626" cy="551.8" r="3.4" fill="#008000"/>
<path d="M130.1 570.8 v3.8 M185.2 570.8 v3.8 M240.3 570.8 v3.8 M295.4 570.8 v3.8 M350.5 570.8 v3.8 M405.6 570.8 v3.8 M460.7 570.8 v3.8 M515.8 570.8 v3.8 M570.9 570.8 v3.8 M626 570.8 v3.8 M74.9 520.3 h-3.8 M74.9 463.5 h-3.8" stroke="#000" stroke-width="0.9" fill="none"/>
<rect x="74.9" y="452.7" width="606.6" height="118.09999999999997" fill="none" stroke="#000" stroke-width="0.9"/>
<text x="66.6" y="524.5" font-size="12" text-anchor="end" font-weight="normal" fill="#000" textLength="7.3" lengthAdjust="spacingAndGlyphs" >0</text>
<text x="66.6" y="467.7" font-size="12" text-anchor="end" font-weight="normal" fill="#000" textLength="7.3" lengthAdjust="spacingAndGlyphs" >2</text>
<text transform="translate(51.4 511.8) rotate(-90)" font-size="12.4" text-anchor="middle" textLength="135" lengthAdjust="spacingAndGlyphs">Standardized Anomaly</text>
<rect x="80.4" y="458.4" width="92.6" height="39.2" rx="2.2" fill="#fff" fill-opacity="0.8" stroke="#ccc" stroke-width="0.9"/>
<path d="M84.6 468.2 H111" stroke="#008000" stroke-width="2.2"/><circle cx="97.8" cy="468.2" r="3.4" fill="#008000"/>
<path d="M86 486 H106" stroke="#00ff00" stroke-width="2.2" stroke-dasharray="8.2 3.5"/><rect x="94.5" y="482.7" width="6.6" height="6.6" fill="#00ff00"/>
<text x="119.9" y="472.4" font-size="11.8" text-anchor="start" font-weight="normal" fill="#000" textLength="48.5" lengthAdjust="spacingAndGlyphs" >Amazon</text>
<text x="119.9" y="490.1" font-size="11.8" text-anchor="start" font-weight="normal" fill="#000" textLength="38.5" lengthAdjust="spacingAndGlyphs" >Congo</text>
<path d="M130.1 595.1 V714.1 M185.2 595.1 V714.1 M240.3 595.1 V714.1 M295.4 595.1 V714.1 M350.5 595.1 V714.1 M405.6 595.1 V714.1 M460.7 595.1 V714.1 M515.8 595.1 V714.1 M570.9 595.1 V714.1 M626 595.1 V714.1 M74.9 688.6 H681.5 M74.9 654.9 H681.5 M74.9 621.2 H681.5" stroke="#b0b0b0" stroke-width="0.9" fill="none"/>
<rect x="102.30" y="654.90" width="4.94" height="23.59" fill="#0000ff" shape-rendering="crispEdges"/>
<rect x="106.89" y="654.90" width="4.94" height="16.85" fill="#0000ff" shape-rendering="crispEdges"/>
<rect x="111.48" y="654.90" width="4.94" height="13.48" fill="#808080" shape-rendering="crispEdges"/>
<rect x="116.08" y="654.90" width="4.94" height="10.11" fill="#808080" shape-rendering="crispEdges"/>
<rect x="120.67" y="654.90" width="4.94" height="10.11" fill="#808080" shape-rendering="crispEdges"/>
<rect x="125.26" y="654.90" width="4.94" height="3.37" fill="#808080" shape-rendering="crispEdges"/>
<rect x="129.85" y="654.90" width="4.94" height="3.37" fill="#808080" shape-rendering="crispEdges"/>
<rect x="134.44" y="654.90" width="4.94" height="3.37" fill="#808080" shape-rendering="crispEdges"/>
<rect x="139.03" y="654.90" width="4.94" height="6.74" fill="#808080" shape-rendering="crispEdges"/>
<rect x="143.62" y="654.90" width="4.94" height="10.11" fill="#808080" shape-rendering="crispEdges"/>
<rect x="148.22" y="654.90" width="4.94" height="10.11" fill="#808080" shape-rendering="crispEdges"/>
<rect x="152.81" y="654.90" width="4.94" height="10.11" fill="#808080" shape-rendering="crispEdges"/>
<rect x="157.40" y="654.90" width="4.94" height="3.37" fill="#808080" shape-rendering="crispEdges"/>
<rect x="166.58" y="651.53" width="4.94" height="3.37" fill="#808080" shape-rendering="crispEdges"/>
<rect x="171.18" y="648.16" width="4.94" height="6.74" fill="#808080" shape-rendering="crispEdges"/>
<rect x="175.77" y="641.42" width="4.94" height="13.48" fill="#808080" shape-rendering="crispEdges"/>
<rect x="180.36" y="631.31" width="4.94" height="23.59" fill="#ff0000" shape-rendering="crispEdges"/>
<rect x="184.95" y="627.94" width="4.94" height="26.96" fill="#ff0000" shape-rendering="crispEdges"/>
<rect x="189.54" y="624.57" width="4.94" height="30.33" fill="#ff0000" shape-rendering="crispEdges"/>
<rect x="194.13" y="621.20" width="4.94" height="33.70" fill="#ff0000" shape-rendering="crispEdges"/>
<rect x="198.72" y="614.46" width="4.94" height="40.44" fill="#ff0000" shape-rendering="crispEdges"/>
<rect x="203.32" y="611.09" width="4.94" height="43.81" fill="#ff0000" shape-rendering="crispEdges"/>
<rect x="207.91" y="617.83" width="4.94" height="37.07" fill="#ff0000" shape-rendering="crispEdges"/>
<rect x="212.50" y="624.57" width="4.94" height="30.33" fill="#ff0000" shape-rendering="crispEdges"/>
<rect x="217.09" y="634.68" width="4.94" height="20.22" fill="#ff0000" shape-rendering="crispEdges"/>
<rect x="221.68" y="641.42" width="4.94" height="13.48" fill="#808080" shape-rendering="crispEdges"/>
<rect x="230.87" y="654.90" width="4.94" height="10.11" fill="#808080" shape-rendering="crispEdges"/>
<rect x="235.46" y="654.90" width="4.94" height="6.74" fill="#808080" shape-rendering="crispEdges"/>
<rect x="240.05" y="651.53" width="4.94" height="3.37" fill="#808080" shape-rendering="crispEdges"/>
<rect x="244.64" y="648.16" width="4.94" height="6.74" fill="#808080" shape-rendering="crispEdges"/>
<rect x="249.23" y="644.79" width="4.94" height="10.11" fill="#808080" shape-rendering="crispEdges"/>
<rect x="253.82" y="644.79" width="4.94" height="10.11" fill="#808080" shape-rendering="crispEdges"/>
<rect x="258.42" y="641.42" width="4.94" height="13.48" fill="#808080" shape-rendering="crispEdges"/>
<rect x="263.01" y="641.42" width="4.94" height="13.48" fill="#808080" shape-rendering="crispEdges"/>
<rect x="267.60" y="641.42" width="4.94" height="13.48" fill="#808080" shape-rendering="crispEdges"/>
<rect x="272.19" y="644.79" width="4.94" height="10.11" fill="#808080" shape-rendering="crispEdges"/>
<rect x="276.78" y="648.16" width="4.94" height="6.74" fill="#808080" shape-rendering="crispEdges"/>
<rect x="281.38" y="648.16" width="4.94" height="6.74" fill="#808080" shape-rendering="crispEdges"/>
<rect x="285.97" y="648.16" width="4.94" height="6.74" fill="#808080" shape-rendering="crispEdges"/>
<rect x="290.56" y="644.79" width="4.94" height="10.11" fill="#808080" shape-rendering="crispEdges"/>
<rect x="295.15" y="638.05" width="4.94" height="16.85" fill="#ff0000" shape-rendering="crispEdges"/>
<rect x="299.74" y="634.68" width="4.94" height="20.22" fill="#ff0000" shape-rendering="crispEdges"/>
<rect x="304.33" y="631.31" width="4.94" height="23.59" fill="#ff0000" shape-rendering="crispEdges"/>
<rect x="308.93" y="631.31" width="4.94" height="23.59" fill="#ff0000" shape-rendering="crispEdges"/>
<rect x="313.52" y="631.31" width="4.94" height="23.59" fill="#ff0000" shape-rendering="crispEdges"/>
<rect x="318.11" y="631.31" width="4.94" height="23.59" fill="#ff0000" shape-rendering="crispEdges"/>
<rect x="322.70" y="634.68" width="4.94" height="20.22" fill="#ff0000" shape-rendering="crispEdges"/>
<rect x="327.29" y="634.68" width="4.94" height="20.22" fill="#ff0000" shape-rendering="crispEdges"/>
<rect x="331.88" y="641.42" width="4.94" height="13.48" fill="#808080" shape-rendering="crispEdges"/>
<rect x="336.48" y="641.42" width="4.94" height="13.48" fill="#808080" shape-rendering="crispEdges"/>
<rect x="341.07" y="644.79" width="4.94" height="10.11" fill="#808080" shape-rendering="crispEdges"/>
<rect x="345.66" y="651.53" width="4.94" height="3.37" fill="#808080" shape-rendering="crispEdges"/>
<rect x="350.25" y="654.90" width="4.94" height="3.37" fill="#808080" shape-rendering="crispEdges"/>
<rect x="354.84" y="654.90" width="4.94" height="3.37" fill="#808080" shape-rendering="crispEdges"/>
<rect x="359.43" y="654.90" width="4.94" height="3.37" fill="#808080" shape-rendering="crispEdges"/>
<rect x="364.03" y="654.90" width="4.94" height="10.11" fill="#808080" shape-rendering="crispEdges"/>
<rect x="368.62" y="654.90" width="4.94" height="20.22" fill="#0000ff" shape-rendering="crispEdges"/>
<rect x="373.21" y="654.90" width="4.94" height="26.96" fill="#0000ff" shape-rendering="crispEdges"/>
<rect x="377.80" y="654.90" width="4.94" height="30.33" fill="#0000ff" shape-rendering="crispEdges"/>
<rect x="382.39" y="654.90" width="4.94" height="26.96" fill="#0000ff" shape-rendering="crispEdges"/>
<rect x="386.98" y="654.90" width="4.94" height="20.22" fill="#0000ff" shape-rendering="crispEdges"/>
<rect x="391.58" y="654.90" width="4.94" height="13.48" fill="#808080" shape-rendering="crispEdges"/>
<rect x="396.17" y="654.90" width="4.94" height="3.37" fill="#808080" shape-rendering="crispEdges"/>
<rect x="405.35" y="651.53" width="4.94" height="3.37" fill="#808080" shape-rendering="crispEdges"/>
<rect x="409.94" y="644.79" width="4.94" height="10.11" fill="#808080" shape-rendering="crispEdges"/>
<rect x="414.53" y="638.05" width="4.94" height="16.85" fill="#ff0000" shape-rendering="crispEdges"/>
<rect x="419.12" y="627.94" width="4.94" height="26.96" fill="#ff0000" shape-rendering="crispEdges"/>
<rect x="423.72" y="624.57" width="4.94" height="30.33" fill="#ff0000" shape-rendering="crispEdges"/>
<rect x="428.31" y="624.57" width="4.94" height="30.33" fill="#ff0000" shape-rendering="crispEdges"/>
<rect x="432.90" y="631.31" width="4.94" height="23.59" fill="#ff0000" shape-rendering="crispEdges"/>
<rect x="437.49" y="648.16" width="4.94" height="6.74" fill="#808080" shape-rendering="crispEdges"/>
<rect x="442.08" y="654.90" width="4.94" height="3.37" fill="#808080" shape-rendering="crispEdges"/>
<rect x="446.68" y="654.90" width="4.94" height="10.11" fill="#808080" shape-rendering="crispEdges"/>
<rect x="451.27" y="654.90" width="4.94" height="13.48" fill="#808080" shape-rendering="crispEdges"/>
<rect x="455.86" y="654.90" width="4.94" height="16.85" fill="#0000ff" shape-rendering="crispEdges"/>
<rect x="460.45" y="654.90" width="4.94" height="20.22" fill="#0000ff" shape-rendering="crispEdges"/>
<rect x="465.04" y="654.90" width="4.94" height="26.96" fill="#0000ff" shape-rendering="crispEdges"/>
<rect x="469.63" y="654.90" width="4.94" height="37.07" fill="#0000ff" shape-rendering="crispEdges"/>
<rect x="474.23" y="654.90" width="4.94" height="43.81" fill="#0000ff" shape-rendering="crispEdges"/>
<rect x="478.82" y="654.90" width="4.94" height="50.55" fill="#0000ff" shape-rendering="crispEdges"/>
<rect x="483.41" y="654.90" width="4.94" height="53.92" fill="#0000ff" shape-rendering="crispEdges"/>
<rect x="488.00" y="654.90" width="4.94" height="53.92" fill="#0000ff" shape-rendering="crispEdges"/>
<rect x="492.59" y="654.90" width="4.94" height="50.55" fill="#0000ff" shape-rendering="crispEdges"/>
<rect x="497.18" y="654.90" width="4.94" height="43.81" fill="#0000ff" shape-rendering="crispEdges"/>
<rect x="501.78" y="654.90" width="4.94" height="33.70" fill="#0000ff" shape-rendering="crispEdges"/>
<rect x="506.37" y="654.90" width="4.94" height="26.96" fill="#0000ff" shape-rendering="crispEdges"/>
<rect x="510.96" y="654.90" width="4.94" height="20.22" fill="#0000ff" shape-rendering="crispEdges"/>
<rect x="515.55" y="654.90" width="4.94" height="13.48" fill="#808080" shape-rendering="crispEdges"/>
<rect x="520.14" y="654.90" width="4.94" height="6.74" fill="#808080" shape-rendering="crispEdges"/>
<rect x="524.73" y="654.90" width="4.94" height="6.74" fill="#808080" shape-rendering="crispEdges"/>
<rect x="529.33" y="654.90" width="4.94" height="13.48" fill="#808080" shape-rendering="crispEdges"/>
<rect x="533.92" y="654.90" width="4.94" height="20.22" fill="#0000ff" shape-rendering="crispEdges"/>
<rect x="538.51" y="654.90" width="4.94" height="23.59" fill="#0000ff" shape-rendering="crispEdges"/>
<rect x="543.10" y="654.90" width="4.94" height="26.96" fill="#0000ff" shape-rendering="crispEdges"/>
<rect x="547.69" y="654.90" width="4.94" height="26.96" fill="#0000ff" shape-rendering="crispEdges"/>
<rect x="552.28" y="654.90" width="4.94" height="20.22" fill="#0000ff" shape-rendering="crispEdges"/>
<rect x="556.88" y="654.90" width="4.94" height="10.11" fill="#808080" shape-rendering="crispEdges"/>
<rect x="566.06" y="644.79" width="4.94" height="10.11" fill="#808080" shape-rendering="crispEdges"/>
<rect x="570.65" y="638.05" width="4.94" height="16.85" fill="#ff0000" shape-rendering="crispEdges"/>
<rect x="575.24" y="634.68" width="4.94" height="20.22" fill="#ff0000" shape-rendering="crispEdges"/>
<rect x="579.83" y="631.31" width="4.94" height="23.59" fill="#ff0000" shape-rendering="crispEdges"/>
<rect x="584.42" y="621.20" width="4.94" height="33.70" fill="#ff0000" shape-rendering="crispEdges"/>
<rect x="589.02" y="607.72" width="4.94" height="47.18" fill="#ff0000" shape-rendering="crispEdges"/>
<rect x="593.61" y="600.98" width="4.94" height="53.92" fill="#ff0000" shape-rendering="crispEdges"/>
<rect x="598.20" y="604.35" width="4.94" height="50.55" fill="#ff0000" shape-rendering="crispEdges"/>
<rect x="602.79" y="614.46" width="4.94" height="40.44" fill="#ff0000" shape-rendering="crispEdges"/>
<rect x="607.38" y="627.94" width="4.94" height="26.96" fill="#ff0000" shape-rendering="crispEdges"/>
<rect x="611.98" y="641.42" width="4.94" height="13.48" fill="#808080" shape-rendering="crispEdges"/>
<rect x="616.57" y="654.90" width="4.94" height="6.74" fill="#808080" shape-rendering="crispEdges"/>
<rect x="621.16" y="654.90" width="4.94" height="23.59" fill="#0000ff" shape-rendering="crispEdges"/>
<rect x="625.75" y="654.90" width="4.94" height="33.70" fill="#0000ff" shape-rendering="crispEdges"/>
<rect x="630.34" y="654.90" width="4.94" height="43.81" fill="#0000ff" shape-rendering="crispEdges"/>
<rect x="634.93" y="654.90" width="4.94" height="53.92" fill="#0000ff" shape-rendering="crispEdges"/>
<rect x="639.52" y="654.90" width="4.94" height="53.92" fill="#0000ff" shape-rendering="crispEdges"/>
<rect x="644.12" y="654.90" width="4.94" height="53.92" fill="#0000ff" shape-rendering="crispEdges"/>
<rect x="648.71" y="654.90" width="4.94" height="53.92" fill="#0000ff" shape-rendering="crispEdges"/>
<path d="M74.9 638 H681.5" stroke="#ff0000" stroke-width="0.9" stroke-dasharray="0.9 1.5" stroke-opacity="0.85" fill="none"/>
<path d="M74.9 671.8 H681.5" stroke="#0000ff" stroke-width="0.9" stroke-dasharray="0.9 1.5" stroke-opacity="0.85" fill="none"/>
<path d="M130.1 714.1 v3.8 M185.2 714.1 v3.8 M240.3 714.1 v3.8 M295.4 714.1 v3.8 M350.5 714.1 v3.8 M405.6 714.1 v3.8 M460.7 714.1 v3.8 M515.8 714.1 v3.8 M570.9 714.1 v3.8 M626 714.1 v3.8 M74.9 688.6 h-3.8 M74.9 654.9 h-3.8 M74.9 621.2 h-3.8" stroke="#000" stroke-width="0.9" fill="none"/>
<rect x="74.9" y="595.1" width="606.6" height="119.0" fill="none" stroke="#000" stroke-width="0.9"/>
<text x="66.6" y="625.4" font-size="12" text-anchor="end" font-weight="normal" fill="#000" textLength="7.3" lengthAdjust="spacingAndGlyphs" >1</text>
<text x="66.6" y="659.1" font-size="12" text-anchor="end" font-weight="normal" fill="#000" textLength="7.3" lengthAdjust="spacingAndGlyphs" >0</text>
<text x="66.6" y="692.8" font-size="12" text-anchor="end" font-weight="normal" fill="#000" textLength="16.7" lengthAdjust="spacingAndGlyphs" >−1</text>
<text x="130.1" y="731.7" font-size="12" text-anchor="middle" font-weight="normal" fill="#000" textLength="29.3" lengthAdjust="spacingAndGlyphs" >2001</text>
<text x="185.2" y="731.7" font-size="12" text-anchor="middle" font-weight="normal" fill="#000" textLength="29.3" lengthAdjust="spacingAndGlyphs" >2002</text>
<text x="240.3" y="731.7" font-size="12" text-anchor="middle" font-weight="normal" fill="#000" textLength="29.3" lengthAdjust="spacingAndGlyphs" >2003</text>
<text x="295.4" y="731.7" font-size="12" text-anchor="middle" font-weight="normal" fill="#000" textLength="29.3" lengthAdjust="spacingAndGlyphs" >2004</text>
<text x="350.5" y="731.7" font-size="12" text-anchor="middle" font-weight="normal" fill="#000" textLength="29.3" lengthAdjust="spacingAndGlyphs" >2005</text>
<text x="405.6" y="731.7" font-size="12" text-anchor="middle" font-weight="normal" fill="#000" textLength="29.3" lengthAdjust="spacingAndGlyphs" >2006</text>
<text x="460.7" y="731.7" font-size="12" text-anchor="middle" font-weight="normal" fill="#000" textLength="29.3" lengthAdjust="spacingAndGlyphs" >2007</text>
<text x="515.8" y="731.7" font-size="12" text-anchor="middle" font-weight="normal" fill="#000" textLength="29.3" lengthAdjust="spacingAndGlyphs" >2008</text>
<text x="570.9" y="731.7" font-size="12" text-anchor="middle" font-weight="normal" fill="#000" textLength="29.3" lengthAdjust="spacingAndGlyphs" >2009</text>
<text x="626" y="731.7" font-size="12" text-anchor="middle" font-weight="normal" fill="#000" textLength="29.3" lengthAdjust="spacingAndGlyphs" >2010</text>
<text x="378.3" y="748" font-size="12.2" text-anchor="middle" font-weight="normal" fill="#000" textLength="27.5" lengthAdjust="spacingAndGlyphs" >Year</text>
<text transform="translate(41.8 655.1) rotate(-90)" font-size="12.2" text-anchor="middle" textLength="58.8" lengthAdjust="spacingAndGlyphs">ONI Index</text>
</svg></body></html>
